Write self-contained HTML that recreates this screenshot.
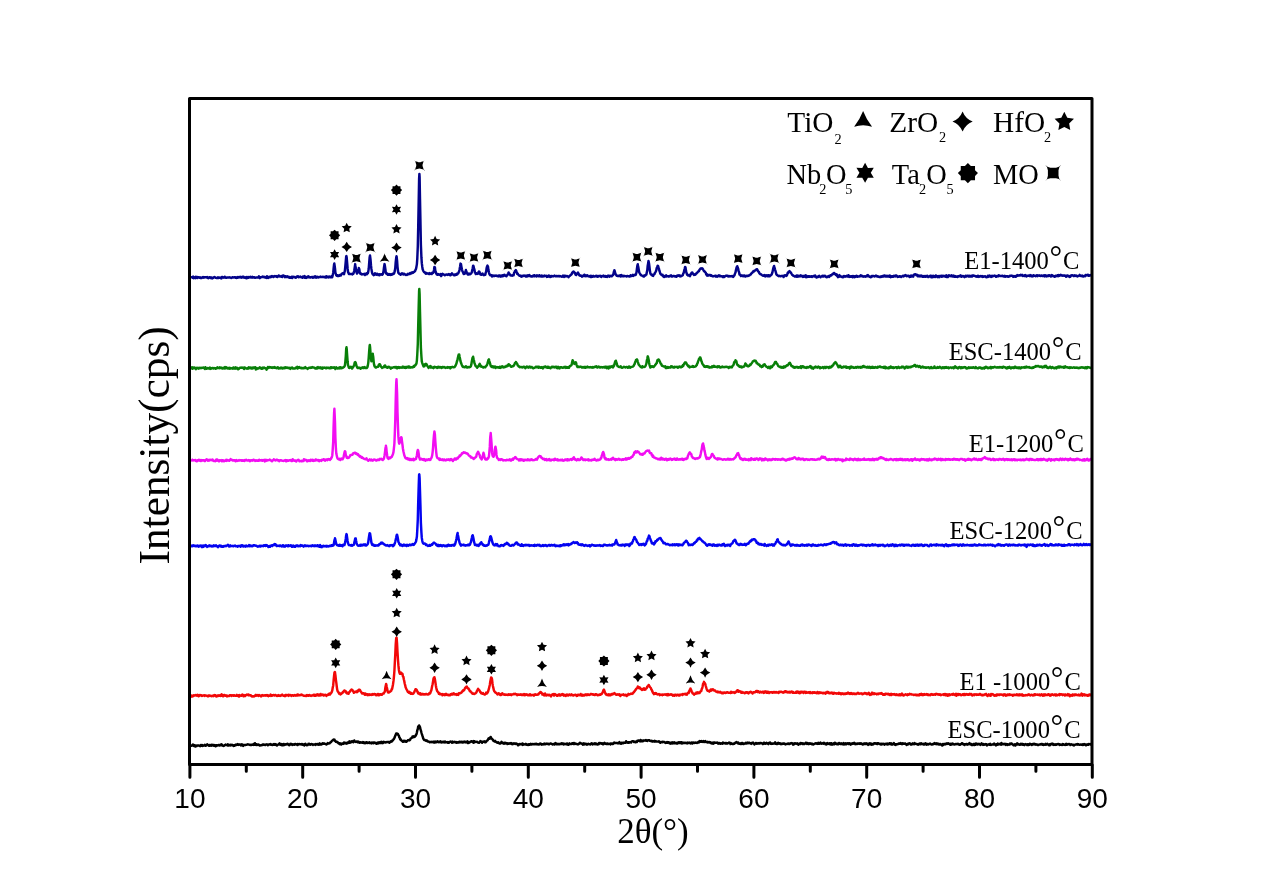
<!DOCTYPE html>
<html><head><meta charset="utf-8"><title>XRD</title>
<style>
html,body{margin:0;padding:0;background:#fff;}
svg{display:block;}
.serif{font-family:"Liberation Serif","Times New Roman",serif;}
.sans{font-family:"Liberation Sans",Arial,sans-serif;}
</style></head><body>
<svg width="1269" height="892" viewBox="0 0 1269 892">
<rect width="1269" height="892" fill="#fff"/>
<path d="M191.0,278.2 L191.4,277.3 L191.9,277.4 L192.3,277.0 L192.8,277.8 L193.2,276.6 L193.7,278.2 L194.1,277.2 L194.6,277.8 L195.0,277.4 L195.5,278.1 L195.9,276.7 L196.4,277.4 L196.8,277.3 L197.3,278.0 L197.7,277.1 L198.2,277.5 L198.6,277.2 L199.1,277.5 L199.5,277.8 L200.0,277.2 L200.4,278.1 L200.9,278.0 L201.3,277.9 L201.8,278.0 L202.2,277.3 L202.7,277.4 L203.1,277.1 L203.6,277.4 L204.0,277.7 L204.5,277.2 L204.9,277.3 L205.4,277.1 L205.8,277.1 L206.3,277.1 L206.7,277.4 L207.2,277.1 L207.6,277.7 L208.1,278.2 L208.5,277.9 L209.0,277.5 L209.4,277.2 L209.9,277.2 L210.3,278.1 L210.8,277.6 L211.2,277.4 L211.7,277.7 L212.1,278.4 L212.6,277.7 L213.0,277.9 L213.5,277.6 L213.9,277.3 L214.4,277.0 L214.8,277.3 L215.3,277.4 L215.7,277.8 L216.2,277.9 L216.6,278.0 L217.1,277.7 L217.5,278.0 L218.0,277.3 L218.4,278.0 L218.9,277.7 L219.3,277.5 L219.8,277.8 L220.2,277.6 L220.7,278.2 L221.1,278.2 L221.6,278.4 L222.0,277.0 L222.5,276.9 L222.9,277.2 L223.4,277.5 L223.8,277.7 L224.3,277.5 L224.7,276.7 L225.2,277.3 L225.6,277.7 L226.1,277.6 L226.5,277.8 L227.0,277.4 L227.4,277.4 L227.9,277.5 L228.3,277.6 L228.8,277.5 L229.2,277.5 L229.7,277.2 L230.1,277.6 L230.6,277.6 L231.0,278.0 L231.5,278.0 L231.9,277.6 L232.4,277.3 L232.8,277.2 L233.3,277.5 L233.7,277.4 L234.2,277.3 L234.6,277.4 L235.1,277.2 L235.5,277.7 L236.0,277.3 L236.4,278.0 L236.9,277.6 L237.3,277.7 L237.8,277.0 L238.2,277.4 L238.7,277.6 L239.1,277.0 L239.6,277.2 L240.0,277.3 L240.5,276.9 L240.9,277.5 L241.4,277.7 L241.8,277.0 L242.3,277.5 L242.7,276.7 L243.2,277.3 L243.6,276.7 L244.1,277.8 L244.5,277.5 L245.0,277.5 L245.4,277.2 L245.9,277.9 L246.3,278.2 L246.8,276.9 L247.2,278.0 L247.7,278.0 L248.1,277.6 L248.6,277.0 L249.0,277.6 L249.5,277.2 L249.9,277.1 L250.4,276.8 L250.8,277.5 L251.3,277.6 L251.7,277.1 L252.2,277.5 L252.6,276.9 L253.1,277.6 L253.5,277.3 L254.0,277.3 L254.4,277.3 L254.9,277.7 L255.3,277.7 L255.8,277.6 L256.2,277.5 L256.7,277.4 L257.1,277.6 L257.6,277.4 L258.0,277.5 L258.5,277.1 L258.9,276.4 L259.4,277.7 L259.8,278.1 L260.3,277.6 L260.7,277.3 L261.2,277.2 L261.6,277.1 L262.1,277.1 L262.5,276.6 L263.0,276.9 L263.4,276.7 L263.9,277.2 L264.3,277.0 L264.8,277.4 L265.2,277.1 L265.7,277.6 L266.1,277.2 L266.6,277.9 L267.0,276.3 L267.5,276.9 L267.9,277.3 L268.4,277.9 L268.8,276.9 L269.3,277.0 L269.7,276.7 L270.2,277.3 L270.6,276.6 L271.1,276.9 L271.5,276.4 L272.0,276.0 L272.4,276.6 L272.9,276.6 L273.3,276.9 L273.8,276.3 L274.2,276.1 L274.7,276.4 L275.1,276.2 L275.6,276.3 L276.0,276.1 L276.5,276.7 L276.9,276.4 L277.4,277.0 L277.8,276.5 L278.3,276.4 L278.7,275.4 L279.2,276.3 L279.6,276.3 L280.1,276.5 L280.5,276.6 L281.0,276.1 L281.4,276.6 L281.9,276.0 L282.3,277.0 L282.8,275.6 L283.2,275.5 L283.7,275.5 L284.1,276.0 L284.6,276.0 L285.0,277.2 L285.5,276.5 L285.9,276.2 L286.4,277.0 L286.8,276.5 L287.3,276.3 L287.7,277.1 L288.2,277.1 L288.6,276.8 L289.1,277.6 L289.5,277.1 L290.0,277.8 L290.4,277.4 L290.9,277.7 L291.3,277.2 L291.8,276.7 L292.2,278.0 L292.7,276.8 L293.1,277.0 L293.6,276.7 L294.0,277.0 L294.5,277.2 L294.9,277.3 L295.4,277.5 L295.8,277.8 L296.3,277.1 L296.7,276.6 L297.2,276.4 L297.6,276.7 L298.1,276.3 L298.5,277.3 L299.0,276.9 L299.4,276.9 L299.9,277.0 L300.3,276.5 L300.8,276.8 L301.2,277.3 L301.7,277.4 L302.1,277.0 L302.6,277.8 L303.0,276.6 L303.5,276.8 L303.9,276.9 L304.4,276.0 L304.8,277.7 L305.3,277.3 L305.7,276.9 L306.2,278.0 L306.6,277.4 L307.1,277.4 L307.5,276.8 L308.0,277.1 L308.4,276.4 L308.9,277.3 L309.3,277.0 L309.8,277.2 L310.2,277.6 L310.7,277.3 L311.1,277.2 L311.6,277.2 L312.0,276.9 L312.5,277.5 L312.9,277.8 L313.4,277.5 L313.8,277.5 L314.3,276.6 L314.7,276.7 L315.2,276.4 L315.6,277.5 L316.1,277.0 L316.5,277.6 L317.0,276.7 L317.4,276.9 L317.9,277.1 L318.3,277.4 L318.8,277.1 L319.2,277.2 L319.7,277.0 L320.1,277.0 L320.6,276.5 L321.0,277.0 L321.5,276.9 L321.9,276.9 L322.4,277.1 L322.8,276.7 L323.3,276.9 L323.7,276.9 L324.2,277.1 L324.6,277.3 L325.1,276.7 L325.5,277.2 L326.0,277.7 L326.4,276.3 L326.9,276.5 L327.3,276.5 L327.8,276.8 L328.2,277.5 L328.7,276.9 L329.1,276.6 L329.6,277.1 L330.0,276.6 L330.5,277.2 L330.9,276.7 L331.4,277.1 L331.8,276.1 L332.3,277.1 L332.7,275.3 L333.2,272.9 L333.6,268.5 L334.1,264.2 L334.3,263.5 L334.5,264.6 L335.0,268.4 L335.4,272.6 L335.9,274.1 L336.3,275.4 L336.8,275.8 L337.2,275.3 L337.7,276.0 L338.1,275.4 L338.6,276.0 L339.0,275.6 L339.5,275.8 L339.9,274.9 L340.4,275.2 L340.8,275.5 L341.3,274.6 L341.7,273.8 L342.2,273.5 L342.6,273.2 L343.1,273.3 L343.5,273.8 L344.0,274.1 L344.4,272.5 L344.9,270.6 L345.3,266.3 L345.8,260.8 L346.2,256.4 L346.4,256.0 L346.7,257.6 L347.1,262.3 L347.6,268.4 L348.0,271.7 L348.5,273.0 L348.9,273.9 L349.4,273.6 L349.8,273.9 L350.3,274.1 L350.7,274.1 L351.2,274.0 L351.6,274.0 L352.1,273.9 L352.5,274.4 L353.0,273.2 L353.4,273.7 L353.9,272.3 L354.3,270.3 L354.8,266.9 L355.2,264.1 L355.2,265.4 L355.7,267.4 L356.1,270.7 L356.6,272.4 L357.0,273.6 L357.5,272.8 L357.9,272.2 L358.4,269.5 L358.8,269.1 L358.8,267.9 L359.3,269.1 L359.7,272.1 L360.2,273.6 L360.6,274.0 L361.1,273.6 L361.5,274.1 L362.0,274.5 L362.4,274.3 L362.9,274.3 L363.3,274.3 L363.8,273.9 L364.2,274.1 L364.7,273.8 L365.1,275.0 L365.6,274.1 L366.0,274.5 L366.5,273.6 L366.9,274.2 L367.4,272.9 L367.8,273.4 L368.3,271.4 L368.7,269.0 L369.2,262.5 L369.6,257.5 L370.0,255.5 L370.1,256.1 L370.5,259.4 L371.0,265.4 L371.4,268.9 L371.9,271.9 L372.3,273.4 L372.8,274.3 L373.2,274.2 L373.7,275.2 L374.1,275.0 L374.6,274.3 L375.0,273.3 L375.5,273.5 L375.9,274.0 L376.4,274.7 L376.8,274.5 L377.3,273.7 L377.7,274.4 L378.2,275.0 L378.6,274.5 L379.1,274.3 L379.5,275.3 L380.0,274.5 L380.4,274.3 L380.9,274.5 L381.3,274.4 L381.8,274.2 L382.2,274.7 L382.7,274.3 L383.1,273.3 L383.6,270.6 L384.0,267.4 L384.5,264.1 L384.6,264.2 L384.9,265.8 L385.4,269.5 L385.8,272.7 L386.3,273.6 L386.7,273.3 L387.2,273.6 L387.6,274.7 L388.1,274.1 L388.5,274.6 L389.0,274.0 L389.4,274.8 L389.9,274.2 L390.3,275.0 L390.8,274.2 L391.2,274.8 L391.7,274.6 L392.1,274.0 L392.6,274.5 L393.0,273.6 L393.5,273.5 L393.9,273.7 L394.4,272.5 L394.8,270.9 L395.3,267.6 L395.7,262.2 L396.2,257.8 L396.5,256.3 L396.6,256.4 L397.1,260.8 L397.5,266.6 L398.0,271.1 L398.4,272.9 L398.9,273.3 L399.3,274.0 L399.8,273.9 L400.2,274.0 L400.7,274.8 L401.1,273.9 L401.6,273.9 L402.0,273.3 L402.5,273.5 L402.9,274.3 L403.4,273.9 L403.8,274.4 L404.3,273.8 L404.7,274.0 L405.2,274.5 L405.6,274.9 L406.1,274.7 L406.5,274.9 L407.0,275.0 L407.4,274.6 L407.9,273.8 L408.3,274.0 L408.8,274.2 L409.2,273.7 L409.7,274.0 L410.1,273.1 L410.6,273.2 L411.0,273.5 L411.5,272.5 L411.9,272.7 L412.4,272.9 L412.8,272.2 L413.3,272.6 L413.7,272.0 L414.2,271.9 L414.6,271.4 L415.1,271.0 L415.5,269.8 L416.0,268.9 L416.4,266.9 L416.9,264.1 L417.3,258.3 L417.8,246.2 L418.2,227.2 L418.7,201.0 L419.1,178.8 L419.4,173.9 L419.6,176.8 L420.0,198.7 L420.5,224.6 L420.9,244.9 L421.4,257.2 L421.8,263.2 L422.3,267.0 L422.7,269.5 L423.2,270.6 L423.6,271.3 L424.1,272.1 L424.5,271.9 L425.0,272.8 L425.4,273.3 L425.9,273.7 L426.3,273.0 L426.8,273.2 L427.2,273.5 L427.7,273.5 L428.1,273.5 L428.6,273.9 L429.0,273.6 L429.5,273.1 L429.9,273.9 L430.4,273.6 L430.8,273.6 L431.3,273.2 L431.7,274.1 L432.2,272.8 L432.6,273.0 L433.1,273.0 L433.5,272.2 L434.0,270.0 L434.4,267.0 L434.6,267.2 L434.9,267.2 L435.3,270.7 L435.8,271.9 L436.2,273.5 L436.7,274.4 L437.1,274.1 L437.6,274.8 L438.0,274.0 L438.5,274.5 L438.9,274.7 L439.4,274.5 L439.8,274.9 L440.3,274.8 L440.7,274.0 L441.2,276.1 L441.6,274.8 L442.1,274.6 L442.5,273.9 L443.0,274.4 L443.4,274.2 L443.9,274.8 L444.3,274.7 L444.8,275.3 L445.2,274.7 L445.7,274.8 L446.1,274.6 L446.6,274.5 L447.0,274.5 L447.5,274.9 L447.9,274.8 L448.4,274.2 L448.8,274.1 L449.3,274.4 L449.7,275.0 L450.2,274.6 L450.6,275.2 L451.1,274.1 L451.5,274.4 L452.0,273.3 L452.4,274.1 L452.9,274.3 L453.3,274.7 L453.8,275.2 L454.2,274.6 L454.7,275.2 L455.1,274.7 L455.6,274.9 L456.0,274.2 L456.5,274.8 L456.9,273.8 L457.4,274.2 L457.8,273.4 L458.3,273.3 L458.7,272.2 L459.2,271.3 L459.6,269.3 L460.1,266.4 L460.5,263.6 L460.8,264.2 L461.0,264.1 L461.4,266.6 L461.9,269.3 L462.3,271.0 L462.8,271.9 L463.2,272.9 L463.7,274.1 L464.1,273.3 L464.6,273.8 L465.0,272.4 L465.5,271.7 L465.9,270.0 L466.0,271.1 L466.4,271.3 L466.8,273.1 L467.3,273.7 L467.7,274.4 L468.2,274.1 L468.6,274.4 L469.1,273.5 L469.5,273.7 L470.0,274.2 L470.4,273.9 L470.9,273.7 L471.3,273.2 L471.8,272.4 L472.2,270.2 L472.7,268.3 L473.1,265.8 L473.4,265.8 L473.6,266.4 L474.0,268.4 L474.5,269.9 L474.9,272.5 L475.4,272.9 L475.8,274.1 L476.3,273.3 L476.7,273.7 L477.2,273.9 L477.6,273.8 L478.1,273.6 L478.5,272.1 L479.0,271.6 L479.0,271.4 L479.4,271.7 L479.9,273.1 L480.3,274.5 L480.8,274.6 L481.2,274.7 L481.7,274.1 L482.1,274.6 L482.6,273.6 L483.0,274.6 L483.5,274.4 L483.9,275.1 L484.4,274.6 L484.8,274.5 L485.3,274.7 L485.7,272.7 L486.2,271.5 L486.6,268.1 L487.1,266.4 L487.5,265.5 L487.5,265.8 L488.0,266.7 L488.4,269.8 L488.9,272.2 L489.3,273.8 L489.8,274.7 L490.2,275.2 L490.7,275.3 L491.1,275.1 L491.6,275.2 L492.0,276.5 L492.5,276.4 L492.9,275.4 L493.4,276.0 L493.8,276.0 L494.3,276.1 L494.7,275.9 L495.2,275.5 L495.6,275.7 L496.1,275.6 L496.5,275.9 L497.0,275.8 L497.4,275.9 L497.9,276.3 L498.3,276.4 L498.8,275.5 L499.2,275.7 L499.7,275.5 L500.1,276.4 L500.6,276.0 L501.0,276.6 L501.5,275.7 L501.9,276.0 L502.4,275.3 L502.8,276.3 L503.3,275.6 L503.7,275.1 L504.2,275.4 L504.6,274.8 L505.1,275.7 L505.5,275.8 L506.0,275.9 L506.4,276.3 L506.9,275.3 L507.3,275.2 L507.8,274.2 L508.2,273.5 L508.6,272.5 L508.7,273.6 L509.1,273.4 L509.6,274.4 L510.0,274.4 L510.5,275.4 L510.9,275.5 L511.4,275.6 L511.8,275.4 L512.3,275.7 L512.7,275.5 L513.2,274.9 L513.6,275.2 L514.1,272.8 L514.5,272.1 L515.0,271.0 L515.4,271.1 L515.5,270.6 L515.9,270.1 L516.3,271.3 L516.8,272.6 L517.2,273.8 L517.7,273.6 L518.1,274.5 L518.6,275.0 L519.0,275.1 L519.5,275.8 L519.9,275.7 L520.4,276.0 L520.8,275.6 L521.3,276.6 L521.7,276.0 L522.2,276.5 L522.6,275.8 L523.1,276.1 L523.5,275.6 L524.0,275.5 L524.4,275.6 L524.9,275.9 L525.3,275.9 L525.8,276.5 L526.2,275.6 L526.7,275.7 L527.1,276.5 L527.6,276.2 L528.0,275.4 L528.5,276.1 L528.9,275.9 L529.4,275.1 L529.8,275.8 L530.3,276.0 L530.7,276.4 L531.2,276.5 L531.6,276.2 L532.1,276.5 L532.5,275.9 L533.0,275.7 L533.4,275.5 L533.9,276.1 L534.3,275.2 L534.8,276.2 L535.2,275.5 L535.7,276.0 L536.1,276.1 L536.6,276.4 L537.0,275.3 L537.5,275.6 L537.9,275.9 L538.4,275.7 L538.8,276.3 L539.3,275.2 L539.7,276.2 L540.2,276.2 L540.6,276.1 L541.1,276.5 L541.5,275.6 L542.0,276.5 L542.4,275.8 L542.9,276.4 L543.3,276.0 L543.8,276.4 L544.2,276.3 L544.7,275.5 L545.1,275.9 L545.6,275.9 L546.0,276.0 L546.5,275.8 L546.9,276.9 L547.4,276.3 L547.8,276.8 L548.3,275.9 L548.7,275.6 L549.2,276.1 L549.6,275.9 L550.1,277.1 L550.5,276.3 L551.0,276.7 L551.4,276.0 L551.9,276.0 L552.3,276.1 L552.8,276.2 L553.2,276.4 L553.7,276.0 L554.1,275.8 L554.6,275.6 L555.0,276.0 L555.5,276.3 L555.9,276.3 L556.4,276.1 L556.8,275.9 L557.3,276.1 L557.7,276.3 L558.2,276.1 L558.6,276.2 L559.1,276.0 L559.5,276.4 L560.0,276.0 L560.4,276.2 L560.9,276.3 L561.3,276.5 L561.8,276.8 L562.2,276.4 L562.7,276.4 L563.1,275.6 L563.6,276.3 L564.0,276.9 L564.5,275.8 L564.9,275.7 L565.4,275.9 L565.8,276.4 L566.3,276.2 L566.7,275.9 L567.2,276.1 L567.6,276.5 L568.1,276.4 L568.5,277.1 L569.0,276.5 L569.4,276.1 L569.9,275.9 L570.3,275.3 L570.8,274.8 L571.2,274.7 L571.7,274.2 L572.1,272.8 L572.6,272.3 L573.0,271.7 L573.5,271.7 L573.6,271.5 L573.9,272.0 L574.4,272.3 L574.8,273.4 L575.3,273.1 L575.7,274.9 L576.2,275.0 L576.6,274.4 L577.1,274.0 L577.5,273.3 L578.0,272.5 L578.0,272.8 L578.4,273.5 L578.9,274.2 L579.3,275.3 L579.8,275.4 L580.2,275.7 L580.7,275.5 L581.1,275.8 L581.6,275.8 L582.0,276.6 L582.5,276.1 L582.9,275.7 L583.4,276.0 L583.8,275.8 L584.3,274.7 L584.7,276.1 L585.2,275.3 L585.6,276.2 L586.1,275.6 L586.5,275.4 L587.0,276.1 L587.4,275.4 L587.9,275.9 L588.3,276.2 L588.8,276.4 L589.2,276.4 L589.7,276.2 L590.1,275.9 L590.6,277.0 L591.0,276.0 L591.5,277.0 L591.9,276.1 L592.4,276.7 L592.8,276.6 L593.3,275.9 L593.7,276.4 L594.2,276.5 L594.6,276.5 L595.1,276.1 L595.5,276.2 L596.0,276.0 L596.4,275.7 L596.9,276.5 L597.3,276.0 L597.8,276.7 L598.2,276.4 L598.7,275.9 L599.1,276.0 L599.6,276.0 L600.0,275.8 L600.5,276.4 L600.9,276.1 L601.4,276.9 L601.8,276.5 L602.3,275.9 L602.7,276.1 L603.2,276.0 L603.6,275.6 L604.1,276.6 L604.5,276.5 L605.0,276.7 L605.4,276.1 L605.9,276.7 L606.3,276.2 L606.8,276.7 L607.2,276.9 L607.7,276.2 L608.1,275.6 L608.6,276.0 L609.0,276.3 L609.5,276.6 L609.9,275.7 L610.4,276.0 L610.8,276.1 L611.3,276.2 L611.7,276.3 L612.2,275.5 L612.6,275.4 L613.1,275.2 L613.5,273.5 L614.0,271.3 L614.4,270.5 L614.4,270.1 L614.9,271.7 L615.3,273.4 L615.8,274.4 L616.2,275.0 L616.7,275.7 L617.1,275.8 L617.6,275.7 L618.0,276.1 L618.5,275.7 L618.9,276.1 L619.4,275.9 L619.8,275.7 L620.3,275.2 L620.7,276.5 L621.2,276.1 L621.6,275.1 L622.1,275.8 L622.5,276.2 L623.0,276.0 L623.4,276.3 L623.9,275.7 L624.3,276.2 L624.8,276.0 L625.2,276.1 L625.7,276.1 L626.1,276.2 L626.6,276.5 L627.0,275.9 L627.5,276.0 L627.9,276.1 L628.4,276.1 L628.8,276.4 L629.3,276.5 L629.7,276.6 L630.2,276.0 L630.6,275.2 L631.1,275.9 L631.5,276.0 L632.0,275.8 L632.4,275.8 L632.9,274.9 L633.3,275.9 L633.8,275.5 L634.2,275.0 L634.7,275.1 L635.1,274.9 L635.6,275.1 L636.0,274.0 L636.5,272.3 L636.9,269.0 L637.4,265.3 L637.8,264.2 L637.8,265.1 L638.3,267.0 L638.7,269.4 L639.2,272.2 L639.6,273.1 L640.1,273.9 L640.5,274.6 L641.0,275.2 L641.4,275.3 L641.9,275.6 L642.3,275.6 L642.8,276.0 L643.2,276.4 L643.7,275.9 L644.1,276.5 L644.6,275.4 L645.0,275.3 L645.5,275.4 L645.9,274.7 L646.4,274.6 L646.8,272.2 L647.3,270.1 L647.7,265.7 L648.2,263.1 L648.5,261.0 L648.6,261.2 L649.1,264.0 L649.5,267.2 L650.0,271.6 L650.4,273.5 L650.9,274.5 L651.3,274.3 L651.8,274.6 L652.2,275.5 L652.7,275.8 L653.1,275.9 L653.6,274.8 L654.0,274.3 L654.5,274.1 L654.9,272.8 L655.4,272.3 L655.8,271.5 L656.3,270.2 L656.7,268.0 L657.2,267.0 L657.6,265.8 L657.7,265.7 L658.1,266.0 L658.5,267.4 L659.0,268.9 L659.4,270.8 L659.9,272.1 L660.3,273.6 L660.8,274.3 L661.2,274.3 L661.7,275.0 L662.1,275.0 L662.6,274.8 L663.0,276.0 L663.5,276.6 L663.9,277.0 L664.4,276.8 L664.8,275.9 L665.3,276.4 L665.7,276.4 L666.2,275.3 L666.6,276.4 L667.1,276.2 L667.5,276.2 L668.0,276.3 L668.4,276.2 L668.9,276.7 L669.3,276.0 L669.8,276.1 L670.2,276.0 L670.7,276.2 L671.1,275.4 L671.6,276.6 L672.0,276.2 L672.5,276.4 L672.9,276.2 L673.4,276.0 L673.8,275.9 L674.3,276.2 L674.7,276.2 L675.2,276.6 L675.6,276.4 L676.1,276.1 L676.5,276.8 L677.0,275.6 L677.4,275.5 L677.9,276.0 L678.3,275.8 L678.8,275.2 L679.2,275.8 L679.7,275.6 L680.1,276.4 L680.6,275.7 L681.0,276.3 L681.5,276.0 L681.9,275.7 L682.4,275.4 L682.8,275.2 L683.3,273.3 L683.7,272.9 L684.2,270.4 L684.6,269.1 L685.1,266.9 L685.1,267.6 L685.5,267.3 L686.0,270.8 L686.4,272.7 L686.9,274.1 L687.3,274.9 L687.8,275.2 L688.2,275.6 L688.7,275.4 L689.1,274.9 L689.6,275.4 L690.0,276.1 L690.5,274.9 L690.9,274.3 L691.4,273.0 L691.8,272.6 L692.0,272.5 L692.3,272.5 L692.7,273.6 L693.2,273.7 L693.6,274.6 L694.1,275.0 L694.5,274.8 L695.0,274.2 L695.4,274.6 L695.9,273.7 L696.3,273.6 L696.8,273.0 L697.2,272.7 L697.7,272.1 L698.1,271.6 L698.6,271.3 L699.0,271.1 L699.5,269.7 L699.9,269.4 L700.4,268.6 L700.8,268.4 L701.3,268.7 L701.7,268.3 L702.2,268.3 L702.6,268.7 L703.1,269.4 L703.5,270.3 L704.0,271.3 L704.4,271.1 L704.9,271.8 L705.3,272.4 L705.8,272.7 L706.2,274.5 L706.7,274.3 L707.1,275.6 L707.6,274.5 L708.0,275.7 L708.5,275.0 L708.9,275.3 L709.4,275.0 L709.8,275.2 L710.3,275.0 L710.7,275.7 L711.2,275.2 L711.6,275.8 L712.1,275.9 L712.5,276.2 L713.0,276.1 L713.4,276.2 L713.9,276.2 L714.3,276.0 L714.8,276.1 L715.2,275.7 L715.7,275.8 L716.1,276.7 L716.6,276.1 L717.0,275.9 L717.5,276.6 L717.9,275.9 L718.4,275.8 L718.8,275.4 L719.3,276.2 L719.7,275.6 L720.2,275.9 L720.6,276.3 L721.1,276.2 L721.5,276.2 L722.0,276.2 L722.4,276.7 L722.9,277.1 L723.3,276.2 L723.8,276.6 L724.2,276.9 L724.7,276.6 L725.1,275.9 L725.6,275.9 L726.0,275.7 L726.5,275.6 L726.9,275.7 L727.4,276.1 L727.8,275.8 L728.3,276.4 L728.7,276.1 L729.2,276.0 L729.6,276.4 L730.1,276.2 L730.5,276.2 L731.0,276.4 L731.4,276.3 L731.9,276.0 L732.3,276.4 L732.8,276.1 L733.2,277.0 L733.7,276.1 L734.1,275.7 L734.6,275.0 L735.0,273.5 L735.5,272.5 L735.9,270.2 L736.4,268.2 L736.8,266.9 L737.2,266.9 L737.3,266.2 L737.7,267.7 L738.2,268.8 L738.6,271.3 L739.1,272.3 L739.5,274.5 L740.0,274.9 L740.4,274.7 L740.9,276.1 L741.3,275.4 L741.8,275.4 L742.2,275.4 L742.7,276.0 L743.1,276.3 L743.6,275.6 L744.0,275.5 L744.5,275.4 L744.9,276.4 L745.4,276.6 L745.8,275.9 L746.3,276.1 L746.7,275.8 L747.2,275.8 L747.6,276.1 L748.1,275.8 L748.5,275.7 L749.0,275.3 L749.4,275.5 L749.9,274.9 L750.3,274.7 L750.8,274.4 L751.2,273.5 L751.7,273.4 L752.1,272.8 L752.6,272.5 L753.0,271.5 L753.5,271.0 L753.9,271.5 L754.4,271.0 L754.8,270.5 L755.3,270.5 L755.7,269.8 L756.2,269.5 L756.6,269.7 L757.1,269.2 L757.5,270.0 L758.0,271.2 L758.4,271.6 L758.9,271.8 L759.3,273.1 L759.8,273.7 L760.2,274.1 L760.7,274.2 L761.1,274.2 L761.6,274.8 L762.0,275.2 L762.5,275.2 L762.9,275.7 L763.4,275.6 L763.8,275.8 L764.3,275.0 L764.7,276.2 L765.2,276.4 L765.6,275.7 L766.1,275.3 L766.5,276.0 L767.0,275.6 L767.4,275.4 L767.9,276.3 L768.3,275.2 L768.8,276.1 L769.2,275.3 L769.7,276.3 L770.1,275.8 L770.6,275.4 L771.0,275.2 L771.5,274.7 L771.9,273.9 L772.4,272.4 L772.8,270.5 L773.3,268.1 L773.7,267.0 L774.1,265.9 L774.2,266.9 L774.6,267.7 L775.1,269.8 L775.5,271.0 L776.0,272.9 L776.4,274.3 L776.9,275.0 L777.3,275.2 L777.8,275.7 L778.2,275.7 L778.7,276.2 L779.1,275.7 L779.6,276.1 L780.0,276.1 L780.5,276.3 L780.9,276.0 L781.4,276.1 L781.8,276.0 L782.3,276.0 L782.7,276.1 L783.2,275.9 L783.6,277.0 L784.1,275.6 L784.5,275.4 L785.0,275.3 L785.4,275.3 L785.9,275.6 L786.3,275.9 L786.8,275.5 L787.2,274.5 L787.7,272.8 L788.1,273.1 L788.6,271.7 L789.0,271.7 L789.5,271.1 L789.7,271.7 L789.9,271.4 L790.4,272.3 L790.8,272.8 L791.3,273.2 L791.7,274.0 L792.2,274.9 L792.6,274.9 L793.1,275.7 L793.5,275.6 L794.0,276.0 L794.4,276.3 L794.9,276.6 L795.3,276.4 L795.8,276.1 L796.2,276.4 L796.7,275.5 L797.1,276.8 L797.6,275.6 L798.0,276.6 L798.5,275.9 L798.9,276.4 L799.4,276.1 L799.8,276.2 L800.3,275.8 L800.7,275.3 L801.2,276.2 L801.6,275.8 L802.1,276.0 L802.5,275.9 L803.0,277.0 L803.4,276.0 L803.9,276.5 L804.3,275.8 L804.8,276.7 L805.2,276.1 L805.7,275.3 L806.1,277.3 L806.6,275.9 L807.0,277.0 L807.5,276.6 L807.9,276.7 L808.4,276.3 L808.8,276.4 L809.3,276.8 L809.7,276.3 L810.2,276.5 L810.6,276.7 L811.1,276.4 L811.5,276.2 L812.0,276.9 L812.4,276.4 L812.9,276.2 L813.3,276.0 L813.8,275.9 L814.2,276.5 L814.7,276.6 L815.1,275.5 L815.6,276.1 L816.0,276.8 L816.5,277.5 L816.9,277.5 L817.4,277.0 L817.8,277.0 L818.3,276.2 L818.7,276.6 L819.2,275.8 L819.6,276.2 L820.1,276.5 L820.5,277.3 L821.0,276.7 L821.4,276.5 L821.9,276.2 L822.3,275.7 L822.8,276.5 L823.2,276.1 L823.7,276.4 L824.1,275.8 L824.6,276.2 L825.0,275.7 L825.5,276.5 L825.9,276.9 L826.4,276.8 L826.8,277.3 L827.3,276.6 L827.7,276.5 L828.2,276.5 L828.6,276.0 L829.1,277.0 L829.5,276.4 L830.0,275.9 L830.4,275.3 L830.9,275.6 L831.3,275.4 L831.8,274.8 L832.2,274.4 L832.7,273.9 L833.1,273.7 L833.6,274.0 L833.6,274.1 L834.0,273.0 L834.5,273.8 L834.9,273.6 L835.4,274.0 L835.8,275.0 L836.3,274.8 L836.7,274.4 L837.2,276.1 L837.6,276.5 L838.1,277.1 L838.5,276.1 L839.0,276.7 L839.4,275.1 L839.9,275.8 L840.3,276.4 L840.8,276.5 L841.2,276.9 L841.7,276.8 L842.1,276.5 L842.6,277.1 L843.0,276.7 L843.5,277.1 L843.9,276.1 L844.4,276.5 L844.8,276.1 L845.3,276.6 L845.7,276.2 L846.2,276.2 L846.6,275.8 L847.1,276.5 L847.5,276.6 L848.0,276.6 L848.4,275.2 L848.9,275.6 L849.3,276.9 L849.8,276.3 L850.2,276.4 L850.7,276.8 L851.1,276.4 L851.6,276.2 L852.0,276.3 L852.5,277.1 L852.9,275.9 L853.4,276.9 L853.8,276.3 L854.3,276.3 L854.7,277.1 L855.2,276.2 L855.6,276.7 L856.1,276.1 L856.5,275.8 L857.0,276.2 L857.4,276.8 L857.9,276.4 L858.3,276.6 L858.8,276.4 L859.2,276.4 L859.7,276.1 L860.1,276.3 L860.6,275.4 L861.0,276.0 L861.5,275.5 L861.9,276.3 L862.4,276.4 L862.8,276.1 L863.3,276.7 L863.7,276.5 L864.2,276.6 L864.6,276.3 L865.1,276.6 L865.5,276.7 L866.0,276.2 L866.4,276.0 L866.9,276.5 L867.3,275.2 L867.8,275.1 L868.2,275.4 L868.7,276.3 L869.1,276.4 L869.6,276.7 L870.0,276.6 L870.5,277.2 L870.9,277.1 L871.4,277.0 L871.8,276.0 L872.3,276.5 L872.7,275.9 L873.2,276.1 L873.6,275.9 L874.1,276.3 L874.5,276.5 L875.0,276.3 L875.4,275.8 L875.9,275.6 L876.3,275.9 L876.8,276.0 L877.2,276.6 L877.7,276.2 L878.1,276.4 L878.6,276.4 L879.0,276.9 L879.5,277.1 L879.9,276.8 L880.4,276.5 L880.8,277.0 L881.3,276.6 L881.7,276.3 L882.2,276.7 L882.6,276.5 L883.1,275.9 L883.5,276.5 L884.0,276.3 L884.4,275.5 L884.9,275.4 L885.3,276.3 L885.8,276.5 L886.2,276.6 L886.7,275.9 L887.1,276.2 L887.6,276.5 L888.0,275.8 L888.5,276.4 L888.9,276.3 L889.4,276.7 L889.8,275.5 L890.3,276.4 L890.7,277.1 L891.2,276.3 L891.6,276.3 L892.1,276.8 L892.5,276.2 L893.0,276.8 L893.4,276.6 L893.9,275.7 L894.3,276.3 L894.8,275.7 L895.2,276.5 L895.7,275.5 L896.1,275.5 L896.6,275.7 L897.0,276.0 L897.5,276.9 L897.9,276.5 L898.4,276.6 L898.8,276.8 L899.3,276.1 L899.7,276.1 L900.2,276.1 L900.6,276.7 L901.1,277.0 L901.5,276.5 L902.0,276.1 L902.4,276.1 L902.9,275.8 L903.3,276.5 L903.8,275.8 L904.2,276.1 L904.7,275.6 L905.1,275.3 L905.6,275.1 L906.0,275.7 L906.5,276.2 L906.9,276.1 L907.4,276.1 L907.8,275.7 L908.3,275.8 L908.7,275.8 L909.2,276.4 L909.6,277.0 L910.1,276.3 L910.5,275.7 L911.0,276.6 L911.4,275.6 L911.9,276.2 L912.3,275.7 L912.8,275.7 L913.2,276.7 L913.7,274.9 L914.1,274.6 L914.6,274.6 L915.0,274.3 L915.2,274.2 L915.5,274.2 L915.9,274.8 L916.4,275.2 L916.8,274.8 L917.3,274.9 L917.7,276.2 L918.2,275.3 L918.6,276.2 L919.1,276.2 L919.5,275.7 L920.0,276.4 L920.4,275.6 L920.9,275.7 L921.3,275.6 L921.8,276.5 L922.2,276.1 L922.7,276.7 L923.1,276.1 L923.6,276.6 L924.0,276.8 L924.5,276.3 L924.9,275.9 L925.4,276.2 L925.8,276.8 L926.3,276.5 L926.7,276.2 L927.2,275.7 L927.6,276.6 L928.1,277.0 L928.5,277.1 L929.0,276.6 L929.4,276.2 L929.9,275.9 L930.3,276.0 L930.8,275.6 L931.2,277.2 L931.7,276.4 L932.1,277.3 L932.6,276.4 L933.0,275.8 L933.5,276.9 L933.9,276.0 L934.4,276.3 L934.8,276.9 L935.3,276.9 L935.7,275.5 L936.2,276.2 L936.6,275.8 L937.1,276.5 L937.5,277.1 L938.0,276.2 L938.4,277.0 L938.9,276.0 L939.3,277.2 L939.8,276.0 L940.2,276.1 L940.7,276.3 L941.1,275.7 L941.6,276.8 L942.0,275.8 L942.5,276.5 L942.9,275.7 L943.4,276.2 L943.8,276.2 L944.3,276.1 L944.7,276.5 L945.2,275.9 L945.6,276.7 L946.1,276.3 L946.5,275.3 L947.0,277.1 L947.4,276.5 L947.9,276.9 L948.3,276.1 L948.8,275.3 L949.2,275.9 L949.7,275.6 L950.1,276.1 L950.6,275.9 L951.0,276.2 L951.5,275.4 L951.9,276.2 L952.4,275.9 L952.8,276.4 L953.3,275.6 L953.7,276.0 L954.2,276.8 L954.6,275.9 L955.1,276.6 L955.5,276.8 L956.0,276.4 L956.4,276.8 L956.9,276.8 L957.3,277.0 L957.8,276.2 L958.2,276.2 L958.7,276.5 L959.1,275.9 L959.6,276.1 L960.0,275.8 L960.5,275.3 L960.9,276.3 L961.4,276.8 L961.8,276.1 L962.3,276.2 L962.7,276.0 L963.2,275.9 L963.6,276.4 L964.1,276.8 L964.5,277.2 L965.0,276.6 L965.4,275.9 L965.9,275.7 L966.3,276.6 L966.8,276.2 L967.2,275.9 L967.7,275.7 L968.1,275.8 L968.6,276.5 L969.0,276.2 L969.5,275.7 L969.9,276.5 L970.4,276.3 L970.8,276.1 L971.3,276.4 L971.7,275.8 L972.2,276.5 L972.6,275.5 L973.1,275.7 L973.5,275.4 L974.0,275.8 L974.4,275.7 L974.9,276.0 L975.3,276.1 L975.8,276.4 L976.2,276.3 L976.7,276.4 L977.1,276.8 L977.6,276.1 L978.0,275.7 L978.5,276.6 L978.9,277.0 L979.4,276.4 L979.8,276.6 L980.3,276.0 L980.7,276.3 L981.2,276.4 L981.6,276.4 L982.1,276.0 L982.5,276.9 L983.0,276.3 L983.4,276.7 L983.9,276.4 L984.3,276.6 L984.8,276.6 L985.2,276.3 L985.7,276.7 L986.1,277.2 L986.6,277.2 L987.0,276.7 L987.5,277.0 L987.9,275.8 L988.4,276.7 L988.8,276.1 L989.3,275.5 L989.7,276.1 L990.2,276.5 L990.6,276.0 L991.1,276.9 L991.5,276.7 L992.0,275.8 L992.4,276.5 L992.9,276.1 L993.3,275.9 L993.8,275.9 L994.2,275.8 L994.7,275.6 L995.1,275.9 L995.6,276.4 L996.0,276.8 L996.5,276.8 L996.9,275.9 L997.4,276.1 L997.8,275.7 L998.3,276.3 L998.7,275.3 L999.2,275.4 L999.6,275.7 L1000.1,276.1 L1000.5,275.9 L1001.0,276.1 L1001.4,276.0 L1001.9,276.1 L1002.3,275.7 L1002.8,275.9 L1003.2,276.3 L1003.7,276.2 L1004.1,276.6 L1004.6,275.9 L1005.0,276.5 L1005.5,276.7 L1005.9,276.1 L1006.4,276.3 L1006.8,276.2 L1007.3,276.4 L1007.7,276.3 L1008.2,276.8 L1008.6,276.4 L1009.1,276.5 L1009.5,276.2 L1010.0,275.7 L1010.4,276.1 L1010.9,275.8 L1011.3,275.7 L1011.8,275.6 L1012.2,276.0 L1012.7,275.9 L1013.1,276.9 L1013.6,276.8 L1014.0,276.1 L1014.5,276.4 L1014.9,276.5 L1015.4,276.1 L1015.8,276.8 L1016.3,276.3 L1016.7,275.8 L1017.2,275.1 L1017.6,275.3 L1018.1,275.7 L1018.5,275.5 L1019.0,275.6 L1019.4,275.3 L1019.9,275.6 L1020.3,275.2 L1020.8,274.8 L1021.2,275.2 L1021.7,275.2 L1022.1,274.9 L1022.6,276.0 L1023.0,275.5 L1023.5,275.5 L1023.9,275.9 L1024.4,275.6 L1024.8,275.9 L1025.3,275.1 L1025.7,275.3 L1026.2,275.9 L1026.6,276.4 L1027.1,275.9 L1027.5,276.0 L1028.0,275.5 L1028.4,275.8 L1028.9,275.6 L1029.3,275.7 L1029.8,276.1 L1030.2,275.1 L1030.7,275.9 L1031.1,275.5 L1031.6,275.7 L1032.0,276.4 L1032.5,276.0 L1032.9,276.3 L1033.4,275.2 L1033.8,275.7 L1034.3,275.6 L1034.7,275.7 L1035.2,276.0 L1035.6,276.2 L1036.1,275.4 L1036.5,275.4 L1037.0,275.2 L1037.4,276.2 L1037.9,275.6 L1038.3,275.7 L1038.8,275.5 L1039.2,275.3 L1039.7,275.8 L1040.1,275.8 L1040.6,276.0 L1041.0,275.5 L1041.5,275.5 L1041.9,275.4 L1042.4,276.1 L1042.8,276.0 L1043.3,275.6 L1043.7,275.9 L1044.2,275.4 L1044.6,276.4 L1045.1,275.4 L1045.5,275.6 L1046.0,275.5 L1046.4,276.4 L1046.9,275.9 L1047.3,276.2 L1047.8,275.7 L1048.2,275.3 L1048.7,276.0 L1049.1,275.4 L1049.6,275.3 L1050.0,275.7 L1050.5,276.1 L1050.9,276.4 L1051.4,275.3 L1051.8,275.0 L1052.3,276.1 L1052.7,275.9 L1053.2,275.8 L1053.6,276.2 L1054.1,276.3 L1054.5,276.8 L1055.0,276.0 L1055.4,276.5 L1055.9,275.8 L1056.3,275.7 L1056.8,275.9 L1057.2,275.4 L1057.7,275.3 L1058.1,276.1 L1058.6,275.0 L1059.0,275.9 L1059.5,275.6 L1059.9,275.5 L1060.4,275.1 L1060.8,274.8 L1061.3,275.4 L1061.7,275.2 L1062.2,275.6 L1062.6,275.7 L1063.1,275.5 L1063.5,275.4 L1064.0,275.8 L1064.4,275.5 L1064.9,275.4 L1065.3,275.8 L1065.8,276.1 L1066.2,276.8 L1066.7,276.5 L1067.1,275.5 L1067.6,275.4 L1068.0,275.8 L1068.5,276.1 L1068.9,276.0 L1069.4,276.9 L1069.8,276.5 L1070.3,276.7 L1070.7,275.7 L1071.2,275.5 L1071.6,275.3 L1072.1,275.6 L1072.5,275.2 L1073.0,275.5 L1073.4,275.6 L1073.9,276.1 L1074.3,275.6 L1074.8,275.3 L1075.2,275.6 L1075.7,275.8 L1076.1,276.1 L1076.6,275.6 L1077.0,276.2 L1077.5,276.5 L1077.9,276.1 L1078.4,276.0 L1078.8,275.6 L1079.3,275.5 L1079.7,274.9 L1080.2,275.9 L1080.6,275.6 L1081.1,275.9 L1081.5,276.0 L1082.0,275.6 L1082.4,276.3 L1082.9,276.0 L1083.3,276.5 L1083.8,276.0 L1084.2,276.1 L1084.7,275.7 L1085.1,276.3 L1085.6,274.9 L1086.0,275.5 L1086.5,275.4 L1086.9,275.0 L1087.4,275.3 L1087.8,274.7 L1088.3,275.7 L1088.7,275.1 L1089.2,275.8 L1089.6,275.5 L1090.1,275.3 L1090.5,275.1 L1091.0,275.4 L1091.4,275.8" fill="none" stroke="#03038a" stroke-width="2.45" stroke-linejoin="round"/>
<path d="M191.0,367.9 L191.4,368.1 L191.9,367.3 L192.3,368.7 L192.8,367.4 L193.2,367.8 L193.7,368.2 L194.1,367.5 L194.6,367.7 L195.0,367.8 L195.5,368.4 L195.9,369.1 L196.4,368.3 L196.8,367.8 L197.3,368.3 L197.7,368.0 L198.2,368.2 L198.6,368.6 L199.1,367.9 L199.5,368.2 L200.0,367.8 L200.4,368.0 L200.9,368.2 L201.3,367.7 L201.8,368.0 L202.2,367.9 L202.7,367.7 L203.1,367.6 L203.6,367.5 L204.0,368.1 L204.5,368.0 L204.9,369.0 L205.4,367.3 L205.8,368.3 L206.3,368.3 L206.7,368.8 L207.2,368.4 L207.6,367.9 L208.1,368.2 L208.5,368.4 L209.0,368.0 L209.4,368.5 L209.9,367.6 L210.3,368.9 L210.8,368.8 L211.2,368.2 L211.7,368.4 L212.1,368.2 L212.6,367.9 L213.0,368.2 L213.5,368.5 L213.9,368.0 L214.4,368.1 L214.8,368.2 L215.3,368.4 L215.7,368.7 L216.2,368.0 L216.6,368.3 L217.1,368.1 L217.5,367.4 L218.0,367.9 L218.4,368.0 L218.9,368.0 L219.3,368.2 L219.8,367.3 L220.2,368.0 L220.7,367.7 L221.1,367.6 L221.6,368.3 L222.0,368.4 L222.5,368.0 L222.9,368.5 L223.4,367.9 L223.8,368.2 L224.3,367.6 L224.7,368.6 L225.2,367.1 L225.6,368.0 L226.1,368.2 L226.5,367.3 L227.0,368.0 L227.4,368.1 L227.9,368.5 L228.3,368.6 L228.8,368.1 L229.2,367.7 L229.7,368.7 L230.1,368.6 L230.6,368.1 L231.0,368.4 L231.5,368.3 L231.9,368.5 L232.4,368.3 L232.8,368.7 L233.3,367.5 L233.7,368.6 L234.2,368.3 L234.6,368.1 L235.1,368.6 L235.5,367.3 L236.0,368.5 L236.4,368.2 L236.9,367.7 L237.3,368.4 L237.8,368.2 L238.2,369.3 L238.7,369.0 L239.1,368.5 L239.6,367.9 L240.0,367.8 L240.5,367.8 L240.9,367.8 L241.4,367.6 L241.8,367.8 L242.3,367.9 L242.7,367.8 L243.2,367.9 L243.6,367.7 L244.1,369.0 L244.5,367.5 L245.0,367.7 L245.4,368.2 L245.9,368.0 L246.3,368.4 L246.8,368.6 L247.2,368.7 L247.7,368.5 L248.1,367.8 L248.6,368.5 L249.0,367.3 L249.5,367.9 L249.9,367.8 L250.4,367.6 L250.8,368.3 L251.3,368.0 L251.7,368.5 L252.2,367.6 L252.6,368.5 L253.1,368.2 L253.5,368.1 L254.0,367.4 L254.4,367.7 L254.9,367.4 L255.3,367.3 L255.8,369.4 L256.2,368.6 L256.7,369.1 L257.1,368.1 L257.6,368.5 L258.0,368.4 L258.5,368.4 L258.9,368.0 L259.4,367.9 L259.8,367.2 L260.3,368.3 L260.7,368.2 L261.2,368.7 L261.6,368.1 L262.1,368.7 L262.5,367.9 L263.0,367.6 L263.4,368.2 L263.9,367.7 L264.3,367.5 L264.8,368.0 L265.2,368.2 L265.7,368.3 L266.1,368.4 L266.6,369.7 L267.0,368.4 L267.5,368.6 L267.9,367.0 L268.4,367.8 L268.8,367.8 L269.3,367.4 L269.7,367.1 L270.2,367.5 L270.6,367.2 L271.1,367.2 L271.5,367.8 L272.0,367.9 L272.4,367.6 L272.9,367.3 L273.3,367.6 L273.8,367.7 L274.2,367.7 L274.7,367.0 L275.1,367.4 L275.6,367.8 L276.0,368.0 L276.5,368.2 L276.9,368.1 L277.4,367.3 L277.8,367.6 L278.3,367.4 L278.7,368.6 L279.2,368.1 L279.6,368.3 L280.1,368.4 L280.5,367.8 L281.0,367.5 L281.4,367.8 L281.9,368.0 L282.3,368.6 L282.8,368.4 L283.2,367.7 L283.7,368.3 L284.1,368.3 L284.6,367.5 L285.0,367.9 L285.5,367.2 L285.9,368.0 L286.4,367.7 L286.8,367.4 L287.3,367.6 L287.7,368.0 L288.2,367.8 L288.6,368.1 L289.1,368.2 L289.5,367.8 L290.0,368.0 L290.4,368.9 L290.9,368.1 L291.3,367.7 L291.8,368.0 L292.2,367.5 L292.7,368.5 L293.1,368.3 L293.6,368.6 L294.0,368.6 L294.5,368.4 L294.9,368.5 L295.4,368.1 L295.8,367.7 L296.3,367.4 L296.7,367.7 L297.2,366.9 L297.6,368.6 L298.1,367.2 L298.5,367.8 L299.0,367.3 L299.4,367.1 L299.9,367.8 L300.3,367.8 L300.8,367.9 L301.2,368.2 L301.7,367.8 L302.1,368.2 L302.6,368.2 L303.0,367.9 L303.5,367.9 L303.9,368.2 L304.4,367.9 L304.8,368.0 L305.3,367.0 L305.7,367.9 L306.2,368.1 L306.6,368.1 L307.1,368.3 L307.5,368.9 L308.0,368.2 L308.4,368.3 L308.9,367.6 L309.3,367.6 L309.8,367.7 L310.2,367.5 L310.7,367.9 L311.1,367.5 L311.6,367.7 L312.0,367.2 L312.5,367.1 L312.9,367.5 L313.4,367.4 L313.8,367.6 L314.3,367.7 L314.7,367.9 L315.2,368.5 L315.6,368.6 L316.1,368.5 L316.5,367.9 L317.0,368.5 L317.4,367.3 L317.9,367.1 L318.3,367.9 L318.8,367.9 L319.2,367.9 L319.7,367.9 L320.1,367.3 L320.6,367.5 L321.0,368.4 L321.5,368.5 L321.9,367.8 L322.4,368.7 L322.8,367.6 L323.3,367.7 L323.7,367.9 L324.2,367.4 L324.6,367.7 L325.1,367.8 L325.5,367.8 L326.0,368.3 L326.4,368.2 L326.9,367.6 L327.3,367.7 L327.8,367.9 L328.2,367.9 L328.7,367.7 L329.1,368.1 L329.6,368.3 L330.0,367.7 L330.5,368.1 L330.9,367.2 L331.4,367.2 L331.8,367.9 L332.3,367.5 L332.7,367.4 L333.2,367.7 L333.6,367.5 L334.1,367.9 L334.5,367.4 L335.0,367.9 L335.4,369.1 L335.9,368.0 L336.3,367.3 L336.8,368.1 L337.2,368.1 L337.7,368.5 L338.1,368.1 L338.6,367.8 L339.0,368.4 L339.5,368.1 L339.9,367.2 L340.4,368.1 L340.8,367.6 L341.3,368.2 L341.7,367.6 L342.2,368.0 L342.6,367.7 L343.1,367.7 L343.5,367.3 L344.0,366.9 L344.4,366.6 L344.9,365.5 L345.3,362.1 L345.8,356.1 L346.2,348.7 L346.5,347.3 L346.7,348.8 L347.1,354.6 L347.6,361.5 L348.0,364.8 L348.5,366.5 L348.9,367.7 L349.4,367.4 L349.8,367.9 L350.3,367.0 L350.7,366.8 L351.2,367.6 L351.6,367.1 L352.1,368.6 L352.5,367.9 L353.0,366.9 L353.4,366.7 L353.9,365.5 L354.3,364.4 L354.8,362.4 L355.2,362.0 L355.2,362.2 L355.7,362.7 L356.1,364.2 L356.6,366.3 L357.0,366.9 L357.5,367.9 L357.9,367.5 L358.4,368.0 L358.8,367.7 L359.3,367.6 L359.7,367.6 L360.2,368.1 L360.6,368.8 L361.1,368.2 L361.5,367.8 L362.0,367.9 L362.4,367.6 L362.9,367.2 L363.3,367.7 L363.8,368.1 L364.2,367.4 L364.7,367.1 L365.1,367.7 L365.6,368.1 L366.0,367.9 L366.5,367.8 L366.9,368.0 L367.4,367.1 L367.8,365.6 L368.3,362.6 L368.7,357.8 L369.2,350.9 L369.6,346.0 L369.8,344.9 L370.1,347.4 L370.5,352.9 L371.0,358.4 L371.4,361.3 L371.9,359.1 L372.3,355.9 L372.8,353.7 L372.8,354.4 L373.2,356.7 L373.7,362.1 L374.1,364.6 L374.6,366.5 L375.0,366.5 L375.5,367.5 L375.9,367.1 L376.4,367.4 L376.8,367.0 L377.3,366.7 L377.7,366.8 L378.2,366.8 L378.6,365.3 L379.1,364.4 L379.5,364.3 L379.6,364.7 L380.0,364.4 L380.4,365.4 L380.9,366.4 L381.3,366.9 L381.8,367.4 L382.2,367.9 L382.7,367.5 L383.1,367.4 L383.6,367.3 L384.0,366.6 L384.5,365.7 L384.9,365.4 L385.1,365.4 L385.4,366.7 L385.8,366.5 L386.3,367.2 L386.7,367.5 L387.2,367.1 L387.6,367.7 L388.1,367.2 L388.5,366.7 L389.0,367.3 L389.4,367.1 L389.9,367.6 L390.3,367.8 L390.8,368.6 L391.2,367.6 L391.7,367.7 L392.1,367.8 L392.6,367.7 L393.0,367.5 L393.5,367.1 L393.9,367.1 L394.4,367.4 L394.8,367.0 L395.3,367.3 L395.7,367.0 L396.2,368.1 L396.6,367.1 L397.1,368.4 L397.5,367.3 L398.0,367.2 L398.4,367.1 L398.9,367.9 L399.3,368.0 L399.8,367.4 L400.2,367.7 L400.7,367.5 L401.1,367.6 L401.6,367.6 L402.0,367.7 L402.5,366.7 L402.9,366.6 L403.4,367.5 L403.8,367.4 L404.3,367.7 L404.7,366.9 L405.2,367.1 L405.6,368.0 L406.1,366.9 L406.5,367.6 L407.0,367.0 L407.4,367.2 L407.9,366.7 L408.3,367.6 L408.8,366.4 L409.2,366.8 L409.7,366.8 L410.1,367.7 L410.6,367.4 L411.0,367.5 L411.5,367.2 L411.9,367.2 L412.4,367.2 L412.8,367.4 L413.3,366.9 L413.7,366.0 L414.2,366.7 L414.6,366.0 L415.1,365.2 L415.5,365.1 L416.0,364.1 L416.4,363.9 L416.9,360.3 L417.3,354.0 L417.8,343.9 L418.2,326.1 L418.7,306.0 L419.1,290.8 L419.3,288.9 L419.6,293.8 L420.0,311.8 L420.5,332.3 L420.9,347.7 L421.4,356.2 L421.8,361.4 L422.3,363.1 L422.7,364.3 L423.2,365.5 L423.6,366.4 L424.1,365.5 L424.5,366.2 L425.0,364.2 L425.4,364.7 L425.9,363.8 L426.0,364.0 L426.3,363.9 L426.8,364.8 L427.2,365.7 L427.7,366.4 L428.1,367.0 L428.6,367.9 L429.0,366.9 L429.5,367.0 L429.9,366.4 L430.4,366.1 L430.8,367.6 L431.3,366.6 L431.7,367.1 L432.2,367.3 L432.6,367.8 L433.1,367.6 L433.5,368.1 L434.0,367.3 L434.4,366.7 L434.9,367.3 L435.3,367.3 L435.8,367.1 L436.2,367.3 L436.7,367.2 L437.1,368.0 L437.6,367.2 L438.0,366.8 L438.5,367.4 L438.9,366.7 L439.4,367.5 L439.8,367.5 L440.3,367.1 L440.7,367.3 L441.2,367.2 L441.6,368.0 L442.1,367.6 L442.5,367.0 L443.0,366.9 L443.4,367.3 L443.9,367.4 L444.3,367.1 L444.8,367.6 L445.2,367.4 L445.7,367.9 L446.1,367.7 L446.6,367.4 L447.0,367.5 L447.5,367.1 L447.9,367.7 L448.4,367.5 L448.8,367.2 L449.3,367.5 L449.7,367.2 L450.2,368.4 L450.6,367.2 L451.1,367.6 L451.5,367.4 L452.0,366.9 L452.4,367.1 L452.9,367.0 L453.3,367.2 L453.8,367.2 L454.2,367.2 L454.7,367.0 L455.1,366.2 L455.6,365.5 L456.0,364.6 L456.5,363.3 L456.9,361.4 L457.4,360.4 L457.8,358.0 L458.3,356.2 L458.7,354.5 L458.9,354.5 L459.2,354.4 L459.6,356.8 L460.1,359.1 L460.5,361.2 L461.0,362.8 L461.4,363.8 L461.9,365.2 L462.3,366.0 L462.8,366.7 L463.2,367.0 L463.7,366.8 L464.1,367.0 L464.6,367.3 L465.0,367.1 L465.5,366.9 L465.9,366.2 L466.4,366.7 L466.8,367.4 L467.3,367.2 L467.7,367.5 L468.2,367.0 L468.6,367.1 L469.1,367.3 L469.5,367.2 L470.0,367.0 L470.4,366.9 L470.9,366.1 L471.3,364.7 L471.8,361.5 L472.2,359.4 L472.7,357.4 L473.0,357.0 L473.1,356.7 L473.6,359.3 L474.0,360.7 L474.5,363.4 L474.9,364.0 L475.4,365.6 L475.8,366.2 L476.3,366.4 L476.7,367.1 L477.2,367.7 L477.6,366.5 L478.1,366.2 L478.5,366.4 L479.0,365.2 L479.4,364.3 L479.7,363.8 L479.9,364.7 L480.3,365.0 L480.8,366.4 L481.2,366.1 L481.7,366.7 L482.1,366.8 L482.6,367.0 L483.0,367.5 L483.5,367.5 L483.9,366.9 L484.4,367.1 L484.8,366.9 L485.3,367.2 L485.7,366.6 L486.2,365.9 L486.6,365.6 L487.1,364.6 L487.5,363.4 L488.0,361.6 L488.4,360.1 L488.7,359.5 L488.9,359.3 L489.3,361.0 L489.8,362.6 L490.2,364.2 L490.7,365.8 L491.1,366.5 L491.6,367.0 L492.0,366.6 L492.5,366.3 L492.9,367.2 L493.4,366.7 L493.8,367.5 L494.3,366.6 L494.7,367.0 L495.2,366.5 L495.6,368.0 L496.1,367.0 L496.5,367.3 L497.0,367.0 L497.4,367.2 L497.9,367.6 L498.3,367.4 L498.8,367.3 L499.2,367.8 L499.7,366.9 L500.1,367.8 L500.6,367.9 L501.0,366.8 L501.5,367.2 L501.9,366.5 L502.4,366.3 L502.8,366.8 L503.3,367.3 L503.7,367.5 L504.2,367.1 L504.6,366.8 L505.1,366.9 L505.5,366.6 L506.0,366.6 L506.4,365.8 L506.9,366.4 L507.3,365.9 L507.8,366.1 L508.2,364.8 L508.6,364.3 L508.7,364.2 L509.1,364.7 L509.6,365.1 L510.0,365.2 L510.5,366.2 L510.9,366.6 L511.4,366.8 L511.8,366.5 L512.3,366.3 L512.7,366.3 L513.2,366.1 L513.6,365.9 L514.1,364.9 L514.5,364.4 L515.0,363.0 L515.4,363.0 L515.9,362.4 L515.9,362.0 L516.3,362.6 L516.8,363.4 L517.2,363.8 L517.7,365.3 L518.1,365.5 L518.6,366.4 L519.0,366.2 L519.5,366.9 L519.9,367.2 L520.4,366.9 L520.8,367.0 L521.3,366.9 L521.7,367.3 L522.2,367.2 L522.6,367.4 L523.1,367.1 L523.5,366.6 L524.0,366.6 L524.4,367.1 L524.9,367.5 L525.3,368.2 L525.8,367.7 L526.2,367.1 L526.7,366.5 L527.1,367.3 L527.6,367.2 L528.0,366.9 L528.5,367.6 L528.9,367.2 L529.4,367.1 L529.8,366.5 L530.3,367.6 L530.7,367.2 L531.2,367.2 L531.6,366.9 L532.1,367.2 L532.5,367.9 L533.0,367.7 L533.4,368.3 L533.9,368.0 L534.3,367.7 L534.8,367.7 L535.2,367.3 L535.7,366.7 L536.1,367.0 L536.6,367.3 L537.0,366.8 L537.5,367.1 L537.9,366.7 L538.4,367.8 L538.8,366.7 L539.3,366.9 L539.7,366.9 L540.2,367.7 L540.6,367.8 L541.1,367.2 L541.5,367.6 L542.0,367.1 L542.4,367.5 L542.9,368.4 L543.3,367.8 L543.8,367.4 L544.2,366.7 L544.7,367.0 L545.1,366.6 L545.6,366.4 L546.0,367.4 L546.5,367.5 L546.9,367.4 L547.4,367.8 L547.8,366.7 L548.3,367.8 L548.7,366.9 L549.2,367.6 L549.6,367.6 L550.1,367.9 L550.5,368.2 L551.0,367.5 L551.4,367.2 L551.9,366.8 L552.3,367.2 L552.8,366.8 L553.2,366.7 L553.7,367.1 L554.1,367.5 L554.6,367.2 L555.0,366.8 L555.5,367.2 L555.9,366.7 L556.4,366.7 L556.8,367.9 L557.3,367.4 L557.7,368.2 L558.2,366.8 L558.6,367.9 L559.1,367.3 L559.5,368.4 L560.0,367.3 L560.4,367.3 L560.9,367.4 L561.3,367.4 L561.8,367.2 L562.2,367.7 L562.7,367.7 L563.1,367.7 L563.6,367.4 L564.0,367.0 L564.5,366.9 L564.9,367.5 L565.4,366.9 L565.8,367.9 L566.3,367.3 L566.7,367.0 L567.2,367.7 L567.6,367.2 L568.1,367.8 L568.5,367.3 L569.0,367.8 L569.4,366.8 L569.9,365.9 L570.3,365.9 L570.8,365.5 L571.2,365.5 L571.7,364.6 L572.1,362.2 L572.6,360.3 L572.8,360.8 L573.0,360.9 L573.5,362.0 L573.9,363.5 L574.4,364.0 L574.8,363.4 L575.3,363.3 L575.7,362.3 L575.8,362.3 L576.2,363.2 L576.6,365.1 L577.1,366.4 L577.5,366.9 L578.0,366.6 L578.4,366.5 L578.9,367.1 L579.3,366.9 L579.8,367.1 L580.2,366.6 L580.7,366.7 L581.1,366.7 L581.6,367.4 L582.0,367.6 L582.5,367.1 L582.9,367.5 L583.4,367.5 L583.8,367.0 L584.3,367.2 L584.7,367.6 L585.2,366.9 L585.6,367.8 L586.1,367.2 L586.5,367.2 L587.0,367.1 L587.4,366.6 L587.9,367.3 L588.3,367.2 L588.8,367.1 L589.2,367.2 L589.7,367.4 L590.1,367.2 L590.6,367.1 L591.0,367.3 L591.5,367.5 L591.9,367.3 L592.4,367.0 L592.8,367.6 L593.3,367.2 L593.7,367.5 L594.2,367.1 L594.6,366.8 L595.1,366.6 L595.5,366.6 L596.0,367.0 L596.4,366.3 L596.9,367.3 L597.3,367.6 L597.8,367.1 L598.2,366.8 L598.7,366.5 L599.1,367.2 L599.6,367.4 L600.0,367.3 L600.5,367.5 L600.9,367.0 L601.4,367.1 L601.8,367.3 L602.3,367.2 L602.7,367.5 L603.2,367.4 L603.6,367.1 L604.1,366.9 L604.5,366.9 L605.0,367.6 L605.4,366.7 L605.9,367.3 L606.3,366.8 L606.8,368.2 L607.2,367.0 L607.7,367.7 L608.1,366.9 L608.6,368.5 L609.0,366.7 L609.5,367.4 L609.9,366.6 L610.4,367.4 L610.8,366.5 L611.3,366.8 L611.7,366.3 L612.2,366.8 L612.6,366.8 L613.1,367.4 L613.5,365.6 L614.0,365.9 L614.4,364.4 L614.9,362.6 L615.3,361.2 L615.7,360.9 L615.8,360.7 L616.2,361.8 L616.7,363.3 L617.1,364.9 L617.6,366.2 L618.0,366.2 L618.5,366.6 L618.9,366.9 L619.4,367.1 L619.8,367.1 L620.3,367.0 L620.7,366.3 L621.2,367.4 L621.6,367.6 L622.1,367.8 L622.5,367.4 L623.0,367.5 L623.4,367.0 L623.9,366.7 L624.3,367.0 L624.8,367.1 L625.2,367.5 L625.7,367.5 L626.1,367.0 L626.6,367.0 L627.0,367.1 L627.5,367.1 L627.9,367.7 L628.4,366.9 L628.8,367.5 L629.3,366.5 L629.7,366.8 L630.2,367.6 L630.6,367.2 L631.1,367.1 L631.5,367.1 L632.0,366.7 L632.4,366.7 L632.9,366.5 L633.3,366.2 L633.8,365.7 L634.2,364.5 L634.7,363.9 L635.1,362.2 L635.6,361.4 L636.0,360.0 L636.5,359.6 L636.6,359.6 L636.9,359.4 L637.4,360.4 L637.8,361.8 L638.3,363.4 L638.7,364.7 L639.2,365.2 L639.6,365.6 L640.1,366.3 L640.5,366.5 L641.0,367.1 L641.4,367.2 L641.9,367.5 L642.3,366.2 L642.8,366.6 L643.2,366.7 L643.7,367.0 L644.1,367.0 L644.6,366.7 L645.0,366.7 L645.5,365.8 L645.9,364.9 L646.4,363.6 L646.8,360.6 L647.3,358.8 L647.7,356.4 L647.8,356.3 L648.2,357.7 L648.6,359.5 L649.1,362.8 L649.5,364.8 L650.0,366.5 L650.4,367.6 L650.9,366.7 L651.3,366.2 L651.8,366.7 L652.2,366.8 L652.7,366.4 L653.1,366.8 L653.6,367.1 L654.0,366.6 L654.5,365.8 L654.9,365.4 L655.4,364.5 L655.8,364.3 L656.3,363.4 L656.7,363.1 L657.2,361.0 L657.6,360.0 L658.1,359.8 L658.5,359.7 L658.6,359.4 L659.0,359.9 L659.4,360.7 L659.9,361.8 L660.3,362.7 L660.8,363.8 L661.2,363.9 L661.7,365.4 L662.1,365.7 L662.6,365.8 L663.0,366.2 L663.5,366.4 L663.9,366.4 L664.4,366.6 L664.8,366.7 L665.3,366.4 L665.7,367.9 L666.2,367.2 L666.6,368.1 L667.1,367.1 L667.5,367.8 L668.0,367.1 L668.4,367.8 L668.9,367.5 L669.3,367.5 L669.8,367.1 L670.2,367.1 L670.7,367.5 L671.1,366.2 L671.6,366.6 L672.0,366.4 L672.5,366.7 L672.9,367.3 L673.4,367.5 L673.8,367.1 L674.3,367.5 L674.7,366.8 L675.2,366.9 L675.6,367.1 L676.1,367.1 L676.5,367.0 L677.0,366.7 L677.4,367.3 L677.9,367.7 L678.3,366.9 L678.8,367.0 L679.2,366.5 L679.7,366.9 L680.1,366.6 L680.6,367.0 L681.0,367.4 L681.5,367.0 L681.9,366.3 L682.4,366.6 L682.8,365.3 L683.3,365.8 L683.7,364.7 L684.2,363.5 L684.6,363.1 L685.1,362.4 L685.4,363.3 L685.5,362.8 L686.0,362.6 L686.4,363.3 L686.9,364.4 L687.3,364.9 L687.8,365.7 L688.2,366.2 L688.7,365.9 L689.1,366.9 L689.6,367.4 L690.0,367.0 L690.5,367.1 L690.9,366.6 L691.4,366.6 L691.8,366.8 L692.3,366.4 L692.7,366.1 L693.2,366.9 L693.6,366.4 L694.1,366.8 L694.5,366.6 L695.0,366.6 L695.4,366.5 L695.9,366.2 L696.3,365.3 L696.8,365.1 L697.2,363.7 L697.7,362.9 L698.1,361.2 L698.6,360.2 L699.0,358.7 L699.5,358.6 L699.9,357.9 L699.9,357.5 L700.4,357.5 L700.8,358.8 L701.3,360.9 L701.7,361.6 L702.2,363.4 L702.6,363.9 L703.1,364.8 L703.5,365.1 L704.0,366.1 L704.4,366.7 L704.9,366.8 L705.3,366.9 L705.8,366.3 L706.2,366.7 L706.7,366.3 L707.1,366.4 L707.6,366.9 L708.0,366.4 L708.5,367.2 L708.9,366.9 L709.4,367.6 L709.8,367.0 L710.3,367.3 L710.7,367.5 L711.2,367.3 L711.6,367.3 L712.1,366.3 L712.5,367.2 L713.0,366.2 L713.4,366.6 L713.9,365.8 L714.3,366.7 L714.8,366.6 L715.2,366.8 L715.7,366.5 L716.1,366.9 L716.6,366.7 L717.0,366.9 L717.5,367.3 L717.9,366.2 L718.4,366.9 L718.8,366.8 L719.3,366.4 L719.7,366.9 L720.2,367.6 L720.6,367.3 L721.1,367.0 L721.5,367.3 L722.0,367.1 L722.4,366.5 L722.9,366.9 L723.3,367.0 L723.8,367.1 L724.2,367.2 L724.7,367.0 L725.1,367.0 L725.6,366.8 L726.0,366.8 L726.5,366.8 L726.9,367.1 L727.4,367.0 L727.8,366.9 L728.3,367.4 L728.7,368.0 L729.2,367.1 L729.6,367.5 L730.1,366.8 L730.5,367.0 L731.0,367.3 L731.4,367.2 L731.9,367.4 L732.3,366.1 L732.8,365.7 L733.2,365.3 L733.7,364.4 L734.1,362.5 L734.6,361.8 L735.0,361.3 L735.4,361.2 L735.5,360.3 L735.9,361.3 L736.4,361.3 L736.8,363.6 L737.3,364.9 L737.7,364.7 L738.2,365.6 L738.6,365.5 L739.1,366.2 L739.5,366.8 L740.0,366.9 L740.4,366.9 L740.9,366.3 L741.3,366.5 L741.8,367.5 L742.2,367.0 L742.7,366.7 L743.1,366.9 L743.6,366.4 L744.0,366.6 L744.5,365.7 L744.9,365.0 L745.4,363.5 L745.8,364.2 L745.8,363.9 L746.3,364.7 L746.7,365.7 L747.2,366.0 L747.6,365.8 L748.1,366.4 L748.5,366.3 L749.0,366.0 L749.4,365.4 L749.9,364.6 L750.3,365.1 L750.8,364.5 L751.2,363.9 L751.7,363.2 L752.1,362.6 L752.6,361.9 L753.0,361.1 L753.5,361.1 L753.9,360.7 L754.4,360.9 L754.8,360.6 L755.3,361.0 L755.7,360.8 L756.2,361.8 L756.6,363.0 L757.1,362.8 L757.5,363.6 L758.0,364.2 L758.4,364.4 L758.9,364.8 L759.3,364.5 L759.8,365.2 L760.2,366.3 L760.7,366.2 L761.1,366.4 L761.6,367.1 L762.0,365.9 L762.5,366.7 L762.9,366.2 L763.4,364.9 L763.8,364.7 L764.3,364.6 L764.5,364.3 L764.7,364.4 L765.2,365.4 L765.6,365.8 L766.1,366.5 L766.5,366.6 L767.0,367.0 L767.4,367.2 L767.9,367.9 L768.3,367.2 L768.8,366.8 L769.2,367.3 L769.7,367.1 L770.1,368.3 L770.6,366.5 L771.0,367.3 L771.5,366.8 L771.9,367.2 L772.4,365.9 L772.8,365.4 L773.3,365.4 L773.7,364.8 L774.2,363.9 L774.6,363.1 L775.1,362.1 L775.5,362.2 L775.5,361.9 L776.0,362.0 L776.4,363.4 L776.9,363.4 L777.3,364.0 L777.8,365.1 L778.2,365.8 L778.7,366.3 L779.1,366.5 L779.6,366.9 L780.0,366.8 L780.5,366.7 L780.9,367.6 L781.4,367.0 L781.8,367.6 L782.3,367.3 L782.7,367.3 L783.2,367.7 L783.6,366.4 L784.1,367.5 L784.5,366.9 L785.0,367.2 L785.4,366.5 L785.9,366.3 L786.3,365.9 L786.8,365.2 L787.2,365.2 L787.7,365.4 L788.1,364.7 L788.6,364.3 L789.0,363.3 L789.2,363.2 L789.5,363.1 L789.9,362.8 L790.4,364.0 L790.8,364.4 L791.3,365.7 L791.7,366.2 L792.2,366.4 L792.6,366.3 L793.1,366.6 L793.5,367.5 L794.0,367.2 L794.4,367.6 L794.9,367.0 L795.3,367.6 L795.8,367.1 L796.2,367.0 L796.7,367.2 L797.1,366.9 L797.6,366.9 L798.0,367.8 L798.5,367.6 L798.9,367.2 L799.4,367.3 L799.8,367.6 L800.3,367.1 L800.7,366.4 L801.2,368.0 L801.6,366.6 L802.1,367.0 L802.5,366.2 L803.0,366.2 L803.4,367.2 L803.9,366.7 L804.3,367.5 L804.8,367.3 L805.2,367.4 L805.7,367.7 L806.1,367.7 L806.6,367.9 L807.0,366.9 L807.5,367.1 L807.9,367.6 L808.4,367.6 L808.8,367.1 L809.3,366.7 L809.7,367.0 L810.2,366.0 L810.6,366.5 L811.1,367.7 L811.5,366.9 L812.0,368.3 L812.4,367.6 L812.9,367.8 L813.3,368.6 L813.8,367.9 L814.2,367.4 L814.7,367.0 L815.1,367.0 L815.6,366.5 L816.0,367.4 L816.5,367.3 L816.9,367.1 L817.4,367.6 L817.8,367.0 L818.3,366.6 L818.7,366.8 L819.2,367.3 L819.6,367.5 L820.1,368.2 L820.5,367.4 L821.0,367.7 L821.4,367.8 L821.9,367.6 L822.3,367.5 L822.8,367.0 L823.2,367.3 L823.7,368.2 L824.1,367.4 L824.6,367.4 L825.0,366.9 L825.5,367.4 L825.9,367.9 L826.4,367.1 L826.8,366.9 L827.3,367.1 L827.7,367.1 L828.2,367.1 L828.6,368.1 L829.1,367.5 L829.5,366.8 L830.0,367.1 L830.4,367.4 L830.9,366.8 L831.3,367.1 L831.8,366.0 L832.2,366.4 L832.7,365.6 L833.1,365.3 L833.6,364.4 L834.0,363.5 L834.5,363.3 L834.9,362.9 L835.3,362.9 L835.4,362.1 L835.8,362.6 L836.3,363.2 L836.7,363.9 L837.2,364.6 L837.6,365.5 L838.1,366.6 L838.5,367.2 L839.0,367.1 L839.4,367.0 L839.9,365.7 L840.3,366.7 L840.8,367.2 L841.2,366.8 L841.7,367.7 L842.1,367.0 L842.6,367.4 L843.0,367.0 L843.5,367.3 L843.9,366.6 L844.4,367.0 L844.8,366.8 L845.3,366.8 L845.7,366.6 L846.2,367.6 L846.6,366.9 L847.1,367.7 L847.5,367.3 L848.0,367.6 L848.4,367.3 L848.9,367.5 L849.3,367.0 L849.8,368.5 L850.2,367.8 L850.7,367.8 L851.1,366.5 L851.6,367.0 L852.0,366.9 L852.5,367.4 L852.9,367.1 L853.4,367.7 L853.8,367.5 L854.3,367.8 L854.7,367.8 L855.2,367.1 L855.6,367.1 L856.1,367.0 L856.5,367.6 L857.0,367.3 L857.4,367.2 L857.9,366.8 L858.3,367.5 L858.8,367.3 L859.2,367.4 L859.7,367.2 L860.1,366.8 L860.6,367.8 L861.0,367.3 L861.5,367.4 L861.9,366.8 L862.4,367.3 L862.8,366.2 L863.3,366.1 L863.4,365.9 L863.7,366.0 L864.2,366.9 L864.6,366.7 L865.1,366.7 L865.5,367.1 L866.0,367.1 L866.4,367.4 L866.9,367.1 L867.3,367.4 L867.8,366.7 L868.2,367.0 L868.7,367.6 L869.1,367.7 L869.6,366.8 L870.0,367.6 L870.5,367.4 L870.9,367.9 L871.4,367.1 L871.8,367.6 L872.3,367.7 L872.7,366.9 L873.2,367.2 L873.6,367.8 L874.1,367.4 L874.5,367.8 L875.0,367.5 L875.4,367.0 L875.9,367.4 L876.3,367.6 L876.8,367.2 L877.2,367.8 L877.7,366.9 L878.1,367.4 L878.6,367.2 L879.0,366.9 L879.5,366.6 L879.9,366.4 L880.4,366.7 L880.8,367.2 L881.3,367.1 L881.7,367.3 L882.2,367.3 L882.6,367.3 L883.1,367.5 L883.5,367.8 L884.0,366.8 L884.4,367.6 L884.9,366.8 L885.3,368.3 L885.8,367.1 L886.2,367.4 L886.7,367.9 L887.1,367.8 L887.6,368.0 L888.0,368.2 L888.5,367.5 L888.9,368.3 L889.4,367.3 L889.8,367.4 L890.3,367.7 L890.7,366.5 L891.2,367.2 L891.6,367.3 L892.1,367.8 L892.5,367.2 L893.0,367.9 L893.4,367.2 L893.9,367.9 L894.3,367.8 L894.8,367.4 L895.2,367.4 L895.7,367.3 L896.1,367.4 L896.6,367.3 L897.0,368.1 L897.5,367.7 L897.9,367.7 L898.4,366.9 L898.8,367.5 L899.3,367.9 L899.7,367.6 L900.2,367.4 L900.6,367.5 L901.1,367.7 L901.5,367.3 L902.0,366.6 L902.4,367.0 L902.9,367.3 L903.3,366.8 L903.8,367.5 L904.2,367.7 L904.7,368.5 L905.1,368.1 L905.6,367.7 L906.0,366.7 L906.5,367.3 L906.9,366.6 L907.4,366.8 L907.8,367.6 L908.3,366.9 L908.7,367.4 L909.2,367.1 L909.6,367.3 L910.1,366.8 L910.5,366.8 L911.0,367.2 L911.4,366.8 L911.9,366.6 L912.3,366.2 L912.8,366.3 L913.2,365.9 L913.7,366.0 L914.1,365.5 L914.6,364.9 L915.0,365.0 L915.5,365.4 L915.9,366.6 L916.4,366.5 L916.8,366.0 L917.3,365.8 L917.7,366.1 L918.2,366.3 L918.6,367.0 L919.1,366.4 L919.5,366.1 L920.0,366.6 L920.4,366.5 L920.9,367.7 L921.3,367.1 L921.8,367.2 L922.2,367.2 L922.7,366.5 L923.1,367.4 L923.6,367.5 L924.0,367.3 L924.5,367.6 L924.9,367.3 L925.4,367.4 L925.8,367.8 L926.3,367.4 L926.7,367.7 L927.2,367.5 L927.6,367.5 L928.1,367.2 L928.5,367.2 L929.0,367.5 L929.4,368.1 L929.9,367.8 L930.3,368.0 L930.8,367.6 L931.2,367.0 L931.7,368.0 L932.1,367.6 L932.6,368.1 L933.0,368.0 L933.5,367.9 L933.9,367.7 L934.4,366.4 L934.8,367.8 L935.3,367.6 L935.7,368.0 L936.2,368.0 L936.6,367.7 L937.1,367.8 L937.5,367.0 L938.0,367.6 L938.4,367.8 L938.9,367.7 L939.3,367.1 L939.8,366.7 L940.2,367.2 L940.7,367.5 L941.1,367.8 L941.6,368.3 L942.0,368.2 L942.5,367.4 L942.9,367.8 L943.4,367.4 L943.8,367.9 L944.3,367.3 L944.7,368.0 L945.2,367.3 L945.6,367.4 L946.1,367.1 L946.5,367.8 L947.0,367.6 L947.4,367.8 L947.9,367.9 L948.3,367.4 L948.8,368.3 L949.2,367.9 L949.7,367.7 L950.1,367.5 L950.6,367.5 L951.0,367.4 L951.5,367.9 L951.9,367.6 L952.4,367.6 L952.8,367.4 L953.3,367.7 L953.7,368.3 L954.2,367.6 L954.6,366.7 L955.1,366.4 L955.5,367.6 L956.0,366.9 L956.4,367.7 L956.9,367.9 L957.3,368.0 L957.8,368.4 L958.2,367.5 L958.7,367.6 L959.1,367.2 L959.6,367.0 L960.0,367.3 L960.5,368.1 L960.9,368.2 L961.4,367.4 L961.8,367.9 L962.3,367.5 L962.7,367.9 L963.2,367.2 L963.6,367.6 L964.1,367.5 L964.5,367.1 L965.0,367.2 L965.4,367.3 L965.9,367.6 L966.3,368.4 L966.8,368.4 L967.2,368.5 L967.7,368.0 L968.1,368.0 L968.6,367.3 L969.0,367.6 L969.5,367.9 L969.9,367.7 L970.4,367.4 L970.8,367.7 L971.3,367.6 L971.7,367.7 L972.2,367.4 L972.6,367.8 L973.1,367.4 L973.5,367.3 L974.0,367.6 L974.4,367.9 L974.9,368.1 L975.3,368.1 L975.8,367.0 L976.2,368.0 L976.7,367.8 L977.1,368.0 L977.6,368.3 L978.0,368.4 L978.5,367.9 L978.9,367.6 L979.4,367.4 L979.8,367.6 L980.3,367.8 L980.7,367.5 L981.2,368.4 L981.6,368.4 L982.1,368.2 L982.5,368.5 L983.0,368.1 L983.4,367.7 L983.9,368.1 L984.3,368.4 L984.8,367.6 L985.2,367.1 L985.7,367.8 L986.1,366.8 L986.6,367.1 L987.0,367.6 L987.5,367.4 L987.9,368.3 L988.4,367.7 L988.8,368.0 L989.3,368.1 L989.7,367.6 L990.2,367.8 L990.6,366.9 L991.1,368.3 L991.5,367.6 L992.0,367.5 L992.4,367.2 L992.9,367.6 L993.3,367.2 L993.8,367.5 L994.2,367.1 L994.7,366.8 L995.1,367.1 L995.6,367.1 L996.0,367.6 L996.5,367.5 L996.9,367.3 L997.4,367.6 L997.8,367.2 L998.3,367.5 L998.7,367.3 L999.2,367.6 L999.6,367.1 L1000.1,367.3 L1000.5,367.4 L1001.0,367.0 L1001.4,367.5 L1001.9,367.4 L1002.3,367.7 L1002.8,366.9 L1003.2,366.8 L1003.7,366.7 L1004.1,367.3 L1004.6,367.1 L1005.0,367.1 L1005.5,367.6 L1005.9,368.0 L1006.4,368.4 L1006.8,368.2 L1007.3,367.4 L1007.7,368.1 L1008.2,367.3 L1008.6,367.7 L1009.1,367.7 L1009.5,366.9 L1010.0,367.6 L1010.4,367.5 L1010.9,368.4 L1011.3,367.4 L1011.8,367.9 L1012.2,367.4 L1012.7,367.5 L1013.1,367.2 L1013.6,368.0 L1014.0,368.0 L1014.5,367.9 L1014.9,366.8 L1015.4,366.7 L1015.8,367.4 L1016.3,367.9 L1016.7,367.8 L1017.2,367.5 L1017.6,367.4 L1018.1,368.2 L1018.5,368.1 L1019.0,367.3 L1019.4,367.6 L1019.9,367.5 L1020.3,368.4 L1020.8,367.9 L1021.2,368.0 L1021.7,367.2 L1022.1,367.6 L1022.6,367.4 L1023.0,367.5 L1023.5,367.6 L1023.9,367.4 L1024.4,367.0 L1024.8,367.8 L1025.3,366.9 L1025.7,367.0 L1026.2,366.6 L1026.6,367.4 L1027.1,367.3 L1027.5,367.1 L1028.0,367.0 L1028.4,367.4 L1028.9,367.2 L1029.3,367.0 L1029.8,367.6 L1030.2,367.8 L1030.7,367.7 L1031.1,367.9 L1031.6,367.7 L1032.0,368.1 L1032.5,367.8 L1032.9,367.4 L1033.4,367.8 L1033.8,367.4 L1034.3,367.0 L1034.7,366.7 L1035.2,366.8 L1035.6,366.1 L1036.1,366.4 L1036.5,366.4 L1037.0,366.0 L1037.4,366.2 L1037.9,366.1 L1038.3,365.9 L1038.8,366.4 L1039.2,366.6 L1039.7,366.7 L1040.1,367.0 L1040.6,366.5 L1041.0,366.5 L1041.5,366.7 L1041.9,367.2 L1042.4,367.5 L1042.8,366.7 L1043.3,367.1 L1043.7,366.8 L1044.2,367.1 L1044.6,365.9 L1045.1,366.6 L1045.5,366.1 L1046.0,365.7 L1046.4,367.2 L1046.9,366.9 L1047.3,367.9 L1047.8,367.8 L1048.2,368.0 L1048.7,367.8 L1049.1,367.2 L1049.6,367.4 L1050.0,366.7 L1050.5,366.9 L1050.9,367.6 L1051.4,368.1 L1051.8,367.5 L1052.3,367.1 L1052.7,367.4 L1053.2,367.7 L1053.6,368.0 L1054.1,367.7 L1054.5,368.3 L1055.0,368.0 L1055.4,367.8 L1055.9,367.4 L1056.3,368.4 L1056.8,367.3 L1057.2,367.4 L1057.7,366.9 L1058.1,367.4 L1058.6,366.6 L1059.0,367.5 L1059.5,366.6 L1059.9,367.5 L1060.4,366.6 L1060.8,366.8 L1061.3,366.9 L1061.7,367.3 L1062.2,367.2 L1062.6,367.0 L1063.1,367.2 L1063.5,367.6 L1064.0,366.7 L1064.4,367.7 L1064.9,367.2 L1065.3,366.3 L1065.8,367.3 L1066.2,367.1 L1066.7,367.2 L1067.1,367.2 L1067.6,367.2 L1068.0,367.7 L1068.5,367.5 L1068.9,367.8 L1069.4,367.4 L1069.8,368.0 L1070.3,367.4 L1070.7,367.7 L1071.2,367.4 L1071.6,367.5 L1072.1,367.8 L1072.5,367.8 L1073.0,367.5 L1073.4,367.5 L1073.9,367.3 L1074.3,367.7 L1074.8,367.6 L1075.2,367.8 L1075.7,367.6 L1076.1,367.5 L1076.6,367.8 L1077.0,367.5 L1077.5,367.9 L1077.9,368.0 L1078.4,368.2 L1078.8,367.7 L1079.3,367.7 L1079.7,367.9 L1080.2,367.6 L1080.6,367.7 L1081.1,367.5 L1081.5,367.4 L1082.0,367.2 L1082.4,367.5 L1082.9,367.7 L1083.3,367.6 L1083.8,367.5 L1084.2,367.6 L1084.7,368.1 L1085.1,367.6 L1085.6,367.3 L1086.0,368.2 L1086.5,367.4 L1086.9,368.1 L1087.4,367.7 L1087.8,367.0 L1088.3,367.4 L1088.7,367.3 L1089.2,367.4 L1089.6,367.4 L1090.1,367.8 L1090.5,367.7 L1091.0,368.1 L1091.4,367.5" fill="none" stroke="#087f08" stroke-width="2.45" stroke-linejoin="round"/>
<path d="M191.0,461.3 L191.4,460.7 L191.9,460.5 L192.3,459.7 L192.8,460.3 L193.2,460.2 L193.7,460.4 L194.1,460.2 L194.6,460.3 L195.0,460.2 L195.5,460.0 L195.9,460.9 L196.4,460.9 L196.8,461.3 L197.3,460.6 L197.7,460.3 L198.2,460.2 L198.6,459.8 L199.1,460.7 L199.5,459.9 L200.0,460.0 L200.4,460.4 L200.9,461.0 L201.3,460.6 L201.8,460.1 L202.2,460.2 L202.7,460.6 L203.1,460.3 L203.6,460.2 L204.0,460.5 L204.5,460.8 L204.9,461.2 L205.4,460.0 L205.8,460.1 L206.3,459.9 L206.7,459.3 L207.2,459.9 L207.6,459.9 L208.1,460.8 L208.5,460.4 L209.0,459.8 L209.4,460.5 L209.9,460.1 L210.3,459.7 L210.8,460.0 L211.2,460.1 L211.7,459.9 L212.1,460.3 L212.6,459.5 L213.0,460.3 L213.5,460.9 L213.9,461.0 L214.4,461.1 L214.8,461.0 L215.3,461.2 L215.7,460.1 L216.2,460.7 L216.6,459.5 L217.1,460.1 L217.5,459.6 L218.0,460.8 L218.4,461.1 L218.9,460.5 L219.3,461.2 L219.8,460.3 L220.2,460.5 L220.7,460.5 L221.1,460.1 L221.6,460.6 L222.0,461.2 L222.5,460.2 L222.9,460.9 L223.4,460.5 L223.8,461.3 L224.3,460.8 L224.7,460.9 L225.2,460.7 L225.6,460.6 L226.1,459.9 L226.5,460.9 L227.0,459.9 L227.4,460.5 L227.9,460.6 L228.3,460.2 L228.8,460.5 L229.2,460.8 L229.7,460.3 L230.1,459.9 L230.6,459.1 L231.0,459.8 L231.5,459.9 L231.9,460.1 L232.4,460.0 L232.8,460.5 L233.3,460.2 L233.7,460.4 L234.2,460.6 L234.6,460.2 L235.1,460.4 L235.5,461.3 L236.0,460.8 L236.4,460.0 L236.9,460.5 L237.3,460.7 L237.8,460.9 L238.2,460.5 L238.7,460.3 L239.1,460.1 L239.6,460.6 L240.0,460.5 L240.5,460.2 L240.9,460.3 L241.4,460.2 L241.8,460.7 L242.3,460.2 L242.7,460.7 L243.2,460.7 L243.6,460.7 L244.1,460.2 L244.5,460.9 L245.0,460.1 L245.4,460.5 L245.9,460.0 L246.3,459.7 L246.8,460.4 L247.2,460.5 L247.7,460.4 L248.1,460.5 L248.6,460.1 L249.0,460.2 L249.5,460.4 L249.9,461.2 L250.4,460.8 L250.8,460.3 L251.3,460.6 L251.7,460.2 L252.2,460.2 L252.6,460.6 L253.1,460.1 L253.5,459.7 L254.0,459.9 L254.4,460.4 L254.9,460.4 L255.3,460.9 L255.8,460.2 L256.2,460.7 L256.7,460.6 L257.1,460.4 L257.6,460.7 L258.0,460.6 L258.5,460.1 L258.9,460.8 L259.4,459.9 L259.8,460.4 L260.3,460.3 L260.7,460.5 L261.2,460.1 L261.6,460.4 L262.1,460.3 L262.5,460.8 L263.0,460.1 L263.4,460.3 L263.9,460.3 L264.3,459.9 L264.8,461.4 L265.2,460.4 L265.7,459.9 L266.1,460.9 L266.6,460.0 L267.0,460.6 L267.5,460.6 L267.9,460.1 L268.4,460.2 L268.8,460.0 L269.3,460.1 L269.7,459.6 L270.2,459.8 L270.6,460.2 L271.1,460.8 L271.5,460.8 L272.0,461.2 L272.4,460.7 L272.9,460.2 L273.3,460.2 L273.8,459.4 L274.2,459.8 L274.7,459.8 L275.1,460.4 L275.6,460.5 L276.0,460.0 L276.5,460.0 L276.9,459.6 L277.4,460.2 L277.8,460.3 L278.3,460.6 L278.7,460.2 L279.2,461.2 L279.6,460.9 L280.1,460.4 L280.5,460.2 L281.0,460.2 L281.4,460.4 L281.9,460.4 L282.3,460.7 L282.8,460.8 L283.2,461.0 L283.7,460.9 L284.1,460.4 L284.6,460.5 L285.0,460.2 L285.5,460.1 L285.9,461.2 L286.4,460.3 L286.8,461.2 L287.3,460.3 L287.7,460.6 L288.2,460.8 L288.6,460.4 L289.1,460.5 L289.5,460.2 L290.0,460.1 L290.4,460.3 L290.9,460.1 L291.3,461.0 L291.8,460.2 L292.2,461.0 L292.7,459.3 L293.1,460.3 L293.6,460.5 L294.0,460.3 L294.5,460.8 L294.9,460.6 L295.4,460.4 L295.8,460.7 L296.3,461.5 L296.7,460.6 L297.2,460.6 L297.6,460.1 L298.1,460.3 L298.5,459.8 L299.0,460.3 L299.4,461.3 L299.9,460.9 L300.3,460.9 L300.8,461.0 L301.2,461.3 L301.7,460.8 L302.1,461.3 L302.6,461.0 L303.0,460.5 L303.5,460.9 L303.9,459.3 L304.4,460.0 L304.8,460.2 L305.3,459.8 L305.7,460.1 L306.2,460.0 L306.6,460.1 L307.1,461.4 L307.5,460.7 L308.0,460.4 L308.4,460.9 L308.9,460.3 L309.3,460.8 L309.8,460.4 L310.2,461.0 L310.7,459.8 L311.1,460.5 L311.6,460.2 L312.0,459.8 L312.5,460.7 L312.9,459.9 L313.4,461.0 L313.8,460.5 L314.3,460.7 L314.7,460.2 L315.2,460.5 L315.6,459.4 L316.1,460.2 L316.5,459.8 L317.0,460.3 L317.4,460.1 L317.9,460.5 L318.3,460.0 L318.8,461.0 L319.2,461.2 L319.7,460.3 L320.1,460.3 L320.6,460.4 L321.0,460.7 L321.5,460.9 L321.9,459.7 L322.4,459.7 L322.8,459.4 L323.3,459.4 L323.7,459.2 L324.2,460.1 L324.6,459.6 L325.1,460.6 L325.5,460.2 L326.0,459.5 L326.4,459.5 L326.9,459.5 L327.3,460.2 L327.8,459.3 L328.2,459.1 L328.7,459.4 L329.1,459.6 L329.6,459.2 L330.0,459.9 L330.5,459.1 L330.9,458.9 L331.4,457.8 L331.8,457.2 L332.3,455.2 L332.7,449.9 L333.2,441.6 L333.6,426.5 L334.1,413.1 L334.4,408.8 L334.5,411.2 L335.0,422.4 L335.4,437.8 L335.9,448.7 L336.3,453.6 L336.8,455.8 L337.2,457.6 L337.7,458.7 L338.1,458.9 L338.6,459.3 L339.0,459.5 L339.5,458.8 L339.9,459.4 L340.4,460.0 L340.8,459.1 L341.3,458.5 L341.7,459.1 L342.2,458.9 L342.6,459.2 L343.1,458.2 L343.5,457.6 L344.0,454.7 L344.4,452.9 L344.9,451.2 L344.9,451.3 L345.3,451.7 L345.8,455.2 L346.2,455.8 L346.7,457.8 L347.1,457.9 L347.6,457.6 L348.0,457.9 L348.5,457.6 L348.9,457.7 L349.4,456.9 L349.8,456.5 L350.3,455.3 L350.7,455.2 L351.2,455.0 L351.6,455.0 L352.1,454.5 L352.5,454.7 L353.0,453.4 L353.4,453.3 L353.9,453.2 L354.3,452.8 L354.8,453.1 L355.2,452.7 L355.7,453.6 L356.1,453.1 L356.6,454.0 L357.0,453.8 L357.5,454.8 L357.9,454.0 L358.4,455.2 L358.8,455.3 L359.3,456.0 L359.7,456.6 L360.2,456.1 L360.6,456.5 L361.1,456.8 L361.5,457.6 L362.0,457.1 L362.4,458.1 L362.9,457.8 L363.3,458.2 L363.8,458.6 L364.2,459.1 L364.7,458.9 L365.1,459.1 L365.6,459.2 L366.0,459.2 L366.5,458.4 L366.9,459.3 L367.4,459.7 L367.8,460.3 L368.3,460.7 L368.7,460.1 L369.2,459.9 L369.6,459.4 L370.1,459.9 L370.5,460.1 L371.0,460.4 L371.4,459.6 L371.9,460.1 L372.3,460.2 L372.8,460.7 L373.2,460.0 L373.7,459.6 L374.1,459.5 L374.6,459.6 L375.0,459.6 L375.5,460.2 L375.9,460.4 L376.4,460.2 L376.8,460.4 L377.3,459.7 L377.7,459.9 L378.2,459.6 L378.6,459.8 L379.1,460.1 L379.5,459.6 L380.0,458.9 L380.4,459.3 L380.9,459.0 L381.3,458.8 L381.8,459.1 L382.2,459.7 L382.7,460.0 L383.1,459.1 L383.6,459.1 L384.0,458.3 L384.5,455.7 L384.9,452.9 L385.4,448.8 L385.8,446.5 L385.9,445.8 L386.3,447.9 L386.7,452.3 L387.2,455.7 L387.6,458.0 L388.1,458.0 L388.5,458.9 L389.0,458.5 L389.4,457.6 L389.9,458.2 L390.3,457.5 L390.8,457.7 L391.2,457.0 L391.7,457.0 L392.1,456.0 L392.6,454.9 L393.0,454.0 L393.5,451.9 L393.9,448.4 L394.4,443.5 L394.8,433.6 L395.3,419.3 L395.7,400.7 L396.2,383.3 L396.5,379.3 L396.6,381.2 L397.1,393.7 L397.5,412.6 L398.0,427.2 L398.4,436.9 L398.9,442.5 L399.3,443.7 L399.8,442.3 L400.2,440.5 L400.7,438.1 L401.1,437.1 L401.3,437.1 L401.6,438.0 L402.0,441.3 L402.5,445.0 L402.9,448.5 L403.4,451.3 L403.8,453.1 L404.3,455.3 L404.7,456.2 L405.2,457.7 L405.6,458.1 L406.1,458.4 L406.5,458.3 L407.0,458.0 L407.4,459.1 L407.9,459.3 L408.3,458.6 L408.8,459.2 L409.2,459.7 L409.7,458.9 L410.1,460.0 L410.6,459.3 L411.0,459.1 L411.5,459.9 L411.9,459.6 L412.4,459.2 L412.8,459.9 L413.3,458.7 L413.7,460.2 L414.2,459.1 L414.6,459.6 L415.1,459.2 L415.5,459.3 L416.0,459.0 L416.4,457.2 L416.9,455.5 L417.3,452.1 L417.8,449.9 L417.9,450.0 L418.2,450.7 L418.7,453.6 L419.1,457.0 L419.6,458.3 L420.0,459.5 L420.5,459.5 L420.9,459.0 L421.4,458.7 L421.8,459.2 L422.3,459.6 L422.7,459.7 L423.2,459.4 L423.6,460.0 L424.1,459.0 L424.5,459.3 L425.0,459.8 L425.4,460.6 L425.9,460.0 L426.3,459.5 L426.8,460.0 L427.2,460.0 L427.7,460.0 L428.1,459.4 L428.6,459.2 L429.0,459.5 L429.5,459.7 L429.9,460.0 L430.4,459.9 L430.8,458.6 L431.3,458.1 L431.7,457.2 L432.2,455.3 L432.6,452.3 L433.1,447.1 L433.5,440.5 L434.0,434.8 L434.4,431.9 L434.4,431.5 L434.9,434.5 L435.3,441.0 L435.8,447.5 L436.2,452.1 L436.7,456.1 L437.1,457.5 L437.6,458.1 L438.0,458.3 L438.5,458.4 L438.9,458.7 L439.4,459.9 L439.8,458.6 L440.3,459.6 L440.7,459.8 L441.2,459.8 L441.6,459.6 L442.1,460.0 L442.5,459.4 L443.0,460.0 L443.4,460.3 L443.9,459.4 L444.3,459.5 L444.8,459.9 L445.2,460.3 L445.7,460.4 L446.1,460.1 L446.6,459.6 L447.0,459.4 L447.5,459.8 L447.9,459.9 L448.4,459.4 L448.8,459.8 L449.3,459.9 L449.7,460.2 L450.2,459.3 L450.6,459.9 L451.1,459.1 L451.5,459.5 L452.0,459.7 L452.4,460.4 L452.9,461.0 L453.3,459.9 L453.8,459.7 L454.2,459.7 L454.7,458.6 L455.1,459.4 L455.6,458.5 L456.0,459.5 L456.5,459.1 L456.9,458.7 L457.4,457.8 L457.8,458.4 L458.3,457.5 L458.7,457.1 L459.2,456.8 L459.6,455.5 L460.1,455.9 L460.5,455.6 L461.0,454.9 L461.4,454.4 L461.9,453.4 L462.3,453.6 L462.8,453.0 L463.2,452.7 L463.7,452.2 L464.1,452.6 L464.6,452.7 L465.0,452.5 L465.5,452.8 L465.9,453.2 L466.4,453.5 L466.8,453.3 L467.3,453.5 L467.7,453.8 L468.2,454.5 L468.6,455.2 L469.1,455.8 L469.5,455.7 L470.0,456.4 L470.4,456.3 L470.9,457.5 L471.3,457.2 L471.8,457.8 L472.2,457.6 L472.7,458.0 L473.1,458.0 L473.6,459.1 L474.0,458.6 L474.5,458.3 L474.9,457.7 L475.4,457.4 L475.8,457.1 L476.3,456.6 L476.7,454.3 L477.2,453.3 L477.6,452.4 L478.1,452.0 L478.1,451.7 L478.5,452.6 L479.0,453.9 L479.4,454.4 L479.9,456.3 L480.3,457.5 L480.8,458.4 L481.2,458.4 L481.7,459.4 L482.1,458.3 L482.6,456.4 L483.0,454.9 L483.5,452.8 L483.5,453.6 L483.9,454.0 L484.4,457.1 L484.8,458.0 L485.3,459.4 L485.7,459.5 L486.2,459.5 L486.6,459.1 L487.1,459.4 L487.5,458.2 L488.0,458.7 L488.4,457.9 L488.9,456.5 L489.3,452.6 L489.8,446.9 L490.2,437.5 L490.7,433.6 L490.7,433.0 L491.1,437.8 L491.6,444.4 L492.0,452.4 L492.5,455.2 L492.9,456.2 L493.4,456.8 L493.8,456.1 L494.3,454.0 L494.7,450.3 L495.2,447.5 L495.4,446.7 L495.6,447.4 L496.1,450.2 L496.5,454.9 L497.0,457.5 L497.4,458.3 L497.9,458.4 L498.3,458.8 L498.8,460.0 L499.2,459.3 L499.7,459.5 L500.1,459.3 L500.6,459.9 L501.0,459.5 L501.5,459.4 L501.9,459.2 L502.4,459.8 L502.8,460.3 L503.3,460.0 L503.7,460.4 L504.2,460.1 L504.6,460.1 L505.1,460.1 L505.5,460.1 L506.0,460.4 L506.4,460.2 L506.9,459.8 L507.3,460.0 L507.8,460.0 L508.2,460.2 L508.7,460.0 L509.1,460.1 L509.6,459.4 L510.0,460.1 L510.5,460.4 L510.9,459.5 L511.4,460.5 L511.8,459.8 L512.3,459.7 L512.7,458.8 L513.2,459.6 L513.6,458.5 L514.1,458.3 L514.5,458.2 L515.0,457.3 L515.4,457.2 L515.5,457.1 L515.9,457.7 L516.3,458.3 L516.8,458.7 L517.2,459.1 L517.7,459.1 L518.1,459.6 L518.6,459.5 L519.0,460.5 L519.5,459.8 L519.9,459.2 L520.4,459.4 L520.8,460.4 L521.3,459.4 L521.7,459.8 L522.2,460.0 L522.6,459.6 L523.1,460.4 L523.5,460.7 L524.0,459.8 L524.4,460.4 L524.9,459.6 L525.3,459.6 L525.8,460.0 L526.2,460.1 L526.7,459.7 L527.1,460.2 L527.6,459.3 L528.0,459.6 L528.5,459.5 L528.9,460.3 L529.4,460.3 L529.8,460.3 L530.3,459.5 L530.7,459.9 L531.2,459.9 L531.6,459.3 L532.1,459.6 L532.5,460.1 L533.0,460.2 L533.4,460.1 L533.9,460.1 L534.3,460.0 L534.8,459.8 L535.2,459.6 L535.7,459.1 L536.1,459.3 L536.6,458.9 L537.0,459.6 L537.5,458.4 L537.9,457.8 L538.4,457.0 L538.8,456.5 L539.3,456.0 L539.7,456.2 L539.8,456.0 L540.2,456.4 L540.6,456.2 L541.1,457.1 L541.5,457.8 L542.0,457.7 L542.4,458.6 L542.9,459.0 L543.3,459.0 L543.8,459.2 L544.2,458.8 L544.7,459.9 L545.1,459.3 L545.6,459.2 L546.0,459.9 L546.5,459.1 L546.9,460.3 L547.4,460.0 L547.8,460.1 L548.3,459.7 L548.7,459.4 L549.2,459.1 L549.6,460.3 L550.1,459.7 L550.5,459.8 L551.0,460.5 L551.4,459.7 L551.9,459.9 L552.3,459.7 L552.8,459.8 L553.2,459.5 L553.7,459.7 L554.1,460.3 L554.6,460.0 L555.0,458.7 L555.5,459.0 L555.9,459.8 L556.4,459.8 L556.8,459.7 L557.3,460.3 L557.7,459.3 L558.2,460.4 L558.6,460.0 L559.1,460.3 L559.5,460.1 L560.0,460.3 L560.4,459.9 L560.9,459.8 L561.3,460.2 L561.8,460.0 L562.2,459.6 L562.7,460.6 L563.1,460.5 L563.6,460.7 L564.0,460.1 L564.5,460.1 L564.9,459.7 L565.4,459.5 L565.8,459.8 L566.3,460.0 L566.7,459.6 L567.2,460.5 L567.6,459.2 L568.1,459.6 L568.5,459.5 L569.0,460.3 L569.4,459.7 L569.9,459.7 L570.3,459.3 L570.8,459.4 L571.2,459.1 L571.7,460.0 L572.1,459.5 L572.6,459.4 L573.0,458.2 L573.5,458.9 L573.6,457.5 L573.9,457.3 L574.4,458.3 L574.8,459.0 L575.3,459.7 L575.7,459.3 L576.2,460.0 L576.6,460.4 L577.1,459.4 L577.5,459.4 L578.0,459.0 L578.4,459.8 L578.9,460.0 L579.3,460.1 L579.8,459.8 L580.2,459.7 L580.7,458.6 L581.1,458.4 L581.4,457.5 L581.6,457.6 L582.0,458.4 L582.5,458.6 L582.9,459.6 L583.4,460.1 L583.8,459.9 L584.3,459.5 L584.7,459.4 L585.2,460.2 L585.6,459.5 L586.1,459.8 L586.5,459.7 L587.0,459.8 L587.4,460.1 L587.9,459.6 L588.3,459.3 L588.8,460.4 L589.2,459.9 L589.7,460.2 L590.1,459.9 L590.6,460.3 L591.0,460.4 L591.5,460.4 L591.9,459.8 L592.4,459.7 L592.8,459.9 L593.3,459.8 L593.7,459.9 L594.2,459.4 L594.6,458.8 L595.1,459.8 L595.5,460.1 L596.0,460.2 L596.4,460.5 L596.9,460.2 L597.3,459.7 L597.8,460.1 L598.2,459.7 L598.7,460.2 L599.1,459.7 L599.6,459.8 L600.0,459.4 L600.5,459.2 L600.9,458.0 L601.4,457.8 L601.8,455.5 L602.3,454.6 L602.7,452.9 L603.1,452.7 L603.2,452.0 L603.6,453.0 L604.1,454.6 L604.5,457.8 L605.0,457.7 L605.4,459.2 L605.9,458.3 L606.3,459.3 L606.8,459.6 L607.2,459.6 L607.7,459.5 L608.1,459.2 L608.6,459.2 L609.0,459.9 L609.5,459.7 L609.9,459.5 L610.4,459.6 L610.8,459.1 L611.3,459.7 L611.7,459.5 L612.2,458.3 L612.6,458.1 L613.1,458.3 L613.1,457.8 L613.5,459.0 L614.0,459.2 L614.4,459.1 L614.9,459.7 L615.3,460.1 L615.8,459.1 L616.2,459.8 L616.7,459.4 L617.1,459.5 L617.6,459.7 L618.0,459.2 L618.5,458.9 L618.9,458.8 L619.4,459.4 L619.8,459.7 L620.3,459.5 L620.7,459.5 L621.2,459.5 L621.6,460.0 L622.1,459.7 L622.5,459.2 L623.0,459.3 L623.4,459.8 L623.9,459.1 L624.3,459.1 L624.8,459.2 L625.2,458.7 L625.7,459.5 L626.1,458.3 L626.6,459.6 L627.0,458.8 L627.5,458.5 L627.9,458.9 L628.4,458.1 L628.8,458.8 L629.3,458.7 L629.7,458.1 L630.2,457.9 L630.6,458.1 L631.1,457.2 L631.5,457.1 L632.0,456.8 L632.4,456.7 L632.9,455.5 L633.3,455.0 L633.8,454.7 L634.2,452.6 L634.7,452.8 L635.1,451.7 L635.6,451.4 L636.0,452.5 L636.5,451.7 L636.9,452.2 L637.4,451.4 L637.8,451.9 L638.3,451.7 L638.7,452.1 L639.2,452.7 L639.6,453.2 L640.1,454.2 L640.5,453.9 L641.0,454.4 L641.4,454.2 L641.9,454.6 L642.3,453.9 L642.8,454.7 L643.2,453.9 L643.7,453.9 L644.1,453.3 L644.6,453.3 L645.0,452.6 L645.5,451.9 L645.9,451.4 L646.4,451.0 L646.8,450.8 L647.3,450.6 L647.7,450.8 L648.2,450.9 L648.6,450.9 L649.1,450.6 L649.5,452.3 L650.0,453.0 L650.4,452.7 L650.9,453.3 L651.3,453.2 L651.8,455.1 L652.2,454.9 L652.7,456.7 L653.1,455.6 L653.6,457.0 L654.0,457.5 L654.5,457.6 L654.9,457.7 L655.4,458.2 L655.8,458.2 L656.3,458.4 L656.7,458.6 L657.2,458.6 L657.6,458.8 L658.1,459.3 L658.5,458.9 L659.0,459.2 L659.4,458.8 L659.9,459.5 L660.3,458.5 L660.8,459.4 L661.2,457.8 L661.7,458.7 L662.1,458.4 L662.6,459.5 L663.0,459.3 L663.5,458.8 L663.9,459.1 L664.4,459.8 L664.8,459.3 L665.3,459.5 L665.7,458.7 L666.2,458.8 L666.6,459.5 L667.1,460.3 L667.5,459.3 L668.0,459.7 L668.4,459.0 L668.9,459.8 L669.3,459.1 L669.8,459.1 L670.2,458.5 L670.7,459.2 L671.1,459.4 L671.6,459.9 L672.0,459.0 L672.5,459.8 L672.9,459.2 L673.4,459.2 L673.8,458.8 L674.3,458.6 L674.7,458.8 L675.2,459.8 L675.6,458.9 L676.1,459.2 L676.5,459.7 L677.0,458.5 L677.4,459.5 L677.9,459.1 L678.3,459.5 L678.8,459.7 L679.2,459.3 L679.7,459.3 L680.1,459.6 L680.6,459.6 L681.0,459.0 L681.5,459.2 L681.9,458.7 L682.4,459.7 L682.8,458.8 L683.3,459.4 L683.7,459.9 L684.2,459.5 L684.6,459.0 L685.1,458.7 L685.5,458.7 L686.0,459.1 L686.4,458.7 L686.9,458.2 L687.3,458.4 L687.8,456.2 L688.2,455.3 L688.7,454.0 L689.1,453.2 L689.6,452.6 L689.8,452.4 L690.0,452.8 L690.5,453.3 L690.9,454.1 L691.4,454.4 L691.8,456.6 L692.3,456.8 L692.7,457.6 L693.2,458.1 L693.6,458.0 L694.1,458.3 L694.5,458.7 L695.0,458.6 L695.4,458.9 L695.9,458.4 L696.3,458.6 L696.8,458.3 L697.2,458.5 L697.7,458.6 L698.1,458.3 L698.6,457.7 L699.0,457.9 L699.5,457.5 L699.9,457.1 L700.4,455.4 L700.8,453.6 L701.3,451.0 L701.7,449.6 L702.2,446.0 L702.6,444.1 L703.0,444.0 L703.1,443.5 L703.5,445.7 L704.0,447.5 L704.4,450.3 L704.9,452.1 L705.3,454.4 L705.8,456.5 L706.2,457.7 L706.7,459.0 L707.1,458.7 L707.6,457.7 L708.0,458.5 L708.5,458.3 L708.9,458.9 L709.4,458.2 L709.8,458.2 L710.3,457.4 L710.7,457.1 L711.2,456.5 L711.6,454.9 L712.1,453.9 L712.5,454.0 L712.5,455.0 L713.0,454.9 L713.4,455.5 L713.9,456.0 L714.3,457.5 L714.8,457.8 L715.2,458.2 L715.7,458.4 L716.1,458.7 L716.6,458.9 L717.0,459.2 L717.5,459.5 L717.9,458.3 L718.4,458.5 L718.8,458.9 L719.3,459.1 L719.7,458.5 L720.2,458.9 L720.6,459.0 L721.1,459.0 L721.5,459.1 L722.0,459.3 L722.4,459.7 L722.9,459.7 L723.3,459.6 L723.8,459.4 L724.2,459.1 L724.7,459.1 L725.1,459.6 L725.6,459.4 L726.0,459.7 L726.5,459.5 L726.9,459.4 L727.4,459.4 L727.8,458.7 L728.3,459.2 L728.7,459.0 L729.2,459.6 L729.6,459.0 L730.1,459.4 L730.5,459.1 L731.0,459.5 L731.4,459.5 L731.9,459.2 L732.3,459.3 L732.8,459.2 L733.2,459.4 L733.7,458.8 L734.1,458.7 L734.6,458.2 L735.0,457.6 L735.5,457.3 L735.9,456.6 L736.4,455.2 L736.8,455.1 L737.3,453.5 L737.7,453.8 L737.7,453.6 L738.2,453.1 L738.6,454.5 L739.1,455.0 L739.5,456.7 L740.0,457.8 L740.4,458.9 L740.9,458.9 L741.3,458.4 L741.8,458.9 L742.2,459.7 L742.7,459.4 L743.1,460.0 L743.6,458.9 L744.0,459.0 L744.5,458.7 L744.9,459.1 L745.4,459.8 L745.8,459.0 L746.3,459.8 L746.7,459.6 L747.2,459.8 L747.6,459.4 L748.1,459.5 L748.5,460.3 L749.0,459.1 L749.4,459.9 L749.9,460.1 L750.3,459.6 L750.8,460.0 L751.2,458.2 L751.7,459.1 L752.1,458.7 L752.6,459.2 L753.0,459.3 L753.5,459.6 L753.9,459.0 L754.4,459.7 L754.8,458.8 L755.3,459.7 L755.7,459.1 L756.2,458.5 L756.6,458.4 L757.1,458.4 L757.5,458.9 L758.0,459.4 L758.4,459.9 L758.9,459.6 L759.3,458.8 L759.8,458.3 L760.2,459.0 L760.7,458.6 L761.1,459.3 L761.6,459.1 L762.0,460.4 L762.5,458.9 L762.9,459.7 L763.4,460.1 L763.8,459.4 L764.3,459.1 L764.7,459.9 L765.2,458.4 L765.6,458.6 L766.1,458.8 L766.5,459.5 L767.0,459.8 L767.4,459.5 L767.9,460.4 L768.3,459.4 L768.8,459.6 L769.2,459.3 L769.7,459.9 L770.1,459.5 L770.6,459.5 L771.0,460.2 L771.5,460.0 L771.9,459.9 L772.4,458.9 L772.8,458.9 L773.3,459.2 L773.7,459.2 L774.2,459.3 L774.6,459.3 L775.1,459.7 L775.5,459.0 L776.0,459.5 L776.4,459.2 L776.9,459.3 L777.3,459.3 L777.8,459.7 L778.2,459.6 L778.7,459.2 L779.1,459.6 L779.6,459.5 L780.0,459.7 L780.5,459.5 L780.9,459.9 L781.4,459.5 L781.8,458.9 L782.3,458.8 L782.7,458.7 L783.2,459.5 L783.6,459.1 L784.1,459.4 L784.5,459.6 L785.0,460.1 L785.4,460.5 L785.9,459.7 L786.3,460.5 L786.8,459.8 L787.2,460.0 L787.7,459.4 L788.1,459.0 L788.6,459.5 L789.0,459.8 L789.5,458.7 L789.9,459.2 L790.4,459.1 L790.8,459.2 L791.3,458.4 L791.7,458.4 L792.2,458.7 L792.6,458.8 L793.1,457.9 L793.5,458.0 L794.0,457.5 L794.0,457.6 L794.4,457.3 L794.9,457.5 L795.3,457.7 L795.8,458.3 L796.2,459.0 L796.7,458.9 L797.1,459.3 L797.6,458.8 L798.0,459.3 L798.5,457.9 L798.9,458.5 L799.4,459.0 L799.8,458.6 L800.3,459.5 L800.7,459.4 L801.2,459.0 L801.6,459.3 L802.1,458.7 L802.5,458.9 L803.0,459.2 L803.4,458.8 L803.9,459.9 L804.3,459.2 L804.8,460.0 L805.2,459.4 L805.7,459.6 L806.1,459.1 L806.6,459.3 L807.0,459.3 L807.5,459.6 L807.9,460.0 L808.4,459.4 L808.8,459.5 L809.3,459.7 L809.7,459.9 L810.2,459.5 L810.6,459.3 L811.1,459.2 L811.5,459.4 L812.0,459.5 L812.4,459.2 L812.9,459.4 L813.3,459.7 L813.8,459.5 L814.2,459.3 L814.7,459.8 L815.1,459.9 L815.6,459.8 L816.0,459.8 L816.5,459.4 L816.9,459.6 L817.4,459.5 L817.8,459.4 L818.3,458.7 L818.7,459.3 L819.2,459.3 L819.6,459.4 L820.1,458.8 L820.5,458.7 L821.0,457.5 L821.4,457.3 L821.9,456.5 L822.3,457.4 L822.8,457.8 L823.2,457.8 L823.5,456.8 L823.7,457.4 L824.1,457.6 L824.6,457.4 L825.0,457.1 L825.5,458.6 L825.9,458.4 L826.4,458.8 L826.8,459.8 L827.3,459.5 L827.7,459.8 L828.2,460.0 L828.6,459.4 L829.1,459.1 L829.5,459.8 L830.0,459.5 L830.4,459.8 L830.9,459.7 L831.3,459.2 L831.8,459.5 L832.2,459.3 L832.7,459.4 L833.1,459.5 L833.6,459.6 L834.0,459.6 L834.5,459.0 L834.9,459.8 L835.4,459.0 L835.8,460.4 L836.3,459.3 L836.7,459.7 L837.2,460.0 L837.6,459.4 L838.1,459.0 L838.5,458.9 L839.0,459.6 L839.4,459.7 L839.9,459.9 L840.3,459.7 L840.8,459.5 L841.2,459.8 L841.7,460.3 L842.1,459.5 L842.6,461.2 L843.0,459.7 L843.5,460.4 L843.9,460.5 L844.4,460.2 L844.8,460.0 L845.3,459.9 L845.7,460.1 L846.2,458.6 L846.6,459.7 L847.1,459.3 L847.5,459.3 L848.0,459.6 L848.4,459.6 L848.9,459.8 L849.3,459.3 L849.8,459.9 L850.2,458.6 L850.7,459.1 L851.1,458.9 L851.6,459.5 L852.0,459.3 L852.5,459.8 L852.9,459.3 L853.4,460.1 L853.8,459.8 L854.3,459.3 L854.7,458.7 L855.2,458.9 L855.6,458.9 L856.1,459.9 L856.5,459.9 L857.0,459.2 L857.4,460.2 L857.9,459.4 L858.3,458.8 L858.8,460.0 L859.2,460.0 L859.7,459.7 L860.1,459.3 L860.6,460.0 L861.0,459.4 L861.5,459.6 L861.9,459.7 L862.4,459.6 L862.8,459.4 L863.3,459.0 L863.7,459.7 L864.2,458.6 L864.6,459.7 L865.1,459.6 L865.5,459.8 L866.0,459.5 L866.4,459.6 L866.9,459.8 L867.3,459.2 L867.8,459.5 L868.2,459.6 L868.7,459.1 L869.1,459.2 L869.6,460.1 L870.0,460.0 L870.5,459.4 L870.9,460.0 L871.4,459.8 L871.8,460.1 L872.3,460.0 L872.7,458.7 L873.2,459.5 L873.6,460.0 L874.1,460.2 L874.5,459.3 L875.0,459.0 L875.4,459.5 L875.9,459.1 L876.3,459.4 L876.8,458.9 L877.2,459.7 L877.7,459.5 L878.1,459.3 L878.6,458.4 L879.0,458.0 L879.5,457.7 L879.9,458.2 L880.4,457.2 L880.8,457.9 L881.3,458.1 L881.6,457.3 L881.7,457.5 L882.2,457.9 L882.6,458.2 L883.1,457.9 L883.5,458.3 L884.0,458.7 L884.4,458.8 L884.9,459.4 L885.3,459.4 L885.8,459.9 L886.2,458.9 L886.7,460.0 L887.1,459.8 L887.6,459.6 L888.0,459.8 L888.5,460.0 L888.9,459.7 L889.4,459.5 L889.8,459.6 L890.3,459.1 L890.7,458.9 L891.2,459.1 L891.6,459.2 L892.1,459.6 L892.5,460.0 L893.0,459.8 L893.4,460.2 L893.9,459.6 L894.3,459.3 L894.8,459.2 L895.2,459.2 L895.7,459.4 L896.1,460.1 L896.6,459.0 L897.0,459.9 L897.5,459.6 L897.9,460.0 L898.4,459.4 L898.8,459.9 L899.3,459.3 L899.7,459.8 L900.2,458.8 L900.6,459.7 L901.1,459.8 L901.5,459.0 L902.0,459.9 L902.4,459.1 L902.9,460.1 L903.3,459.7 L903.8,459.9 L904.2,459.8 L904.7,459.3 L905.1,460.2 L905.6,460.1 L906.0,459.4 L906.5,459.9 L906.9,459.7 L907.4,459.4 L907.8,459.2 L908.3,460.1 L908.7,459.6 L909.2,460.2 L909.6,460.4 L910.1,460.0 L910.5,459.4 L911.0,459.9 L911.4,459.2 L911.9,459.3 L912.3,460.7 L912.8,459.4 L913.2,459.8 L913.7,459.2 L914.1,459.4 L914.6,459.5 L915.0,458.5 L915.5,459.3 L915.9,459.8 L916.4,460.0 L916.8,459.8 L917.3,459.3 L917.7,459.7 L918.2,459.4 L918.6,459.4 L919.1,459.6 L919.5,460.6 L920.0,459.4 L920.4,460.1 L920.9,459.6 L921.3,459.0 L921.8,459.2 L922.2,459.4 L922.7,459.3 L923.1,459.6 L923.6,459.2 L924.0,459.2 L924.5,459.9 L924.9,459.6 L925.4,459.4 L925.8,459.7 L926.3,460.3 L926.7,459.4 L927.2,459.2 L927.6,460.1 L928.1,460.4 L928.5,460.1 L929.0,459.2 L929.4,458.8 L929.9,460.0 L930.3,459.5 L930.8,460.0 L931.2,459.6 L931.7,460.3 L932.1,459.7 L932.6,459.5 L933.0,459.6 L933.5,459.1 L933.9,459.5 L934.4,459.4 L934.8,458.6 L935.3,458.9 L935.7,458.9 L936.2,458.9 L936.6,459.7 L937.1,460.0 L937.5,459.7 L938.0,459.0 L938.4,458.8 L938.9,459.7 L939.3,459.3 L939.8,459.4 L940.2,459.0 L940.7,458.7 L941.1,460.3 L941.6,459.3 L942.0,459.6 L942.5,459.1 L942.9,460.1 L943.4,459.4 L943.8,459.6 L944.3,459.6 L944.7,459.6 L945.2,460.1 L945.6,458.9 L946.1,459.8 L946.5,459.2 L947.0,459.4 L947.4,459.2 L947.9,459.6 L948.3,459.0 L948.8,459.3 L949.2,459.7 L949.7,459.3 L950.1,459.4 L950.6,459.7 L951.0,459.6 L951.5,459.4 L951.9,459.6 L952.4,459.2 L952.8,459.8 L953.3,459.0 L953.7,458.8 L954.2,459.5 L954.6,458.9 L955.1,459.1 L955.5,459.4 L956.0,459.8 L956.4,459.3 L956.9,459.4 L957.3,459.3 L957.8,459.7 L958.2,459.4 L958.7,459.7 L959.1,460.1 L959.6,459.5 L960.0,459.4 L960.5,459.0 L960.9,459.0 L961.4,458.9 L961.8,459.0 L962.3,459.2 L962.7,459.6 L963.2,459.7 L963.6,459.4 L964.1,459.7 L964.5,459.2 L965.0,460.5 L965.4,460.7 L965.9,459.8 L966.3,459.9 L966.8,459.6 L967.2,459.8 L967.7,459.3 L968.1,458.9 L968.6,459.7 L969.0,459.0 L969.5,459.6 L969.9,459.1 L970.4,459.3 L970.8,459.9 L971.3,460.2 L971.7,459.6 L972.2,459.4 L972.6,459.5 L973.1,459.2 L973.5,458.7 L974.0,459.3 L974.4,458.5 L974.9,459.6 L975.3,459.2 L975.8,459.5 L976.2,458.9 L976.7,459.2 L977.1,459.7 L977.6,460.1 L978.0,459.9 L978.5,459.7 L978.9,459.1 L979.4,459.7 L979.8,459.5 L980.3,459.3 L980.7,460.0 L981.2,459.1 L981.6,459.9 L982.1,458.8 L982.5,458.6 L983.0,458.5 L983.4,457.9 L983.9,457.9 L984.3,457.9 L984.8,457.1 L985.0,457.4 L985.2,457.3 L985.7,457.8 L986.1,458.6 L986.6,458.4 L987.0,458.6 L987.5,458.9 L987.9,458.6 L988.4,459.2 L988.8,458.9 L989.3,459.0 L989.7,458.7 L990.2,459.2 L990.6,459.8 L991.1,460.0 L991.5,459.5 L992.0,459.5 L992.4,459.2 L992.9,459.0 L993.3,458.7 L993.8,460.1 L994.2,459.2 L994.7,459.7 L995.1,460.1 L995.6,459.5 L996.0,459.5 L996.5,459.6 L996.9,459.4 L997.4,459.7 L997.8,459.5 L998.3,460.0 L998.7,459.7 L999.2,459.0 L999.6,458.9 L1000.1,459.1 L1000.5,459.2 L1001.0,459.2 L1001.4,459.8 L1001.9,459.3 L1002.3,459.3 L1002.8,459.5 L1003.2,458.8 L1003.7,459.8 L1004.1,459.8 L1004.6,460.2 L1005.0,459.2 L1005.5,459.4 L1005.9,459.5 L1006.4,459.4 L1006.8,459.0 L1007.3,459.9 L1007.7,459.4 L1008.2,459.8 L1008.6,459.2 L1009.1,459.9 L1009.5,459.4 L1010.0,459.4 L1010.4,459.9 L1010.9,460.1 L1011.3,459.4 L1011.8,460.1 L1012.2,460.2 L1012.7,459.8 L1013.1,459.2 L1013.6,459.8 L1014.0,460.0 L1014.5,459.3 L1014.9,460.3 L1015.4,459.6 L1015.8,459.7 L1016.3,460.1 L1016.7,459.8 L1017.2,460.2 L1017.6,459.7 L1018.1,459.8 L1018.5,459.7 L1019.0,459.8 L1019.4,459.9 L1019.9,459.9 L1020.3,459.6 L1020.8,460.1 L1021.2,459.7 L1021.7,460.2 L1022.1,459.9 L1022.6,459.6 L1023.0,459.4 L1023.5,459.7 L1023.9,460.2 L1024.4,459.8 L1024.8,460.1 L1025.3,459.6 L1025.7,459.4 L1026.2,459.2 L1026.6,458.7 L1027.1,459.6 L1027.5,459.6 L1028.0,459.6 L1028.4,460.0 L1028.9,459.2 L1029.3,460.2 L1029.8,459.0 L1030.2,459.6 L1030.7,459.1 L1031.1,459.4 L1031.6,459.9 L1032.0,459.0 L1032.5,459.7 L1032.9,459.6 L1033.4,459.7 L1033.8,459.8 L1034.3,460.0 L1034.7,459.9 L1035.2,459.9 L1035.6,460.0 L1036.1,459.9 L1036.5,459.6 L1037.0,459.1 L1037.4,459.9 L1037.9,459.5 L1038.3,460.2 L1038.8,459.4 L1039.2,459.2 L1039.7,459.9 L1040.1,459.3 L1040.6,459.0 L1041.0,460.0 L1041.5,459.0 L1041.9,460.1 L1042.4,459.2 L1042.8,459.7 L1043.3,459.6 L1043.7,458.8 L1044.2,459.5 L1044.6,459.4 L1045.1,459.7 L1045.5,459.9 L1046.0,460.3 L1046.4,459.7 L1046.9,459.8 L1047.3,460.6 L1047.8,460.0 L1048.2,459.9 L1048.7,458.9 L1049.1,458.9 L1049.6,459.2 L1050.0,459.6 L1050.5,459.8 L1050.9,460.7 L1051.4,459.2 L1051.8,459.5 L1052.3,459.8 L1052.7,459.8 L1053.2,460.1 L1053.6,459.6 L1054.1,459.4 L1054.5,460.4 L1055.0,459.8 L1055.4,459.2 L1055.9,459.3 L1056.3,459.4 L1056.8,459.0 L1057.2,459.8 L1057.7,459.6 L1058.1,459.5 L1058.6,459.4 L1059.0,460.2 L1059.5,459.5 L1059.9,459.2 L1060.4,458.6 L1060.8,459.1 L1061.3,459.7 L1061.7,460.0 L1062.2,459.1 L1062.6,458.7 L1063.1,459.5 L1063.5,459.5 L1064.0,459.9 L1064.4,459.2 L1064.9,459.5 L1065.3,458.7 L1065.8,458.9 L1066.2,459.2 L1066.7,459.4 L1067.1,459.7 L1067.6,460.1 L1068.0,459.1 L1068.5,460.2 L1068.9,459.3 L1069.4,459.4 L1069.8,459.8 L1070.3,458.5 L1070.7,458.9 L1071.2,459.1 L1071.6,459.6 L1072.1,460.0 L1072.5,460.1 L1073.0,459.3 L1073.4,460.0 L1073.9,459.4 L1074.3,460.3 L1074.8,459.5 L1075.2,460.1 L1075.7,459.2 L1076.1,459.8 L1076.6,458.9 L1077.0,459.5 L1077.5,458.8 L1077.9,459.4 L1078.4,459.1 L1078.8,459.2 L1079.3,459.6 L1079.7,459.9 L1080.2,459.7 L1080.6,459.9 L1081.1,460.0 L1081.5,460.2 L1082.0,460.2 L1082.4,459.9 L1082.9,460.5 L1083.3,459.5 L1083.8,460.1 L1084.2,459.2 L1084.7,460.6 L1085.1,459.6 L1085.6,459.8 L1086.0,460.1 L1086.5,459.4 L1086.9,459.2 L1087.4,458.8 L1087.8,459.4 L1088.3,460.4 L1088.7,459.9 L1089.2,460.4 L1089.6,459.9 L1090.1,459.4 L1090.5,459.0 L1091.0,459.4 L1091.4,459.8" fill="none" stroke="#f20ef2" stroke-width="2.45" stroke-linejoin="round"/>
<path d="M191.0,546.0 L191.4,546.2 L191.9,545.6 L192.3,546.2 L192.8,545.7 L193.2,545.3 L193.7,545.7 L194.1,546.1 L194.6,546.1 L195.0,545.6 L195.5,546.2 L195.9,546.0 L196.4,546.2 L196.8,546.1 L197.3,545.5 L197.7,546.1 L198.2,545.8 L198.6,546.7 L199.1,546.3 L199.5,546.1 L200.0,545.6 L200.4,545.9 L200.9,546.1 L201.3,545.6 L201.8,547.0 L202.2,546.2 L202.7,546.9 L203.1,545.6 L203.6,546.6 L204.0,545.4 L204.5,545.7 L204.9,546.0 L205.4,545.8 L205.8,545.0 L206.3,545.5 L206.7,546.3 L207.2,546.9 L207.6,546.5 L208.1,546.0 L208.5,546.3 L209.0,545.5 L209.4,546.1 L209.9,545.4 L210.3,546.0 L210.8,545.9 L211.2,546.3 L211.7,545.9 L212.1,546.5 L212.6,546.0 L213.0,546.3 L213.5,546.2 L213.9,545.3 L214.4,545.9 L214.8,545.9 L215.3,545.6 L215.7,546.0 L216.2,545.4 L216.6,546.2 L217.1,546.3 L217.5,546.3 L218.0,547.1 L218.4,546.2 L218.9,546.1 L219.3,545.6 L219.8,546.1 L220.2,545.6 L220.7,546.4 L221.1,545.8 L221.6,546.2 L222.0,546.8 L222.5,546.6 L222.9,546.3 L223.4,546.6 L223.8,546.0 L224.3,546.3 L224.7,546.0 L225.2,545.7 L225.6,546.1 L226.1,546.2 L226.5,545.8 L227.0,545.4 L227.4,545.5 L227.9,544.8 L228.3,545.6 L228.8,545.4 L229.2,546.6 L229.7,545.7 L230.1,545.4 L230.6,546.2 L231.0,545.8 L231.5,546.0 L231.9,546.0 L232.4,546.1 L232.8,545.9 L233.3,546.3 L233.7,546.2 L234.2,545.7 L234.6,545.8 L235.1,545.5 L235.5,546.1 L236.0,546.3 L236.4,546.3 L236.9,546.3 L237.3,546.0 L237.8,546.6 L238.2,545.9 L238.7,546.0 L239.1,545.8 L239.6,546.0 L240.0,545.9 L240.5,546.7 L240.9,546.1 L241.4,545.2 L241.8,545.6 L242.3,545.3 L242.7,546.2 L243.2,546.5 L243.6,545.9 L244.1,546.2 L244.5,545.9 L245.0,546.2 L245.4,546.6 L245.9,545.8 L246.3,545.5 L246.8,546.2 L247.2,546.2 L247.7,546.3 L248.1,546.3 L248.6,545.7 L249.0,545.1 L249.5,546.1 L249.9,545.6 L250.4,545.4 L250.8,545.4 L251.3,546.3 L251.7,546.0 L252.2,546.1 L252.6,546.2 L253.1,545.6 L253.5,545.3 L254.0,545.4 L254.4,545.3 L254.9,545.6 L255.3,545.4 L255.8,545.8 L256.2,545.7 L256.7,545.9 L257.1,546.3 L257.6,546.6 L258.0,546.7 L258.5,546.1 L258.9,546.1 L259.4,545.8 L259.8,546.4 L260.3,546.6 L260.7,545.8 L261.2,546.2 L261.6,545.8 L262.1,545.8 L262.5,546.0 L263.0,545.7 L263.4,546.1 L263.9,545.2 L264.3,545.5 L264.8,545.7 L265.2,545.3 L265.7,545.9 L266.1,545.1 L266.6,545.8 L267.0,545.2 L267.5,545.9 L267.9,546.2 L268.4,547.0 L268.8,546.5 L269.3,546.8 L269.7,546.1 L270.2,546.8 L270.6,545.8 L271.1,545.7 L271.5,545.3 L272.0,545.8 L272.4,546.0 L272.9,545.2 L273.3,545.0 L273.8,544.6 L274.2,544.4 L274.5,544.3 L274.7,544.0 L275.1,545.2 L275.6,544.3 L276.0,545.0 L276.5,545.6 L276.9,546.1 L277.4,545.7 L277.8,545.7 L278.3,545.8 L278.7,545.7 L279.2,546.1 L279.6,545.6 L280.1,545.4 L280.5,545.6 L281.0,546.0 L281.4,546.4 L281.9,546.5 L282.3,545.7 L282.8,545.3 L283.2,545.3 L283.7,546.6 L284.1,545.8 L284.6,546.2 L285.0,546.6 L285.5,545.6 L285.9,545.7 L286.4,545.5 L286.8,545.4 L287.3,546.1 L287.7,546.2 L288.2,545.2 L288.6,546.2 L289.1,545.7 L289.5,545.9 L290.0,545.8 L290.4,545.2 L290.9,545.7 L291.3,545.5 L291.8,546.7 L292.2,546.8 L292.7,546.1 L293.1,545.5 L293.6,546.4 L294.0,545.9 L294.5,546.8 L294.9,546.8 L295.4,546.7 L295.8,545.8 L296.3,545.4 L296.7,545.4 L297.2,545.7 L297.6,545.5 L298.1,546.3 L298.5,546.1 L299.0,545.9 L299.4,545.8 L299.9,546.1 L300.3,546.3 L300.8,545.1 L301.2,545.8 L301.7,545.6 L302.1,545.5 L302.6,545.7 L303.0,545.9 L303.5,546.6 L303.9,545.9 L304.4,545.7 L304.8,545.3 L305.3,546.0 L305.7,545.5 L306.2,545.8 L306.6,546.1 L307.1,545.8 L307.5,545.7 L308.0,545.8 L308.4,546.2 L308.9,545.9 L309.3,546.0 L309.8,546.0 L310.2,545.7 L310.7,546.0 L311.1,545.8 L311.6,546.2 L312.0,546.0 L312.5,545.2 L312.9,545.7 L313.4,546.1 L313.8,545.8 L314.3,545.7 L314.7,546.1 L315.2,545.4 L315.6,545.9 L316.1,546.0 L316.5,546.1 L317.0,545.4 L317.4,545.3 L317.9,546.3 L318.3,545.6 L318.8,545.9 L319.2,546.6 L319.7,545.7 L320.1,545.1 L320.6,546.9 L321.0,546.4 L321.5,546.3 L321.9,547.1 L322.4,546.0 L322.8,546.5 L323.3,545.9 L323.7,545.8 L324.2,546.1 L324.6,546.3 L325.1,546.4 L325.5,546.3 L326.0,545.8 L326.4,545.9 L326.9,546.6 L327.3,546.2 L327.8,546.0 L328.2,546.5 L328.7,546.4 L329.1,546.3 L329.6,545.6 L330.0,545.6 L330.5,545.9 L330.9,546.1 L331.4,545.2 L331.8,545.4 L332.3,545.3 L332.7,545.8 L333.2,544.7 L333.6,545.3 L334.1,542.5 L334.5,540.0 L335.0,538.9 L335.0,538.3 L335.4,539.9 L335.9,542.2 L336.3,544.3 L336.8,544.6 L337.2,545.2 L337.7,545.4 L338.1,545.2 L338.6,545.8 L339.0,545.7 L339.5,544.8 L339.9,545.8 L340.4,545.1 L340.8,545.7 L341.3,545.2 L341.7,545.5 L342.2,545.6 L342.6,546.2 L343.1,544.8 L343.5,545.2 L344.0,544.9 L344.4,545.0 L344.9,543.5 L345.3,541.6 L345.8,538.5 L346.2,535.2 L346.5,534.1 L346.7,534.4 L347.1,537.3 L347.6,540.9 L348.0,542.9 L348.5,544.4 L348.9,545.1 L349.4,545.0 L349.8,545.2 L350.3,545.4 L350.7,545.6 L351.2,544.9 L351.6,545.0 L352.1,545.8 L352.5,545.3 L353.0,544.9 L353.4,545.0 L353.9,544.8 L354.3,542.6 L354.8,540.4 L355.2,538.6 L355.5,539.0 L355.7,538.5 L356.1,540.8 L356.6,543.1 L357.0,544.5 L357.5,544.9 L357.9,545.6 L358.4,545.5 L358.8,545.8 L359.3,545.6 L359.7,545.6 L360.2,544.8 L360.6,545.6 L361.1,545.3 L361.5,544.7 L362.0,545.4 L362.4,545.4 L362.9,545.3 L363.3,544.4 L363.8,545.0 L364.2,544.8 L364.7,545.1 L365.1,544.4 L365.6,545.4 L366.0,545.4 L366.5,545.4 L366.9,545.0 L367.4,544.5 L367.8,543.9 L368.3,541.9 L368.7,538.7 L369.2,535.5 L369.6,533.2 L369.8,533.2 L370.1,533.6 L370.5,536.2 L371.0,539.6 L371.4,542.5 L371.9,544.0 L372.3,545.0 L372.8,544.2 L373.2,544.8 L373.7,544.7 L374.1,545.7 L374.6,545.7 L375.0,545.6 L375.5,545.8 L375.9,545.3 L376.4,545.6 L376.8,545.4 L377.3,545.5 L377.7,545.3 L378.2,545.6 L378.6,545.4 L379.1,544.3 L379.5,544.3 L380.0,544.1 L380.4,543.9 L380.9,542.7 L381.3,542.7 L381.8,542.7 L382.0,543.5 L382.2,542.6 L382.7,543.0 L383.1,543.4 L383.6,543.8 L384.0,544.3 L384.5,544.5 L384.9,544.8 L385.4,545.2 L385.8,545.4 L386.3,545.4 L386.7,545.5 L387.2,545.0 L387.6,545.5 L388.1,545.5 L388.5,545.9 L389.0,545.8 L389.4,546.1 L389.9,545.2 L390.3,545.4 L390.8,545.4 L391.2,545.1 L391.7,545.2 L392.1,545.2 L392.6,545.1 L393.0,546.2 L393.5,545.1 L393.9,545.5 L394.4,544.0 L394.8,543.5 L395.3,541.5 L395.7,539.7 L396.2,537.5 L396.6,535.5 L396.9,534.7 L397.1,534.8 L397.5,536.5 L398.0,539.2 L398.4,542.0 L398.9,542.5 L399.3,544.1 L399.8,544.2 L400.2,545.3 L400.7,544.6 L401.1,545.4 L401.6,544.8 L402.0,545.0 L402.5,545.9 L402.9,545.7 L403.4,545.0 L403.8,544.6 L404.3,544.9 L404.7,545.5 L405.2,545.3 L405.6,545.1 L406.1,545.6 L406.5,545.9 L407.0,544.9 L407.4,545.3 L407.9,545.0 L408.3,545.7 L408.8,545.2 L409.2,545.0 L409.7,544.5 L410.1,545.3 L410.6,544.9 L411.0,545.1 L411.5,544.8 L411.9,544.9 L412.4,544.0 L412.8,544.3 L413.3,544.6 L413.7,545.0 L414.2,544.3 L414.6,543.8 L415.1,543.0 L415.5,542.4 L416.0,541.6 L416.4,539.6 L416.9,536.5 L417.3,529.7 L417.8,519.3 L418.2,502.8 L418.7,486.4 L419.1,474.8 L419.3,474.4 L419.6,478.1 L420.0,491.1 L420.5,508.0 L420.9,523.0 L421.4,532.4 L421.8,537.9 L422.3,541.0 L422.7,542.4 L423.2,543.5 L423.6,543.7 L424.1,543.6 L424.5,543.5 L425.0,543.5 L425.4,543.9 L425.9,544.9 L426.3,544.2 L426.8,545.0 L427.2,545.5 L427.7,545.4 L428.1,545.9 L428.6,545.5 L429.0,545.8 L429.5,545.0 L429.9,544.9 L430.4,545.8 L430.8,545.1 L431.3,544.9 L431.7,544.4 L432.2,544.8 L432.6,543.9 L433.1,543.5 L433.5,542.7 L434.0,542.8 L434.0,542.6 L434.4,542.9 L434.9,543.3 L435.3,543.6 L435.8,543.8 L436.2,544.9 L436.7,544.6 L437.1,545.7 L437.6,545.9 L438.0,544.9 L438.5,546.1 L438.9,545.1 L439.4,546.0 L439.8,545.2 L440.3,545.8 L440.7,545.1 L441.2,545.8 L441.6,545.6 L442.1,546.2 L442.5,545.9 L443.0,545.2 L443.4,545.6 L443.9,545.3 L444.3,545.7 L444.8,546.2 L445.2,546.2 L445.7,545.7 L446.1,545.4 L446.6,545.6 L447.0,546.3 L447.5,545.4 L447.9,544.9 L448.4,544.8 L448.8,544.9 L449.3,545.8 L449.7,545.3 L450.2,545.3 L450.6,545.6 L451.1,545.8 L451.5,545.4 L452.0,545.1 L452.4,545.3 L452.9,545.4 L453.3,544.6 L453.8,544.6 L454.2,545.7 L454.7,544.8 L455.1,544.3 L455.6,542.4 L456.0,540.8 L456.5,538.5 L456.9,536.1 L457.4,533.8 L457.6,533.0 L457.8,534.5 L458.3,536.7 L458.7,539.4 L459.2,541.1 L459.6,542.9 L460.1,544.1 L460.5,544.7 L461.0,545.6 L461.4,544.6 L461.9,544.9 L462.3,545.1 L462.8,544.9 L463.2,545.0 L463.7,544.6 L464.1,545.3 L464.6,545.2 L465.0,545.5 L465.5,545.7 L465.9,545.3 L466.4,545.3 L466.8,545.4 L467.3,545.0 L467.7,545.2 L468.2,544.5 L468.6,544.8 L469.1,545.2 L469.5,544.9 L470.0,544.8 L470.4,543.2 L470.9,542.2 L471.3,540.3 L471.8,538.0 L472.2,535.9 L472.6,535.8 L472.7,535.2 L473.1,536.7 L473.6,539.3 L474.0,541.7 L474.5,543.3 L474.9,544.9 L475.4,544.9 L475.8,545.0 L476.3,544.7 L476.7,545.6 L477.2,544.9 L477.6,545.5 L478.1,545.1 L478.5,546.0 L479.0,545.4 L479.4,544.3 L479.9,544.5 L480.3,543.2 L480.8,542.9 L481.2,543.0 L481.3,542.3 L481.7,543.2 L482.1,543.6 L482.6,544.7 L483.0,544.5 L483.5,545.4 L483.9,545.1 L484.4,545.7 L484.8,545.4 L485.3,545.7 L485.7,545.9 L486.2,545.8 L486.6,545.3 L487.1,545.4 L487.5,545.1 L488.0,544.9 L488.4,544.6 L488.9,542.6 L489.3,540.8 L489.8,539.1 L490.2,536.7 L490.7,536.5 L490.7,536.3 L491.1,537.2 L491.6,539.0 L492.0,541.0 L492.5,542.5 L492.9,543.7 L493.4,544.6 L493.8,544.6 L494.3,545.4 L494.7,545.3 L495.2,544.7 L495.6,544.1 L496.1,545.4 L496.5,544.5 L497.0,544.1 L497.4,544.6 L497.9,545.4 L498.3,546.0 L498.8,546.0 L499.2,546.3 L499.7,546.3 L500.1,546.3 L500.6,545.2 L501.0,545.4 L501.5,545.1 L501.9,545.4 L502.4,545.3 L502.8,545.5 L503.3,546.0 L503.7,544.9 L504.2,545.2 L504.6,544.3 L505.1,543.9 L505.5,544.3 L506.0,543.6 L506.4,543.4 L506.9,543.8 L506.9,542.8 L507.3,543.4 L507.8,544.1 L508.2,543.7 L508.7,544.6 L509.1,545.1 L509.6,545.5 L510.0,545.5 L510.5,545.8 L510.9,545.6 L511.4,545.7 L511.8,545.5 L512.3,544.9 L512.7,545.2 L513.2,545.1 L513.6,545.4 L514.1,544.9 L514.5,544.5 L515.0,543.9 L515.4,543.6 L515.9,542.7 L516.3,542.8 L516.4,542.4 L516.8,542.7 L517.2,542.8 L517.7,544.5 L518.1,544.4 L518.6,544.3 L519.0,544.7 L519.5,545.2 L519.9,545.1 L520.4,545.7 L520.8,545.5 L521.3,545.8 L521.7,544.3 L522.2,545.7 L522.6,545.5 L523.1,545.9 L523.5,545.2 L524.0,545.1 L524.4,545.0 L524.9,545.5 L525.3,545.4 L525.8,544.8 L526.2,545.1 L526.7,545.3 L527.1,544.9 L527.6,545.2 L528.0,545.3 L528.5,545.2 L528.9,544.8 L529.4,545.9 L529.8,545.6 L530.3,545.7 L530.7,545.3 L531.2,545.5 L531.6,545.2 L532.1,545.5 L532.5,545.5 L533.0,545.7 L533.4,545.3 L533.9,545.2 L534.3,545.9 L534.8,544.9 L535.2,545.6 L535.7,545.4 L536.1,545.7 L536.6,545.3 L537.0,545.0 L537.5,545.3 L537.9,544.8 L538.4,545.0 L538.8,545.3 L539.3,545.5 L539.7,544.9 L540.2,546.0 L540.6,545.6 L541.1,546.1 L541.5,546.0 L542.0,545.5 L542.4,545.3 L542.9,545.0 L543.3,545.9 L543.8,546.1 L544.2,545.6 L544.7,545.5 L545.1,545.0 L545.6,545.1 L546.0,545.4 L546.5,546.0 L546.9,545.5 L547.4,545.9 L547.8,545.6 L548.3,545.4 L548.7,545.0 L549.2,545.2 L549.6,545.0 L550.1,545.7 L550.5,545.6 L551.0,545.0 L551.4,545.1 L551.9,544.9 L552.3,545.4 L552.8,545.6 L553.2,545.1 L553.7,545.2 L554.1,545.5 L554.6,544.8 L555.0,545.6 L555.5,546.1 L555.9,546.2 L556.4,545.6 L556.8,545.5 L557.3,545.8 L557.7,545.8 L558.2,546.1 L558.6,545.7 L559.1,545.7 L559.5,545.6 L560.0,546.2 L560.4,545.2 L560.9,546.0 L561.3,545.5 L561.8,545.6 L562.2,545.0 L562.7,545.2 L563.1,544.9 L563.6,544.2 L564.0,545.2 L564.5,544.6 L564.9,545.2 L565.4,544.6 L565.8,544.9 L566.3,544.9 L566.7,544.3 L567.2,544.8 L567.6,544.6 L568.1,544.0 L568.5,545.4 L569.0,544.8 L569.4,544.7 L569.9,544.3 L570.3,544.4 L570.8,543.8 L571.2,544.0 L571.7,543.8 L572.1,543.0 L572.6,542.9 L573.0,542.7 L573.5,542.0 L573.9,542.6 L574.4,542.4 L574.8,543.0 L575.3,542.6 L575.7,542.4 L576.2,542.7 L576.6,542.7 L577.1,542.2 L577.5,543.3 L578.0,543.1 L578.4,544.4 L578.9,544.3 L579.3,544.8 L579.8,544.7 L580.2,544.6 L580.7,545.0 L581.1,544.3 L581.6,545.1 L582.0,544.8 L582.5,544.3 L582.9,545.0 L583.4,545.4 L583.8,545.2 L584.3,545.9 L584.7,545.8 L585.2,545.1 L585.6,545.0 L586.1,545.2 L586.5,545.2 L587.0,545.7 L587.4,545.9 L587.9,545.7 L588.3,545.7 L588.8,545.4 L589.2,545.4 L589.7,545.2 L590.1,546.4 L590.6,545.8 L591.0,545.7 L591.5,545.1 L591.9,544.7 L592.4,544.9 L592.8,545.1 L593.3,545.2 L593.7,545.6 L594.2,545.3 L594.6,545.7 L595.1,545.6 L595.5,545.7 L596.0,545.4 L596.4,545.7 L596.9,545.5 L597.3,545.5 L597.8,545.3 L598.2,545.4 L598.7,545.5 L599.1,545.6 L599.6,545.1 L600.0,545.3 L600.5,545.4 L600.9,545.9 L601.4,545.5 L601.8,545.7 L602.3,545.9 L602.7,545.5 L603.2,546.0 L603.6,544.9 L604.1,544.7 L604.5,544.7 L605.0,544.8 L605.4,545.0 L605.9,545.2 L606.3,545.4 L606.8,545.1 L607.2,545.1 L607.7,545.5 L608.1,545.2 L608.6,545.3 L609.0,545.1 L609.5,544.7 L609.9,545.2 L610.4,545.2 L610.8,545.4 L611.3,545.3 L611.7,544.9 L612.2,545.6 L612.6,544.6 L613.1,544.3 L613.5,544.6 L614.0,544.5 L614.4,544.6 L614.9,543.4 L615.3,542.3 L615.8,541.0 L616.1,540.8 L616.2,540.0 L616.7,541.8 L617.1,542.6 L617.6,544.5 L618.0,544.4 L618.5,544.7 L618.9,545.2 L619.4,545.1 L619.8,545.1 L620.3,545.4 L620.7,545.0 L621.2,544.9 L621.6,545.5 L622.1,544.9 L622.5,545.2 L623.0,544.6 L623.4,545.1 L623.9,545.1 L624.3,545.3 L624.8,545.9 L625.2,544.4 L625.7,544.7 L626.1,544.8 L626.6,545.0 L627.0,544.4 L627.5,544.9 L627.9,544.5 L628.4,545.0 L628.8,544.6 L629.3,546.0 L629.7,544.8 L630.2,544.9 L630.6,543.4 L631.1,543.7 L631.5,543.4 L632.0,543.6 L632.4,541.8 L632.9,541.3 L633.3,539.6 L633.8,538.9 L634.2,537.4 L634.7,537.1 L634.8,537.5 L635.1,538.4 L635.6,539.0 L636.0,539.6 L636.5,540.2 L636.9,542.0 L637.4,542.3 L637.8,542.8 L638.3,543.6 L638.7,544.0 L639.2,545.0 L639.6,544.5 L640.1,544.4 L640.5,544.5 L641.0,544.0 L641.4,545.1 L641.9,544.3 L642.3,544.7 L642.8,544.1 L643.2,544.2 L643.7,543.7 L644.1,544.7 L644.6,545.4 L645.0,545.2 L645.5,544.4 L645.9,544.1 L646.4,542.5 L646.8,541.2 L647.3,540.8 L647.7,538.7 L648.2,538.3 L648.6,536.8 L649.0,535.6 L649.1,535.8 L649.5,536.4 L650.0,538.1 L650.4,539.1 L650.9,540.7 L651.3,541.3 L651.8,543.3 L652.2,543.5 L652.7,543.5 L653.1,543.0 L653.6,543.6 L654.0,544.5 L654.5,543.2 L654.9,543.2 L655.4,541.3 L655.8,541.6 L656.3,541.0 L656.7,541.1 L657.2,539.8 L657.6,540.0 L658.1,539.6 L658.5,538.9 L659.0,538.5 L659.4,538.5 L659.9,538.0 L660.3,538.0 L660.8,538.4 L661.2,539.6 L661.7,540.1 L662.1,540.8 L662.6,541.3 L663.0,542.0 L663.5,543.2 L663.9,542.7 L664.4,542.9 L664.8,543.0 L665.3,543.4 L665.7,544.2 L666.2,544.1 L666.6,544.2 L667.1,544.3 L667.5,543.9 L668.0,544.2 L668.4,544.4 L668.9,544.6 L669.3,544.9 L669.8,545.2 L670.2,544.7 L670.7,545.0 L671.1,545.0 L671.6,544.7 L672.0,545.1 L672.5,545.3 L672.9,544.3 L673.4,545.1 L673.8,545.0 L674.3,545.1 L674.7,544.4 L675.2,545.3 L675.6,544.7 L676.1,544.6 L676.5,544.2 L677.0,544.9 L677.4,544.8 L677.9,544.4 L678.3,545.5 L678.8,544.4 L679.2,545.1 L679.7,544.5 L680.1,544.8 L680.6,545.1 L681.0,544.7 L681.5,545.1 L681.9,544.8 L682.4,545.3 L682.8,544.7 L683.3,544.2 L683.7,543.2 L684.2,542.7 L684.6,542.3 L685.1,542.1 L685.5,541.5 L686.0,540.8 L686.0,541.1 L686.4,540.8 L686.9,541.4 L687.3,542.1 L687.8,542.8 L688.2,543.7 L688.7,545.2 L689.1,544.4 L689.6,545.1 L690.0,545.0 L690.5,544.7 L690.9,544.9 L691.4,544.4 L691.8,544.7 L692.3,545.0 L692.7,545.0 L693.2,544.1 L693.6,543.8 L694.1,543.0 L694.5,543.4 L695.0,542.6 L695.4,542.1 L695.9,541.9 L696.3,541.4 L696.8,540.2 L697.2,540.6 L697.7,539.0 L698.1,538.6 L698.6,539.0 L699.0,538.4 L699.5,537.9 L699.9,539.0 L700.4,539.2 L700.8,539.3 L701.3,539.8 L701.7,540.4 L702.2,541.1 L702.6,541.3 L703.1,541.5 L703.5,542.2 L704.0,542.5 L704.4,542.4 L704.9,543.2 L705.3,543.4 L705.8,544.1 L706.2,544.9 L706.7,544.8 L707.1,545.8 L707.6,544.9 L708.0,544.9 L708.5,544.4 L708.9,545.0 L709.4,544.8 L709.8,544.2 L710.3,544.5 L710.7,545.0 L711.2,544.7 L711.6,545.2 L712.1,545.1 L712.5,545.8 L713.0,544.4 L713.4,544.8 L713.9,544.4 L714.3,544.7 L714.8,545.8 L715.2,545.5 L715.7,545.4 L716.1,545.2 L716.6,545.1 L717.0,545.9 L717.5,544.8 L717.9,545.6 L718.4,545.5 L718.8,544.7 L719.3,545.1 L719.7,544.8 L720.2,545.1 L720.6,545.5 L721.1,545.3 L721.5,545.6 L722.0,545.4 L722.4,544.2 L722.9,545.1 L723.3,544.3 L723.8,543.7 L724.2,544.8 L724.7,544.8 L725.1,546.0 L725.6,545.6 L726.0,545.6 L726.5,545.1 L726.9,545.5 L727.4,544.8 L727.8,545.4 L728.3,544.8 L728.7,544.9 L729.2,545.1 L729.6,544.7 L730.1,546.0 L730.5,544.8 L731.0,544.5 L731.4,543.9 L731.9,543.6 L732.3,543.2 L732.8,542.8 L733.2,541.3 L733.7,540.7 L734.1,540.8 L734.6,539.9 L734.7,539.8 L735.0,539.7 L735.5,540.4 L735.9,541.5 L736.4,542.9 L736.8,543.6 L737.3,543.6 L737.7,543.8 L738.2,544.6 L738.6,544.4 L739.1,545.1 L739.5,545.1 L740.0,544.4 L740.4,543.8 L740.9,544.0 L741.3,544.5 L741.8,544.2 L742.2,544.9 L742.7,544.8 L743.1,544.7 L743.6,544.7 L744.0,544.3 L744.5,544.7 L744.9,543.9 L745.4,544.7 L745.8,545.3 L746.3,544.9 L746.7,544.2 L747.2,543.8 L747.6,543.8 L748.1,543.3 L748.5,543.7 L749.0,542.4 L749.4,542.3 L749.9,541.3 L750.3,541.7 L750.8,540.5 L751.2,541.0 L751.7,540.5 L752.1,539.6 L752.6,540.0 L753.0,539.5 L753.5,539.4 L753.9,539.1 L754.4,539.1 L754.8,539.5 L755.3,539.8 L755.7,541.0 L756.2,541.1 L756.6,542.8 L757.1,542.5 L757.5,543.3 L758.0,542.8 L758.4,544.0 L758.9,543.5 L759.3,544.4 L759.8,544.2 L760.2,544.5 L760.7,543.9 L761.1,544.1 L761.6,544.9 L762.0,544.8 L762.5,544.6 L762.9,545.0 L763.4,544.9 L763.8,544.6 L764.3,545.6 L764.7,544.0 L765.2,544.8 L765.6,545.3 L766.1,545.3 L766.5,545.9 L767.0,545.3 L767.4,545.3 L767.9,544.8 L768.3,545.6 L768.8,544.7 L769.2,544.9 L769.7,544.8 L770.1,545.2 L770.6,544.7 L771.0,544.8 L771.5,544.5 L771.9,544.2 L772.4,544.5 L772.8,545.6 L773.3,544.8 L773.7,544.9 L774.2,545.5 L774.6,544.0 L775.1,544.0 L775.5,543.5 L776.0,541.9 L776.4,541.9 L776.9,540.7 L777.3,539.4 L777.6,539.8 L777.8,539.4 L778.2,541.5 L778.7,542.1 L779.1,542.3 L779.6,542.7 L780.0,543.6 L780.5,543.5 L780.9,544.2 L781.4,544.1 L781.8,544.6 L782.3,545.0 L782.7,545.0 L783.2,545.3 L783.6,544.8 L784.1,545.3 L784.5,545.1 L785.0,545.2 L785.4,545.5 L785.9,545.0 L786.3,544.4 L786.8,544.6 L787.2,543.5 L787.7,543.2 L788.1,542.4 L788.5,541.4 L788.6,541.7 L789.0,542.4 L789.5,543.7 L789.9,544.7 L790.4,544.9 L790.8,545.9 L791.3,545.4 L791.7,544.5 L792.2,545.2 L792.6,544.5 L793.1,544.7 L793.5,544.9 L794.0,545.0 L794.4,545.3 L794.9,545.5 L795.3,545.6 L795.8,545.0 L796.2,545.2 L796.7,545.6 L797.1,544.8 L797.6,545.6 L798.0,545.5 L798.5,545.2 L798.9,545.7 L799.4,545.5 L799.8,545.6 L800.3,545.8 L800.7,545.1 L801.2,544.7 L801.6,544.9 L802.1,544.6 L802.5,545.5 L803.0,544.9 L803.4,545.0 L803.9,544.9 L804.3,545.6 L804.8,545.3 L805.2,545.5 L805.7,545.2 L806.1,544.9 L806.6,544.8 L807.0,545.6 L807.5,545.0 L807.9,545.4 L808.4,544.6 L808.8,544.9 L809.3,544.8 L809.7,544.8 L810.2,545.3 L810.6,545.6 L811.1,545.2 L811.5,546.0 L812.0,545.2 L812.4,544.5 L812.9,545.2 L813.3,544.5 L813.8,545.0 L814.2,545.2 L814.7,545.6 L815.1,545.5 L815.6,545.0 L816.0,545.7 L816.5,545.4 L816.9,545.8 L817.4,545.7 L817.8,545.3 L818.3,544.9 L818.7,545.4 L819.2,545.1 L819.6,545.1 L820.1,545.1 L820.5,544.7 L821.0,544.6 L821.4,544.8 L821.9,545.1 L822.3,545.0 L822.8,545.4 L823.2,545.4 L823.7,545.2 L824.1,544.5 L824.6,544.3 L825.0,544.4 L825.5,544.4 L825.9,545.1 L826.4,545.1 L826.8,544.2 L827.3,544.5 L827.7,544.4 L828.2,544.1 L828.6,544.1 L829.1,543.8 L829.5,543.8 L830.0,543.7 L830.4,543.7 L830.9,543.0 L831.3,543.3 L831.8,542.5 L832.2,542.5 L832.7,542.3 L833.1,542.0 L833.6,542.4 L834.0,542.1 L834.5,542.2 L834.9,543.3 L835.4,542.7 L835.8,542.9 L836.3,542.4 L836.7,543.4 L837.2,544.3 L837.6,544.0 L838.1,544.2 L838.5,544.8 L839.0,545.0 L839.4,545.2 L839.9,545.1 L840.3,544.8 L840.8,544.6 L841.2,545.2 L841.7,545.2 L842.1,545.2 L842.6,544.8 L843.0,544.9 L843.5,545.7 L843.9,545.0 L844.4,545.3 L844.8,545.0 L845.3,544.4 L845.7,545.3 L846.2,544.7 L846.6,545.7 L847.1,544.9 L847.5,544.9 L848.0,545.0 L848.4,545.0 L848.9,545.0 L849.3,545.0 L849.8,545.6 L850.2,545.3 L850.7,545.5 L851.1,545.2 L851.6,545.5 L852.0,544.9 L852.5,545.7 L852.9,544.6 L853.4,544.3 L853.8,544.4 L854.3,544.6 L854.7,544.9 L855.2,545.8 L855.6,544.7 L856.1,545.5 L856.5,544.8 L857.0,545.8 L857.4,545.5 L857.9,546.0 L858.3,545.2 L858.8,545.6 L859.2,545.5 L859.7,545.0 L860.1,545.1 L860.6,544.8 L861.0,544.7 L861.5,544.8 L861.9,544.6 L862.4,545.4 L862.8,545.0 L863.3,544.8 L863.7,545.1 L864.2,545.3 L864.6,545.1 L865.1,545.6 L865.5,545.2 L866.0,545.3 L866.4,546.0 L866.9,545.0 L867.3,545.2 L867.8,545.2 L868.2,544.7 L868.7,545.0 L869.1,545.4 L869.6,545.8 L870.0,545.0 L870.5,545.4 L870.9,544.9 L871.4,544.9 L871.8,544.5 L872.3,545.2 L872.7,544.3 L873.2,545.4 L873.6,545.2 L874.1,545.3 L874.5,545.0 L875.0,544.5 L875.4,544.5 L875.9,545.1 L876.3,545.3 L876.8,545.3 L877.2,545.0 L877.7,545.6 L878.1,546.1 L878.6,545.1 L879.0,544.9 L879.5,545.0 L879.9,545.8 L880.4,544.9 L880.8,545.0 L881.3,545.1 L881.7,545.0 L882.2,545.4 L882.6,544.9 L883.1,544.7 L883.5,545.3 L884.0,545.3 L884.4,546.2 L884.9,545.9 L885.3,546.1 L885.8,545.4 L886.2,545.5 L886.7,545.3 L887.1,545.2 L887.6,544.6 L888.0,545.4 L888.5,545.4 L888.9,546.0 L889.4,545.7 L889.8,545.1 L890.3,545.4 L890.7,544.8 L891.2,545.6 L891.6,544.9 L892.1,544.6 L892.5,544.3 L893.0,545.3 L893.4,545.4 L893.9,544.9 L894.3,546.2 L894.8,545.1 L895.2,545.9 L895.7,544.9 L896.1,545.4 L896.6,545.1 L897.0,546.1 L897.5,545.7 L897.9,545.5 L898.4,545.4 L898.8,545.2 L899.3,545.3 L899.7,544.7 L900.2,545.4 L900.6,545.6 L901.1,544.8 L901.5,544.6 L902.0,544.5 L902.4,544.7 L902.9,545.4 L903.3,545.4 L903.8,544.7 L904.2,545.8 L904.7,545.0 L905.1,545.4 L905.6,545.0 L906.0,544.7 L906.5,545.2 L906.9,545.0 L907.4,545.2 L907.8,545.2 L908.3,544.7 L908.7,545.3 L909.2,545.0 L909.6,545.5 L910.1,545.6 L910.5,545.6 L911.0,545.7 L911.4,545.9 L911.9,545.1 L912.3,545.0 L912.8,544.7 L913.2,545.5 L913.7,544.9 L914.1,545.5 L914.6,545.8 L915.0,544.9 L915.5,545.8 L915.9,544.8 L916.4,545.4 L916.8,545.1 L917.3,544.6 L917.7,545.1 L918.2,545.7 L918.6,545.1 L919.1,544.8 L919.5,545.5 L920.0,545.5 L920.4,544.7 L920.9,545.1 L921.3,544.5 L921.8,544.6 L922.2,545.4 L922.7,545.6 L923.1,545.9 L923.6,545.6 L924.0,545.2 L924.5,545.6 L924.9,544.8 L925.4,545.0 L925.8,545.1 L926.3,544.9 L926.7,545.1 L927.2,544.9 L927.6,545.6 L928.1,545.9 L928.5,545.9 L929.0,546.2 L929.4,545.7 L929.9,545.6 L930.3,544.6 L930.8,545.2 L931.2,544.6 L931.7,545.6 L932.1,545.2 L932.6,545.1 L933.0,545.0 L933.5,544.8 L933.9,545.1 L934.4,544.9 L934.8,545.2 L935.3,544.7 L935.7,544.9 L936.2,545.6 L936.6,544.3 L937.1,544.9 L937.5,544.5 L938.0,545.2 L938.4,545.4 L938.9,545.0 L939.3,544.9 L939.8,545.0 L940.2,545.4 L940.7,544.9 L941.1,545.0 L941.6,545.4 L942.0,544.7 L942.5,544.7 L942.9,545.4 L943.4,545.8 L943.8,545.6 L944.3,546.2 L944.7,544.9 L945.2,544.9 L945.6,545.1 L946.1,544.2 L946.5,545.0 L947.0,545.9 L947.4,545.8 L947.9,545.0 L948.3,546.2 L948.8,545.8 L949.2,545.5 L949.7,545.1 L950.1,545.5 L950.6,545.7 L951.0,545.3 L951.5,544.9 L951.9,545.3 L952.4,545.2 L952.8,544.4 L953.3,544.5 L953.7,544.5 L954.2,545.3 L954.6,544.6 L955.1,545.0 L955.5,545.1 L956.0,544.6 L956.4,544.6 L956.9,544.6 L957.3,544.9 L957.8,544.8 L958.2,545.9 L958.7,545.4 L959.1,545.6 L959.6,544.6 L960.0,544.6 L960.5,544.5 L960.9,544.7 L961.4,545.4 L961.8,545.7 L962.3,545.6 L962.7,545.5 L963.2,544.3 L963.6,544.9 L964.1,545.2 L964.5,545.4 L965.0,545.1 L965.4,545.3 L965.9,545.1 L966.3,545.0 L966.8,545.2 L967.2,544.8 L967.7,544.9 L968.1,545.2 L968.6,545.3 L969.0,545.2 L969.5,545.5 L969.9,545.0 L970.4,545.2 L970.8,545.5 L971.3,544.9 L971.7,545.0 L972.2,545.6 L972.6,545.0 L973.1,545.4 L973.5,544.7 L974.0,544.7 L974.4,544.5 L974.9,544.5 L975.3,545.4 L975.8,545.1 L976.2,544.9 L976.7,545.5 L977.1,545.2 L977.6,545.4 L978.0,545.2 L978.5,545.3 L978.9,544.5 L979.4,544.4 L979.8,544.8 L980.3,545.0 L980.7,545.1 L981.2,544.9 L981.6,545.3 L982.1,545.2 L982.5,545.2 L983.0,545.1 L983.4,545.5 L983.9,544.9 L984.3,544.6 L984.8,544.6 L985.2,545.4 L985.7,545.0 L986.1,545.3 L986.6,545.2 L987.0,545.1 L987.5,544.8 L987.9,545.0 L988.4,545.3 L988.8,544.7 L989.3,545.0 L989.7,545.0 L990.2,544.6 L990.6,544.9 L991.1,545.1 L991.5,545.1 L992.0,544.8 L992.4,545.6 L992.9,544.9 L993.3,545.5 L993.8,545.4 L994.2,545.4 L994.7,545.9 L995.1,546.3 L995.6,545.7 L996.0,545.5 L996.5,545.2 L996.9,545.2 L997.4,544.5 L997.8,545.2 L998.3,544.6 L998.7,544.1 L999.2,544.9 L999.6,544.8 L1000.1,544.5 L1000.5,545.4 L1001.0,545.2 L1001.4,545.6 L1001.9,545.0 L1002.3,545.1 L1002.8,545.2 L1003.2,545.6 L1003.7,545.3 L1004.1,545.8 L1004.6,545.0 L1005.0,545.0 L1005.5,544.7 L1005.9,544.6 L1006.4,544.4 L1006.8,544.4 L1007.3,544.9 L1007.7,545.3 L1008.2,545.7 L1008.6,545.1 L1009.1,544.5 L1009.5,545.3 L1010.0,544.7 L1010.4,545.4 L1010.9,545.1 L1011.3,544.9 L1011.8,544.9 L1012.2,544.8 L1012.7,545.3 L1013.1,544.7 L1013.6,544.9 L1014.0,544.8 L1014.5,544.9 L1014.9,545.4 L1015.4,545.6 L1015.8,545.1 L1016.3,545.3 L1016.7,545.5 L1017.2,545.5 L1017.6,545.0 L1018.1,545.4 L1018.5,545.1 L1019.0,544.5 L1019.4,544.8 L1019.9,544.7 L1020.3,545.3 L1020.8,545.4 L1021.2,545.5 L1021.7,545.0 L1022.1,544.9 L1022.6,544.9 L1023.0,545.0 L1023.5,544.8 L1023.9,545.1 L1024.4,545.4 L1024.8,544.5 L1025.3,545.4 L1025.7,545.5 L1026.2,544.9 L1026.6,546.9 L1027.1,545.5 L1027.5,545.4 L1028.0,544.5 L1028.4,545.1 L1028.9,545.0 L1029.3,545.2 L1029.8,544.8 L1030.2,544.6 L1030.7,544.5 L1031.1,545.0 L1031.6,544.8 L1032.0,545.1 L1032.5,545.6 L1032.9,544.5 L1033.4,545.1 L1033.8,546.0 L1034.3,545.4 L1034.7,546.0 L1035.2,545.4 L1035.6,545.9 L1036.1,545.6 L1036.5,545.7 L1037.0,544.7 L1037.4,545.6 L1037.9,545.1 L1038.3,544.9 L1038.8,545.3 L1039.2,544.8 L1039.7,544.6 L1040.1,545.0 L1040.6,545.5 L1041.0,545.1 L1041.5,545.4 L1041.9,545.7 L1042.4,545.1 L1042.8,545.0 L1043.3,544.7 L1043.7,544.6 L1044.2,544.8 L1044.6,544.1 L1045.1,545.1 L1045.5,545.7 L1046.0,545.2 L1046.4,545.2 L1046.9,544.8 L1047.3,545.4 L1047.8,545.0 L1048.2,545.9 L1048.7,545.4 L1049.1,545.4 L1049.6,545.1 L1050.0,544.8 L1050.5,544.0 L1050.9,544.6 L1051.4,545.1 L1051.8,544.3 L1052.3,545.2 L1052.7,545.2 L1053.2,545.4 L1053.6,545.2 L1054.1,545.2 L1054.5,544.9 L1055.0,545.4 L1055.4,544.4 L1055.9,544.4 L1056.3,544.5 L1056.8,544.6 L1057.2,545.3 L1057.7,544.9 L1058.1,545.3 L1058.6,544.4 L1059.0,544.8 L1059.5,544.6 L1059.9,545.0 L1060.4,545.0 L1060.8,545.2 L1061.3,544.8 L1061.7,545.6 L1062.2,545.0 L1062.6,545.6 L1063.1,545.8 L1063.5,545.7 L1064.0,544.7 L1064.4,545.8 L1064.9,545.0 L1065.3,545.4 L1065.8,545.1 L1066.2,545.1 L1066.7,545.1 L1067.1,545.2 L1067.6,545.3 L1068.0,544.6 L1068.5,544.2 L1068.9,544.6 L1069.4,544.3 L1069.8,544.6 L1070.3,545.4 L1070.7,545.2 L1071.2,544.7 L1071.6,544.7 L1072.1,544.7 L1072.5,544.7 L1073.0,544.9 L1073.4,545.0 L1073.9,545.3 L1074.3,544.9 L1074.8,544.2 L1075.2,544.9 L1075.7,544.8 L1076.1,544.7 L1076.6,545.1 L1077.0,544.1 L1077.5,544.5 L1077.9,544.5 L1078.4,545.5 L1078.8,544.6 L1079.3,544.9 L1079.7,545.0 L1080.2,544.9 L1080.6,544.0 L1081.1,544.9 L1081.5,544.7 L1082.0,545.2 L1082.4,545.3 L1082.9,545.0 L1083.3,544.6 L1083.8,543.9 L1084.2,544.9 L1084.7,545.0 L1085.1,545.0 L1085.6,544.2 L1086.0,544.5 L1086.5,544.1 L1086.9,544.9 L1087.4,544.5 L1087.8,544.9 L1088.3,544.5 L1088.7,544.3 L1089.2,544.3 L1089.6,545.1 L1090.1,545.1 L1090.5,544.7 L1091.0,544.3 L1091.4,544.5" fill="none" stroke="#0404f0" stroke-width="2.45" stroke-linejoin="round"/>
<path d="M191.0,695.9 L191.4,695.6 L191.9,696.6 L192.3,695.7 L192.8,695.8 L193.2,696.2 L193.7,695.3 L194.1,695.4 L194.6,695.5 L195.0,695.4 L195.5,695.0 L195.9,695.4 L196.4,695.3 L196.8,695.7 L197.3,694.9 L197.7,695.4 L198.2,696.0 L198.6,696.3 L199.1,695.1 L199.5,695.8 L200.0,695.0 L200.4,695.1 L200.9,695.1 L201.3,695.4 L201.8,696.0 L202.2,695.9 L202.7,695.7 L203.1,695.4 L203.6,695.6 L204.0,695.5 L204.5,695.9 L204.9,695.3 L205.4,695.6 L205.8,695.5 L206.3,695.6 L206.7,695.7 L207.2,695.7 L207.6,696.2 L208.1,695.7 L208.5,696.2 L209.0,695.5 L209.4,695.4 L209.9,695.6 L210.3,695.8 L210.8,695.8 L211.2,696.2 L211.7,696.1 L212.1,695.9 L212.6,695.6 L213.0,695.6 L213.5,696.1 L213.9,695.6 L214.4,695.0 L214.8,695.2 L215.3,695.3 L215.7,696.1 L216.2,695.7 L216.6,696.6 L217.1,695.9 L217.5,695.8 L218.0,695.4 L218.4,695.9 L218.9,695.5 L219.3,695.3 L219.8,695.8 L220.2,695.6 L220.7,695.9 L221.1,695.5 L221.6,694.3 L222.0,695.7 L222.5,694.8 L222.9,696.2 L223.4,696.2 L223.8,695.4 L224.3,695.1 L224.7,694.9 L225.2,695.7 L225.6,695.4 L226.1,695.4 L226.5,695.5 L227.0,696.4 L227.4,695.8 L227.9,696.1 L228.3,696.0 L228.8,696.1 L229.2,696.0 L229.7,695.3 L230.1,695.4 L230.6,695.2 L231.0,695.2 L231.5,695.9 L231.9,695.3 L232.4,695.5 L232.8,695.2 L233.3,695.2 L233.7,695.7 L234.2,695.3 L234.6,695.4 L235.1,695.7 L235.5,695.8 L236.0,695.8 L236.4,695.6 L236.9,694.9 L237.3,695.8 L237.8,695.7 L238.2,696.1 L238.7,695.3 L239.1,696.6 L239.6,695.1 L240.0,695.9 L240.5,695.5 L240.9,695.4 L241.4,695.7 L241.8,695.2 L242.3,694.5 L242.7,695.0 L243.2,695.6 L243.6,696.3 L244.1,695.1 L244.5,695.6 L245.0,696.1 L245.4,695.7 L245.9,695.3 L246.3,694.8 L246.8,694.6 L247.2,694.9 L247.7,695.0 L248.1,694.4 L248.6,694.6 L249.0,695.4 L249.5,695.2 L249.9,695.1 L250.4,695.3 L250.8,695.2 L251.3,696.0 L251.7,696.3 L252.2,696.6 L252.6,696.1 L253.1,696.1 L253.5,696.3 L254.0,696.5 L254.4,696.3 L254.9,696.0 L255.3,695.3 L255.8,694.9 L256.2,695.7 L256.7,695.4 L257.1,695.4 L257.6,695.1 L258.0,695.0 L258.5,695.9 L258.9,695.6 L259.4,695.1 L259.8,695.6 L260.3,695.7 L260.7,695.8 L261.2,696.4 L261.6,695.5 L262.1,695.0 L262.5,695.4 L263.0,695.2 L263.4,695.7 L263.9,695.5 L264.3,695.6 L264.8,695.2 L265.2,695.6 L265.7,695.2 L266.1,695.6 L266.6,695.3 L267.0,695.0 L267.5,695.6 L267.9,695.2 L268.4,696.1 L268.8,695.7 L269.3,695.7 L269.7,695.4 L270.2,695.4 L270.6,694.5 L271.1,695.9 L271.5,695.1 L272.0,695.8 L272.4,695.2 L272.9,695.3 L273.3,695.2 L273.8,695.0 L274.2,695.3 L274.7,695.5 L275.1,695.2 L275.6,694.9 L276.0,695.2 L276.5,695.5 L276.9,696.0 L277.4,695.8 L277.8,695.6 L278.3,695.1 L278.7,695.8 L279.2,695.5 L279.6,695.4 L280.1,695.9 L280.5,695.7 L281.0,695.6 L281.4,694.9 L281.9,695.1 L282.3,694.6 L282.8,695.4 L283.2,695.4 L283.7,695.8 L284.1,695.6 L284.6,695.4 L285.0,696.2 L285.5,695.0 L285.9,694.9 L286.4,695.0 L286.8,695.5 L287.3,695.2 L287.7,695.2 L288.2,694.9 L288.6,695.9 L289.1,695.1 L289.5,694.9 L290.0,695.2 L290.4,695.1 L290.9,695.3 L291.3,695.9 L291.8,695.2 L292.2,695.4 L292.7,695.2 L293.1,695.4 L293.6,695.7 L294.0,695.6 L294.5,695.3 L294.9,695.0 L295.4,695.3 L295.8,695.7 L296.3,695.3 L296.7,695.3 L297.2,694.6 L297.6,695.6 L298.1,694.6 L298.5,694.8 L299.0,695.1 L299.4,695.3 L299.9,695.3 L300.3,695.0 L300.8,695.1 L301.2,694.9 L301.7,694.5 L302.1,695.1 L302.6,695.0 L303.0,695.5 L303.5,695.4 L303.9,695.8 L304.4,695.8 L304.8,695.9 L305.3,696.0 L305.7,695.8 L306.2,695.4 L306.6,695.9 L307.1,695.0 L307.5,695.4 L308.0,695.7 L308.4,695.2 L308.9,695.6 L309.3,695.0 L309.8,695.1 L310.2,695.6 L310.7,695.7 L311.1,695.9 L311.6,695.4 L312.0,695.5 L312.5,695.5 L312.9,695.4 L313.4,694.8 L313.8,695.0 L314.3,695.7 L314.7,694.8 L315.2,695.6 L315.6,695.0 L316.1,695.6 L316.5,694.8 L317.0,695.1 L317.4,694.4 L317.9,695.1 L318.3,695.5 L318.8,694.6 L319.2,695.6 L319.7,694.7 L320.1,695.1 L320.6,693.9 L321.0,695.4 L321.5,694.6 L321.9,694.8 L322.4,694.5 L322.8,694.6 L323.3,695.4 L323.7,694.8 L324.2,695.4 L324.6,694.9 L325.1,695.1 L325.5,694.8 L326.0,695.2 L326.4,695.9 L326.9,695.1 L327.3,695.0 L327.8,694.5 L328.2,694.9 L328.7,694.8 L329.1,693.6 L329.6,693.5 L330.0,694.5 L330.5,693.7 L330.9,693.3 L331.4,692.7 L331.8,691.9 L332.3,690.4 L332.7,687.8 L333.2,685.4 L333.6,680.5 L334.1,675.7 L334.5,672.4 L334.8,672.0 L335.0,672.3 L335.4,675.2 L335.9,679.8 L336.3,682.6 L336.8,686.8 L337.2,689.7 L337.7,691.3 L338.1,691.9 L338.6,692.4 L339.0,693.5 L339.5,693.3 L339.9,693.4 L340.4,694.4 L340.8,693.6 L341.3,693.9 L341.7,693.3 L342.2,693.1 L342.6,692.3 L343.1,691.8 L343.5,692.1 L344.0,690.7 L344.4,691.0 L344.5,690.4 L344.9,690.8 L345.3,691.3 L345.8,691.2 L346.2,692.7 L346.7,692.5 L347.1,693.4 L347.6,692.8 L348.0,693.5 L348.5,693.8 L348.9,692.7 L349.4,692.0 L349.8,691.7 L350.3,691.0 L350.7,690.3 L351.2,690.0 L351.5,689.6 L351.6,690.0 L352.1,689.9 L352.5,690.1 L353.0,691.3 L353.4,691.4 L353.9,692.8 L354.3,691.9 L354.8,691.9 L355.2,691.8 L355.7,692.1 L356.1,691.7 L356.6,691.3 L357.0,692.1 L357.5,690.8 L357.9,691.4 L358.4,690.5 L358.8,689.7 L359.3,690.5 L359.5,689.8 L359.7,689.7 L360.2,690.4 L360.6,691.4 L361.1,691.9 L361.5,692.5 L362.0,693.4 L362.4,693.2 L362.9,693.4 L363.3,693.4 L363.8,693.2 L364.2,693.7 L364.7,694.6 L365.1,693.5 L365.6,694.7 L366.0,694.3 L366.5,694.1 L366.9,694.4 L367.4,695.1 L367.8,694.4 L368.3,694.9 L368.7,695.0 L369.2,694.3 L369.6,694.9 L370.1,694.8 L370.5,694.5 L371.0,694.9 L371.4,694.4 L371.9,694.4 L372.3,694.1 L372.8,694.7 L373.2,694.4 L373.7,694.3 L374.1,694.0 L374.6,694.0 L375.0,694.2 L375.5,694.9 L375.9,694.4 L376.4,695.3 L376.8,694.8 L377.3,694.8 L377.7,694.1 L378.2,695.3 L378.6,694.1 L379.1,694.8 L379.5,695.1 L380.0,694.4 L380.4,694.2 L380.9,694.4 L381.3,694.7 L381.8,694.8 L382.2,694.4 L382.7,693.6 L383.1,693.5 L383.6,693.6 L384.0,692.8 L384.5,692.2 L384.9,691.3 L385.4,687.3 L385.8,685.5 L386.1,684.0 L386.3,684.5 L386.7,686.8 L387.2,689.0 L387.6,691.3 L388.1,692.6 L388.5,692.6 L389.0,692.6 L389.4,691.7 L389.9,691.7 L390.3,691.4 L390.8,691.1 L391.2,690.8 L391.7,689.1 L392.1,688.9 L392.6,686.5 L393.0,684.4 L393.5,680.9 L393.9,677.0 L394.4,671.0 L394.8,663.0 L395.3,654.0 L395.7,644.7 L396.2,638.1 L396.4,637.7 L396.6,637.7 L397.1,644.2 L397.5,652.0 L398.0,660.0 L398.4,665.2 L398.9,670.0 L399.3,672.1 L399.8,673.7 L400.2,673.1 L400.7,673.8 L401.1,672.6 L401.6,673.4 L402.0,673.5 L402.5,673.9 L402.9,676.3 L403.4,676.8 L403.8,679.2 L404.3,681.3 L404.7,683.5 L405.2,685.3 L405.6,687.2 L406.1,688.4 L406.5,689.4 L407.0,690.1 L407.4,691.0 L407.9,692.1 L408.3,691.7 L408.8,692.6 L409.2,691.9 L409.7,692.8 L410.1,692.5 L410.6,693.8 L411.0,692.8 L411.5,693.5 L411.9,693.8 L412.4,693.9 L412.8,693.8 L413.3,693.6 L413.7,692.9 L414.2,692.4 L414.6,691.2 L415.1,690.4 L415.5,689.2 L416.0,689.7 L416.0,690.0 L416.4,689.6 L416.9,690.2 L417.3,691.5 L417.8,692.6 L418.2,693.4 L418.7,692.9 L419.1,693.9 L419.6,693.6 L420.0,694.2 L420.5,693.3 L420.9,694.6 L421.4,694.1 L421.8,694.4 L422.3,694.2 L422.7,693.9 L423.2,694.5 L423.6,694.1 L424.1,694.1 L424.5,694.5 L425.0,694.3 L425.4,694.0 L425.9,694.5 L426.3,694.0 L426.8,694.2 L427.2,694.4 L427.7,694.5 L428.1,694.5 L428.6,694.4 L429.0,693.6 L429.5,693.0 L429.9,693.5 L430.4,692.8 L430.8,691.4 L431.3,690.4 L431.7,688.4 L432.2,685.8 L432.6,684.2 L433.1,681.1 L433.5,678.6 L434.0,677.7 L434.1,677.5 L434.4,677.2 L434.9,679.1 L435.3,681.6 L435.8,685.2 L436.2,687.5 L436.7,689.7 L437.1,690.9 L437.6,691.5 L438.0,692.3 L438.5,692.4 L438.9,693.8 L439.4,693.4 L439.8,694.1 L440.3,693.7 L440.7,694.1 L441.2,694.3 L441.6,694.2 L442.1,694.1 L442.5,695.3 L443.0,694.4 L443.4,694.8 L443.9,694.5 L444.3,694.3 L444.8,695.1 L445.2,694.7 L445.7,694.7 L446.1,693.8 L446.6,694.7 L447.0,694.9 L447.5,694.9 L447.9,694.7 L448.4,695.2 L448.8,694.9 L449.3,695.1 L449.7,695.2 L450.2,695.2 L450.6,694.2 L451.1,694.7 L451.5,694.2 L452.0,693.7 L452.4,694.6 L452.9,693.7 L453.3,694.2 L453.8,693.4 L454.2,694.0 L454.7,694.2 L455.1,694.5 L455.6,694.3 L456.0,694.2 L456.5,694.1 L456.9,695.0 L457.4,694.4 L457.8,694.4 L458.3,694.9 L458.7,693.4 L459.2,693.1 L459.6,693.2 L460.1,693.3 L460.5,692.9 L461.0,693.0 L461.4,692.6 L461.9,691.6 L462.3,691.8 L462.8,690.6 L463.2,691.0 L463.7,690.1 L464.1,690.3 L464.6,689.1 L465.0,688.1 L465.5,687.6 L465.9,687.1 L466.4,686.7 L466.8,686.5 L467.3,687.7 L467.7,688.3 L468.2,688.2 L468.6,688.9 L469.1,689.4 L469.5,690.6 L470.0,691.3 L470.4,691.1 L470.9,691.8 L471.3,692.2 L471.8,693.0 L472.2,693.5 L472.7,693.8 L473.1,693.5 L473.6,693.4 L474.0,693.9 L474.5,693.9 L474.9,693.5 L475.4,693.5 L475.8,693.0 L476.3,692.6 L476.7,691.5 L477.2,690.7 L477.6,689.8 L478.1,688.9 L478.3,689.5 L478.5,689.3 L479.0,690.2 L479.4,690.2 L479.9,691.2 L480.3,692.3 L480.8,692.2 L481.2,693.3 L481.7,693.4 L482.1,693.6 L482.6,693.7 L483.0,693.1 L483.5,694.0 L483.9,694.0 L484.4,694.5 L484.8,694.6 L485.3,694.0 L485.7,694.0 L486.2,692.6 L486.6,693.5 L487.1,693.3 L487.5,692.8 L488.0,691.8 L488.4,690.4 L488.9,688.9 L489.3,687.1 L489.8,684.9 L490.2,682.1 L490.7,679.5 L491.1,677.5 L491.3,678.4 L491.6,677.9 L492.0,679.2 L492.5,683.4 L492.9,686.0 L493.4,688.1 L493.8,690.1 L494.3,691.2 L494.7,691.6 L495.2,692.5 L495.6,692.4 L496.1,693.0 L496.5,693.2 L497.0,693.8 L497.4,694.4 L497.9,693.8 L498.3,694.2 L498.8,693.3 L499.2,693.9 L499.7,694.5 L500.1,694.9 L500.6,694.9 L501.0,695.0 L501.5,693.8 L501.9,694.2 L502.4,693.4 L502.8,694.4 L503.3,694.5 L503.7,694.5 L504.2,694.3 L504.6,694.8 L505.1,694.9 L505.5,694.8 L506.0,694.5 L506.4,694.7 L506.9,694.8 L507.3,694.9 L507.8,695.0 L508.2,694.7 L508.7,694.2 L509.1,694.6 L509.6,694.8 L510.0,694.5 L510.5,694.8 L510.9,694.4 L511.4,695.1 L511.8,694.6 L512.3,694.4 L512.7,694.4 L513.2,694.3 L513.6,693.9 L514.0,694.2 L514.1,694.0 L514.5,693.9 L515.0,693.9 L515.4,693.7 L515.9,694.3 L516.3,694.5 L516.8,694.3 L517.2,695.2 L517.7,694.7 L518.1,694.4 L518.6,694.6 L519.0,694.7 L519.5,694.8 L519.9,694.4 L520.4,694.7 L520.8,694.2 L521.3,694.6 L521.7,694.9 L522.2,694.6 L522.6,695.1 L523.1,695.1 L523.5,694.6 L524.0,694.0 L524.4,695.1 L524.9,695.3 L525.3,694.3 L525.8,694.9 L526.2,694.8 L526.7,694.2 L527.1,694.7 L527.6,695.3 L528.0,695.1 L528.5,695.0 L528.9,695.3 L529.4,694.7 L529.8,694.2 L530.3,695.3 L530.7,694.6 L531.2,695.0 L531.6,695.3 L532.1,695.0 L532.5,695.0 L533.0,694.8 L533.4,695.2 L533.9,695.7 L534.3,694.7 L534.8,694.4 L535.2,694.8 L535.7,694.4 L536.1,694.8 L536.6,694.7 L537.0,694.8 L537.5,694.6 L537.9,694.4 L538.4,694.5 L538.8,693.4 L539.3,693.3 L539.7,693.0 L540.2,692.1 L540.6,692.0 L540.9,692.3 L541.1,692.3 L541.5,693.2 L542.0,693.2 L542.4,694.6 L542.9,693.7 L543.3,694.0 L543.8,695.2 L544.2,694.2 L544.7,695.4 L545.1,693.5 L545.6,694.5 L546.0,695.3 L546.5,695.5 L546.9,695.1 L547.4,694.7 L547.8,694.8 L548.3,695.2 L548.7,695.1 L549.2,695.3 L549.6,694.7 L550.1,695.5 L550.5,695.6 L551.0,696.4 L551.4,695.4 L551.9,695.3 L552.3,694.4 L552.8,694.2 L553.2,694.0 L553.7,695.0 L554.1,695.6 L554.6,694.9 L555.0,694.0 L555.5,694.8 L555.9,694.8 L556.4,694.9 L556.8,695.8 L557.3,695.6 L557.7,695.7 L558.2,694.7 L558.6,695.1 L559.1,694.4 L559.5,695.4 L560.0,694.5 L560.4,695.5 L560.9,695.0 L561.3,695.1 L561.8,694.3 L562.2,695.0 L562.7,694.0 L563.1,694.4 L563.6,694.5 L564.0,695.7 L564.5,695.0 L564.9,694.9 L565.4,695.2 L565.8,695.9 L566.3,694.9 L566.7,694.5 L567.2,694.5 L567.6,694.9 L568.1,695.6 L568.5,694.9 L569.0,694.8 L569.4,694.5 L569.9,694.4 L570.3,695.3 L570.8,695.0 L571.2,695.1 L571.7,694.4 L572.1,695.2 L572.6,695.1 L573.0,695.6 L573.5,695.5 L573.9,695.0 L574.4,695.1 L574.8,695.0 L575.3,694.9 L575.7,694.7 L576.2,695.3 L576.6,695.9 L577.1,695.1 L577.5,695.7 L578.0,694.8 L578.4,694.8 L578.9,694.9 L579.3,694.9 L579.8,695.2 L580.2,695.3 L580.7,694.0 L581.1,695.3 L581.6,695.0 L582.0,695.7 L582.5,694.7 L582.9,695.1 L583.4,695.5 L583.8,695.4 L584.3,695.6 L584.7,694.7 L585.2,694.6 L585.6,695.0 L586.1,694.4 L586.5,695.1 L587.0,695.2 L587.4,695.0 L587.9,694.3 L588.3,694.6 L588.8,694.7 L589.2,695.0 L589.7,694.9 L590.1,694.5 L590.6,694.0 L591.0,693.9 L591.5,694.2 L591.9,694.2 L592.4,694.4 L592.8,694.3 L593.3,694.7 L593.7,694.5 L594.2,694.9 L594.6,694.8 L595.1,695.0 L595.5,694.3 L596.0,694.4 L596.4,694.3 L596.9,694.8 L597.3,695.1 L597.8,695.3 L598.2,695.0 L598.7,694.8 L599.1,695.0 L599.6,694.7 L600.0,694.3 L600.5,694.8 L600.9,694.3 L601.4,693.8 L601.8,693.9 L602.3,693.0 L602.7,692.4 L603.2,690.8 L603.6,689.9 L603.9,689.6 L604.1,690.0 L604.5,691.3 L605.0,692.5 L605.4,693.4 L605.9,694.4 L606.3,693.9 L606.8,694.7 L607.2,695.1 L607.7,695.0 L608.1,695.2 L608.6,694.4 L609.0,695.2 L609.5,694.5 L609.9,695.2 L610.4,694.8 L610.8,695.1 L611.3,694.3 L611.7,694.4 L612.2,693.7 L612.6,694.4 L613.1,694.2 L613.5,693.7 L614.0,693.6 L614.3,693.3 L614.4,693.1 L614.9,693.6 L615.3,693.6 L615.8,694.6 L616.2,694.6 L616.7,694.8 L617.1,694.6 L617.6,694.4 L618.0,694.3 L618.5,694.5 L618.9,694.9 L619.4,694.2 L619.8,694.9 L620.3,696.1 L620.7,695.0 L621.2,694.9 L621.6,694.9 L622.1,694.7 L622.5,694.7 L623.0,694.8 L623.4,694.4 L623.9,695.2 L624.3,694.9 L624.8,695.3 L625.2,694.9 L625.7,695.3 L626.1,694.9 L626.6,696.1 L627.0,695.3 L627.5,695.3 L627.9,694.6 L628.4,693.9 L628.8,694.3 L629.3,694.5 L629.7,694.4 L630.2,694.0 L630.6,693.8 L631.1,693.5 L631.5,693.7 L632.0,693.9 L632.4,693.7 L632.9,693.4 L633.3,692.6 L633.8,692.3 L634.2,691.7 L634.7,691.2 L635.1,690.5 L635.6,689.9 L636.0,689.0 L636.5,688.5 L636.9,688.4 L637.4,688.0 L637.8,686.5 L638.3,687.5 L638.7,687.5 L639.2,688.1 L639.6,687.4 L640.1,688.0 L640.5,688.7 L641.0,689.3 L641.4,689.1 L641.9,690.0 L642.3,689.9 L642.8,689.6 L643.2,689.4 L643.5,688.5 L643.7,688.9 L644.1,688.2 L644.6,689.7 L645.0,689.7 L645.5,689.5 L645.9,688.6 L646.4,688.4 L646.8,688.0 L647.3,686.5 L647.7,686.3 L648.2,685.8 L648.6,685.0 L648.9,685.1 L649.1,685.9 L649.5,686.2 L650.0,687.1 L650.4,687.5 L650.9,688.0 L651.3,689.3 L651.8,690.0 L652.2,691.1 L652.7,692.1 L653.1,693.2 L653.6,693.2 L654.0,694.2 L654.5,693.2 L654.9,693.7 L655.4,693.8 L655.8,693.1 L656.3,693.4 L656.7,694.0 L657.2,694.3 L657.6,694.5 L658.1,694.4 L658.5,694.3 L659.0,694.0 L659.4,694.5 L659.9,695.1 L660.3,694.8 L660.8,694.4 L661.2,694.7 L661.7,694.8 L662.1,695.1 L662.6,694.5 L663.0,694.9 L663.5,694.8 L663.9,694.5 L664.4,694.6 L664.8,694.5 L665.3,694.6 L665.7,694.7 L666.2,694.2 L666.6,694.6 L667.1,695.2 L667.5,694.7 L668.0,694.0 L668.4,695.2 L668.9,694.6 L669.3,694.8 L669.8,694.9 L670.2,694.5 L670.7,694.3 L671.1,694.3 L671.6,694.7 L672.0,694.8 L672.5,694.7 L672.9,695.7 L673.4,695.1 L673.8,695.3 L674.3,695.7 L674.7,694.9 L675.2,694.7 L675.6,694.7 L676.1,694.9 L676.5,695.5 L677.0,695.2 L677.4,694.8 L677.9,694.7 L678.3,695.1 L678.8,695.5 L679.2,694.7 L679.7,695.5 L680.1,694.9 L680.6,694.7 L681.0,694.5 L681.5,694.4 L681.9,694.4 L682.4,695.0 L682.8,694.0 L683.3,694.3 L683.7,694.3 L684.2,693.9 L684.6,694.1 L685.1,693.8 L685.5,694.5 L686.0,694.5 L686.4,693.7 L686.9,694.6 L687.3,693.5 L687.8,693.1 L688.2,692.7 L688.7,693.0 L689.1,691.1 L689.6,690.7 L690.0,689.3 L690.5,689.0 L690.5,688.5 L690.9,689.7 L691.4,690.5 L691.8,692.3 L692.3,692.5 L692.7,693.5 L693.2,693.5 L693.6,693.8 L694.1,694.6 L694.5,693.8 L695.0,693.8 L695.4,693.6 L695.9,693.7 L696.3,692.6 L696.8,693.5 L697.2,692.7 L697.7,692.4 L698.1,693.1 L698.6,692.6 L699.0,693.1 L699.5,693.1 L699.9,692.4 L700.4,691.5 L700.8,691.2 L701.3,691.0 L701.7,689.1 L702.2,688.2 L702.6,686.4 L703.1,683.8 L703.5,683.3 L704.0,681.8 L704.1,682.5 L704.4,682.6 L704.9,683.3 L705.3,684.1 L705.8,686.1 L706.2,687.5 L706.7,689.2 L707.1,690.0 L707.6,690.8 L708.0,690.9 L708.5,690.7 L708.9,691.2 L709.4,691.6 L709.8,690.6 L710.3,690.3 L710.7,689.5 L711.2,690.7 L711.6,689.4 L712.1,690.0 L712.5,689.4 L713.0,689.3 L713.4,689.5 L713.9,690.4 L714.3,690.6 L714.8,690.5 L715.2,690.5 L715.7,691.5 L716.1,691.5 L716.6,691.6 L717.0,691.9 L717.5,691.6 L717.9,692.3 L718.4,692.0 L718.8,692.2 L719.3,691.9 L719.7,692.3 L720.2,692.5 L720.6,691.9 L721.1,692.7 L721.5,692.8 L722.0,693.2 L722.4,693.2 L722.9,692.5 L723.3,693.1 L723.8,692.8 L724.2,692.6 L724.7,692.4 L725.1,692.9 L725.6,692.9 L726.0,692.5 L726.5,692.7 L726.9,692.3 L727.4,692.2 L727.8,692.2 L728.3,692.8 L728.7,692.7 L729.2,692.8 L729.6,692.7 L730.1,692.6 L730.5,692.9 L731.0,691.9 L731.4,692.8 L731.9,692.0 L732.3,692.4 L732.8,692.5 L733.2,692.4 L733.7,692.6 L734.1,692.1 L734.6,693.0 L735.0,692.7 L735.5,692.3 L735.9,692.1 L736.4,691.4 L736.8,690.7 L737.3,690.4 L737.7,691.2 L737.8,690.2 L738.2,691.8 L738.6,691.4 L739.1,691.1 L739.5,691.4 L740.0,691.2 L740.4,692.0 L740.9,692.2 L741.3,692.7 L741.8,691.9 L742.2,692.8 L742.7,692.4 L743.1,692.4 L743.6,692.5 L744.0,692.7 L744.5,693.3 L744.9,693.1 L745.4,692.8 L745.8,692.2 L746.3,692.3 L746.7,692.7 L747.2,692.6 L747.6,692.3 L748.1,693.2 L748.5,693.4 L749.0,692.8 L749.4,692.3 L749.9,692.2 L750.3,691.8 L750.8,691.8 L751.2,692.4 L751.7,692.3 L752.1,692.8 L752.6,693.5 L753.0,692.6 L753.5,692.3 L753.9,692.2 L754.4,692.2 L754.8,692.4 L755.3,691.8 L755.7,691.8 L756.2,690.9 L756.6,690.9 L756.7,691.1 L757.1,691.7 L757.5,691.1 L758.0,692.1 L758.4,691.3 L758.9,692.0 L759.3,691.9 L759.8,692.6 L760.2,691.7 L760.7,691.8 L761.1,692.0 L761.6,692.4 L762.0,692.4 L762.5,691.7 L762.9,691.9 L763.4,691.7 L763.8,692.9 L764.3,692.3 L764.7,692.5 L765.2,691.3 L765.6,692.3 L766.1,692.0 L766.5,692.6 L767.0,691.6 L767.4,692.8 L767.9,692.4 L768.3,692.6 L768.8,691.9 L769.2,693.0 L769.7,692.4 L770.1,692.4 L770.6,692.2 L771.0,692.1 L771.5,692.3 L771.9,692.3 L772.4,692.7 L772.8,692.4 L773.3,692.0 L773.7,692.3 L774.2,692.5 L774.6,692.0 L775.1,692.2 L775.5,692.6 L776.0,692.4 L776.4,692.1 L776.9,692.5 L777.3,692.6 L777.8,692.6 L778.2,692.3 L778.7,692.9 L779.1,691.7 L779.6,692.2 L780.0,692.2 L780.5,691.7 L780.9,691.7 L781.4,691.7 L781.8,692.1 L782.3,692.1 L782.7,692.4 L783.2,692.7 L783.6,692.0 L784.1,692.1 L784.5,692.2 L785.0,691.2 L785.4,691.9 L785.9,691.2 L786.3,691.7 L786.8,691.7 L787.2,692.5 L787.7,691.9 L788.1,692.0 L788.6,692.4 L789.0,692.1 L789.5,691.7 L789.9,692.6 L790.4,692.5 L790.8,692.1 L791.3,691.5 L791.7,691.9 L792.2,691.8 L792.6,692.8 L793.1,692.1 L793.5,692.7 L794.0,692.8 L794.4,692.6 L794.9,692.6 L795.3,692.8 L795.8,692.7 L796.2,691.7 L796.7,692.6 L797.1,691.4 L797.6,692.0 L798.0,692.5 L798.5,691.7 L798.9,692.9 L799.4,693.2 L799.8,692.5 L800.3,691.8 L800.7,692.9 L801.2,691.9 L801.6,691.8 L802.1,691.8 L802.5,692.1 L803.0,692.1 L803.4,693.1 L803.9,691.9 L804.3,691.7 L804.8,691.7 L805.2,692.1 L805.7,693.0 L806.1,692.0 L806.6,692.4 L807.0,692.7 L807.5,692.4 L807.9,692.4 L808.4,692.3 L808.8,692.7 L809.3,692.2 L809.7,693.1 L810.2,692.0 L810.6,693.0 L811.1,693.0 L811.5,692.8 L812.0,692.6 L812.4,693.1 L812.9,692.2 L813.3,692.5 L813.8,692.2 L814.2,692.7 L814.7,692.3 L815.1,692.4 L815.6,692.9 L816.0,692.8 L816.5,692.8 L816.9,693.3 L817.4,692.0 L817.8,692.6 L818.3,692.7 L818.7,693.3 L819.2,692.4 L819.6,692.7 L820.1,692.9 L820.5,692.4 L821.0,692.6 L821.4,692.8 L821.9,692.7 L822.3,693.1 L822.8,693.3 L823.2,692.8 L823.7,693.2 L824.1,693.1 L824.6,693.0 L825.0,692.7 L825.5,693.6 L825.9,692.6 L826.4,693.0 L826.8,693.1 L827.3,691.8 L827.7,692.5 L828.2,692.1 L828.6,692.8 L829.1,693.2 L829.5,692.8 L830.0,693.1 L830.4,693.3 L830.9,692.7 L831.3,692.9 L831.8,692.6 L832.2,693.3 L832.7,693.1 L833.1,693.7 L833.6,693.7 L834.0,692.7 L834.5,693.3 L834.9,693.2 L835.4,693.3 L835.8,693.4 L836.3,693.2 L836.7,693.7 L837.2,693.5 L837.6,693.5 L838.1,693.0 L838.5,693.7 L839.0,692.8 L839.4,693.7 L839.9,693.5 L840.3,693.2 L840.8,693.6 L841.2,694.3 L841.7,693.5 L842.1,693.2 L842.6,693.5 L843.0,693.7 L843.5,694.2 L843.9,693.5 L844.4,694.0 L844.8,693.6 L845.3,694.0 L845.7,693.7 L846.2,693.2 L846.6,693.8 L847.1,693.8 L847.5,693.3 L848.0,692.6 L848.4,693.0 L848.9,693.4 L849.3,693.8 L849.8,693.4 L850.2,693.9 L850.7,693.3 L851.1,693.0 L851.6,693.7 L852.0,693.3 L852.5,694.1 L852.9,694.0 L853.4,693.5 L853.8,693.4 L854.3,693.7 L854.7,694.1 L855.2,693.8 L855.6,693.7 L856.1,694.1 L856.5,693.9 L857.0,693.3 L857.4,693.3 L857.9,692.7 L858.3,693.4 L858.8,693.4 L859.2,693.8 L859.7,693.4 L860.1,693.5 L860.6,693.5 L861.0,693.4 L861.5,693.6 L861.9,693.5 L862.4,694.2 L862.8,693.8 L863.3,694.0 L863.7,693.8 L864.2,693.2 L864.6,692.9 L865.1,693.2 L865.5,693.4 L866.0,693.7 L866.4,693.3 L866.9,694.1 L867.3,693.7 L867.8,694.0 L868.2,693.4 L868.7,692.7 L869.1,694.1 L869.6,694.1 L870.0,694.9 L870.5,694.2 L870.9,694.1 L871.4,694.5 L871.8,692.7 L872.3,693.2 L872.7,692.9 L873.2,694.0 L873.6,693.7 L874.1,694.1 L874.5,693.3 L875.0,693.6 L875.4,693.8 L875.9,693.9 L876.3,693.9 L876.8,694.4 L877.2,693.7 L877.7,693.8 L878.1,693.7 L878.6,694.1 L879.0,693.5 L879.5,693.5 L879.9,693.5 L880.4,693.2 L880.8,693.7 L881.3,693.6 L881.7,693.1 L882.2,693.8 L882.6,694.1 L883.1,694.8 L883.5,694.2 L884.0,694.8 L884.4,694.3 L884.9,694.7 L885.3,693.6 L885.8,693.6 L886.2,693.9 L886.7,694.0 L887.1,694.1 L887.6,694.3 L888.0,693.7 L888.5,694.3 L888.9,694.0 L889.4,695.0 L889.8,694.3 L890.3,694.2 L890.7,695.0 L891.2,693.8 L891.6,695.0 L892.1,694.4 L892.5,694.2 L893.0,694.2 L893.4,694.3 L893.9,694.5 L894.3,694.1 L894.8,694.6 L895.2,694.8 L895.7,694.5 L896.1,695.1 L896.6,694.2 L897.0,694.6 L897.5,694.9 L897.9,694.9 L898.4,695.2 L898.8,695.0 L899.3,694.2 L899.7,695.2 L900.2,694.4 L900.6,695.1 L901.1,694.5 L901.5,695.0 L902.0,693.6 L902.4,694.9 L902.9,694.6 L903.3,695.4 L903.8,695.4 L904.2,695.3 L904.7,694.6 L905.1,694.6 L905.6,694.2 L906.0,694.6 L906.5,694.7 L906.9,694.9 L907.4,695.2 L907.8,694.4 L908.3,694.7 L908.7,694.8 L909.2,694.5 L909.6,693.9 L910.1,694.2 L910.5,694.2 L911.0,694.1 L911.4,694.6 L911.9,694.4 L912.3,694.5 L912.8,694.6 L913.2,694.6 L913.7,694.9 L914.1,694.9 L914.6,694.8 L915.0,694.8 L915.5,695.0 L915.9,694.6 L916.4,695.1 L916.8,695.3 L917.3,694.8 L917.7,695.3 L918.2,695.0 L918.6,694.9 L919.1,695.4 L919.5,694.2 L920.0,695.0 L920.4,694.2 L920.9,694.6 L921.3,693.8 L921.8,694.9 L922.2,695.1 L922.7,694.3 L923.1,695.2 L923.6,694.3 L924.0,694.5 L924.5,694.1 L924.9,694.7 L925.4,694.4 L925.8,694.4 L926.3,694.5 L926.7,694.1 L927.2,694.8 L927.6,694.4 L928.1,695.1 L928.5,694.6 L929.0,694.9 L929.4,694.8 L929.9,695.1 L930.3,695.2 L930.8,694.6 L931.2,694.1 L931.7,694.5 L932.1,694.3 L932.6,694.8 L933.0,694.4 L933.5,694.7 L933.9,694.6 L934.4,694.6 L934.8,694.2 L935.3,694.8 L935.7,694.2 L936.2,693.8 L936.6,694.0 L937.1,694.2 L937.5,694.3 L938.0,694.6 L938.4,694.3 L938.9,694.6 L939.3,694.8 L939.8,694.3 L940.2,694.4 L940.7,695.1 L941.1,694.8 L941.6,695.0 L942.0,694.6 L942.5,694.6 L942.9,694.5 L943.4,694.2 L943.8,694.9 L944.3,694.0 L944.7,694.3 L945.2,694.1 L945.6,695.3 L946.1,694.3 L946.5,695.2 L947.0,694.3 L947.4,695.6 L947.9,695.8 L948.3,694.8 L948.8,695.3 L949.2,694.2 L949.7,694.5 L950.1,695.1 L950.6,694.7 L951.0,694.5 L951.5,694.6 L951.9,694.4 L952.4,694.3 L952.8,694.8 L953.3,693.8 L953.7,694.4 L954.2,694.6 L954.6,695.0 L955.1,694.6 L955.5,694.5 L956.0,693.8 L956.4,695.7 L956.9,694.3 L957.3,695.0 L957.8,694.1 L958.2,694.9 L958.7,694.0 L959.1,694.3 L959.6,694.6 L960.0,694.2 L960.5,695.0 L960.9,694.8 L961.4,695.2 L961.8,695.0 L962.3,694.5 L962.7,694.2 L963.2,694.4 L963.6,695.0 L964.1,694.0 L964.5,695.1 L965.0,694.1 L965.4,694.9 L965.9,694.7 L966.3,694.3 L966.8,694.1 L967.2,694.5 L967.7,694.8 L968.1,694.2 L968.6,694.8 L969.0,694.6 L969.5,694.1 L969.9,693.8 L970.4,694.5 L970.8,694.3 L971.3,694.1 L971.7,694.4 L972.2,695.6 L972.6,695.0 L973.1,695.0 L973.5,694.5 L974.0,694.7 L974.4,695.1 L974.9,694.3 L975.3,694.4 L975.8,694.5 L976.2,694.4 L976.7,694.9 L977.1,694.4 L977.6,694.8 L978.0,694.8 L978.5,694.8 L978.9,694.7 L979.4,694.0 L979.8,694.0 L980.3,693.9 L980.7,694.7 L981.2,695.0 L981.6,695.0 L982.1,695.5 L982.5,694.8 L983.0,695.3 L983.4,694.9 L983.9,695.1 L984.3,694.5 L984.8,694.6 L985.2,694.2 L985.7,694.2 L986.1,693.8 L986.6,695.2 L987.0,695.0 L987.5,696.1 L987.9,694.9 L988.4,695.1 L988.8,694.4 L989.3,695.3 L989.7,694.7 L990.2,695.7 L990.6,695.8 L991.1,694.1 L991.5,694.4 L992.0,694.0 L992.4,694.3 L992.9,694.2 L993.3,694.9 L993.8,695.4 L994.2,695.0 L994.7,695.6 L995.1,695.2 L995.6,695.4 L996.0,695.6 L996.5,694.6 L996.9,695.5 L997.4,694.5 L997.8,694.5 L998.3,695.0 L998.7,694.4 L999.2,694.4 L999.6,695.0 L1000.1,694.6 L1000.5,694.5 L1001.0,694.4 L1001.4,694.4 L1001.9,694.8 L1002.3,694.8 L1002.8,694.7 L1003.2,695.6 L1003.7,695.1 L1004.1,694.4 L1004.6,694.9 L1005.0,694.5 L1005.5,694.7 L1005.9,695.7 L1006.4,695.5 L1006.8,695.1 L1007.3,695.3 L1007.7,694.4 L1008.2,695.1 L1008.6,695.0 L1009.1,694.5 L1009.5,694.2 L1010.0,695.0 L1010.4,694.9 L1010.9,694.8 L1011.3,694.9 L1011.8,695.0 L1012.2,695.3 L1012.7,695.6 L1013.1,694.8 L1013.6,695.4 L1014.0,694.6 L1014.5,694.6 L1014.9,694.7 L1015.4,695.1 L1015.8,695.0 L1016.3,694.9 L1016.7,694.4 L1017.2,695.2 L1017.6,694.6 L1018.1,694.9 L1018.5,694.5 L1019.0,695.4 L1019.4,694.7 L1019.9,694.4 L1020.3,695.1 L1020.8,694.9 L1021.2,695.2 L1021.7,695.1 L1022.1,694.3 L1022.6,694.8 L1023.0,695.8 L1023.5,695.2 L1023.9,695.3 L1024.4,695.4 L1024.8,695.5 L1025.3,695.1 L1025.7,695.3 L1026.2,695.2 L1026.6,695.1 L1027.1,695.0 L1027.5,695.2 L1028.0,694.9 L1028.4,694.5 L1028.9,694.3 L1029.3,694.8 L1029.8,694.8 L1030.2,695.5 L1030.7,694.9 L1031.1,694.9 L1031.6,694.7 L1032.0,695.0 L1032.5,695.1 L1032.9,695.4 L1033.4,694.8 L1033.8,695.1 L1034.3,695.2 L1034.7,694.2 L1035.2,694.9 L1035.6,694.4 L1036.1,694.6 L1036.5,694.6 L1037.0,694.7 L1037.4,694.5 L1037.9,694.9 L1038.3,695.0 L1038.8,694.7 L1039.2,694.5 L1039.7,694.7 L1040.1,695.5 L1040.6,695.1 L1041.0,694.7 L1041.5,694.4 L1041.9,695.0 L1042.4,695.0 L1042.8,695.8 L1043.3,694.4 L1043.7,695.2 L1044.2,695.2 L1044.6,695.4 L1045.1,694.4 L1045.5,695.1 L1046.0,694.9 L1046.4,695.1 L1046.9,695.1 L1047.3,694.6 L1047.8,695.0 L1048.2,694.4 L1048.7,694.2 L1049.1,694.6 L1049.6,694.9 L1050.0,695.6 L1050.5,694.8 L1050.9,695.5 L1051.4,694.5 L1051.8,694.6 L1052.3,694.2 L1052.7,694.8 L1053.2,694.8 L1053.6,695.2 L1054.1,694.7 L1054.5,694.9 L1055.0,694.4 L1055.4,694.8 L1055.9,695.5 L1056.3,694.5 L1056.8,695.0 L1057.2,695.2 L1057.7,695.2 L1058.1,694.8 L1058.6,694.7 L1059.0,694.3 L1059.5,695.2 L1059.9,694.1 L1060.4,694.6 L1060.8,694.2 L1061.3,694.5 L1061.7,694.2 L1062.2,694.7 L1062.6,695.1 L1063.1,694.6 L1063.5,694.8 L1064.0,694.9 L1064.4,694.7 L1064.9,695.5 L1065.3,694.5 L1065.8,694.7 L1066.2,695.2 L1066.7,695.0 L1067.1,694.8 L1067.6,695.3 L1068.0,694.1 L1068.5,695.0 L1068.9,695.4 L1069.4,694.6 L1069.8,696.2 L1070.3,695.2 L1070.7,695.3 L1071.2,695.3 L1071.6,695.1 L1072.1,695.8 L1072.5,694.5 L1073.0,694.7 L1073.4,695.1 L1073.9,695.2 L1074.3,694.6 L1074.8,695.3 L1075.2,694.4 L1075.7,694.7 L1076.1,694.6 L1076.6,694.9 L1077.0,694.9 L1077.5,695.1 L1077.9,695.2 L1078.4,695.2 L1078.8,694.6 L1079.3,694.8 L1079.7,695.5 L1080.2,695.3 L1080.6,695.1 L1081.1,694.4 L1081.5,693.6 L1082.0,694.9 L1082.4,695.7 L1082.9,694.3 L1083.3,695.0 L1083.8,694.9 L1084.2,694.2 L1084.7,695.4 L1085.1,695.0 L1085.6,694.7 L1086.0,695.2 L1086.5,695.0 L1086.9,695.5 L1087.4,695.8 L1087.8,695.1 L1088.3,695.3 L1088.7,695.7 L1089.2,694.5 L1089.6,695.0 L1090.1,694.5 L1090.5,695.2 L1091.0,694.5 L1091.4,695.1" fill="none" stroke="#f20808" stroke-width="2.45" stroke-linejoin="round"/>
<path d="M191.0,745.4 L191.4,745.8 L191.9,745.4 L192.3,745.1 L192.8,744.5 L193.2,745.7 L193.7,745.9 L194.1,745.0 L194.6,746.2 L195.0,745.4 L195.5,746.6 L195.9,745.9 L196.4,745.5 L196.8,746.0 L197.3,745.5 L197.7,745.5 L198.2,745.5 L198.6,745.4 L199.1,745.7 L199.5,745.9 L200.0,745.6 L200.4,746.1 L200.9,744.9 L201.3,745.2 L201.8,745.7 L202.2,745.0 L202.7,746.0 L203.1,745.7 L203.6,745.4 L204.0,745.5 L204.5,745.1 L204.9,744.8 L205.4,745.7 L205.8,745.7 L206.3,745.4 L206.7,745.2 L207.2,744.4 L207.6,744.8 L208.1,745.0 L208.5,745.4 L209.0,745.8 L209.4,745.2 L209.9,745.0 L210.3,745.6 L210.8,745.2 L211.2,744.8 L211.7,745.6 L212.1,744.8 L212.6,745.0 L213.0,744.8 L213.5,745.4 L213.9,745.7 L214.4,745.1 L214.8,745.5 L215.3,745.2 L215.7,746.3 L216.2,746.0 L216.6,745.2 L217.1,745.5 L217.5,745.6 L218.0,745.4 L218.4,745.0 L218.9,745.2 L219.3,745.4 L219.8,745.4 L220.2,744.8 L220.7,745.2 L221.1,744.6 L221.6,744.3 L222.0,745.1 L222.5,745.6 L222.9,745.6 L223.4,745.9 L223.8,746.0 L224.3,745.4 L224.7,744.9 L225.2,745.0 L225.6,744.5 L226.1,745.0 L226.5,745.1 L227.0,745.1 L227.4,745.5 L227.9,744.3 L228.3,745.4 L228.8,744.8 L229.2,745.4 L229.7,745.2 L230.1,744.7 L230.6,745.4 L231.0,744.7 L231.5,745.2 L231.9,744.8 L232.4,744.9 L232.8,745.2 L233.3,745.9 L233.7,745.5 L234.2,745.2 L234.6,745.7 L235.1,745.0 L235.5,744.9 L236.0,744.6 L236.4,745.0 L236.9,744.9 L237.3,744.6 L237.8,744.1 L238.2,744.8 L238.7,744.9 L239.1,744.7 L239.6,744.5 L240.0,744.5 L240.5,744.7 L240.9,745.4 L241.4,745.0 L241.8,744.3 L242.3,745.2 L242.7,744.8 L243.2,745.9 L243.6,744.9 L244.1,745.0 L244.5,745.0 L245.0,745.0 L245.4,744.9 L245.9,744.9 L246.3,744.8 L246.8,744.6 L247.2,744.6 L247.7,744.3 L248.1,744.5 L248.6,744.5 L249.0,744.6 L249.5,744.6 L249.9,744.8 L250.4,745.0 L250.8,744.7 L251.3,744.9 L251.7,744.9 L252.2,744.7 L252.6,744.7 L253.1,744.9 L253.5,744.1 L254.0,744.8 L254.4,744.4 L254.9,743.2 L255.3,744.8 L255.8,744.1 L256.2,745.1 L256.7,744.4 L257.1,744.7 L257.6,744.9 L258.0,744.4 L258.5,744.4 L258.9,744.7 L259.4,745.4 L259.8,745.4 L260.3,745.5 L260.7,745.1 L261.2,745.1 L261.6,745.2 L262.1,745.0 L262.5,744.5 L263.0,745.0 L263.4,744.5 L263.9,744.4 L264.3,744.7 L264.8,744.7 L265.2,745.1 L265.7,744.8 L266.1,744.5 L266.6,744.6 L267.0,744.4 L267.5,744.6 L267.9,745.2 L268.4,744.8 L268.8,744.5 L269.3,744.5 L269.7,744.3 L270.2,744.5 L270.6,744.0 L271.1,744.8 L271.5,744.5 L272.0,745.0 L272.4,745.0 L272.9,744.7 L273.3,744.2 L273.8,744.1 L274.2,744.8 L274.7,744.8 L275.1,744.1 L275.6,744.2 L276.0,745.0 L276.5,744.7 L276.9,745.6 L277.4,744.9 L277.8,745.0 L278.3,744.5 L278.7,744.2 L279.2,743.8 L279.6,743.4 L280.1,744.8 L280.5,744.8 L281.0,744.4 L281.4,745.0 L281.9,744.0 L282.3,745.3 L282.8,744.7 L283.2,745.3 L283.7,744.0 L284.1,745.1 L284.6,744.8 L285.0,744.7 L285.5,744.2 L285.9,744.6 L286.4,744.4 L286.8,744.1 L287.3,743.8 L287.7,743.9 L288.2,744.2 L288.6,745.0 L289.1,745.1 L289.5,745.2 L290.0,744.7 L290.4,743.8 L290.9,744.0 L291.3,743.9 L291.8,744.2 L292.2,744.9 L292.7,744.4 L293.1,744.3 L293.6,744.6 L294.0,744.7 L294.5,744.7 L294.9,744.0 L295.4,744.0 L295.8,744.1 L296.3,744.5 L296.7,744.5 L297.2,744.0 L297.6,745.1 L298.1,744.1 L298.5,744.3 L299.0,744.2 L299.4,743.9 L299.9,744.3 L300.3,744.3 L300.8,744.4 L301.2,744.4 L301.7,744.1 L302.1,743.9 L302.6,744.7 L303.0,744.3 L303.5,744.9 L303.9,744.6 L304.4,745.4 L304.8,744.3 L305.3,743.7 L305.7,744.2 L306.2,744.8 L306.6,745.2 L307.1,745.2 L307.5,744.7 L308.0,744.9 L308.4,743.8 L308.9,744.0 L309.3,743.8 L309.8,744.4 L310.2,744.7 L310.7,744.3 L311.1,744.4 L311.6,744.0 L312.0,744.1 L312.5,744.3 L312.9,744.9 L313.4,744.5 L313.8,744.6 L314.3,744.6 L314.7,744.5 L315.2,744.0 L315.6,744.9 L316.1,744.1 L316.5,744.2 L317.0,744.1 L317.4,744.4 L317.9,744.1 L318.3,744.3 L318.8,744.7 L319.2,743.8 L319.7,743.4 L320.1,744.5 L320.6,744.2 L321.0,744.4 L321.5,744.4 L321.9,743.8 L322.4,744.0 L322.8,743.2 L323.3,743.8 L323.7,743.8 L324.2,743.4 L324.6,743.6 L325.1,743.8 L325.5,744.0 L326.0,743.9 L326.4,744.5 L326.9,744.1 L327.3,744.1 L327.8,743.0 L328.2,743.4 L328.7,743.5 L329.1,743.2 L329.6,743.3 L330.0,742.7 L330.5,742.3 L330.9,742.1 L331.4,741.6 L331.8,741.0 L332.3,740.5 L332.7,740.3 L333.2,739.8 L333.6,739.7 L333.7,739.5 L334.1,739.5 L334.5,739.7 L335.0,741.0 L335.4,741.0 L335.9,741.8 L336.3,741.6 L336.8,741.7 L337.2,742.1 L337.7,742.7 L338.1,742.6 L338.6,743.5 L339.0,743.2 L339.5,743.3 L339.9,744.1 L340.4,743.5 L340.8,743.5 L341.3,744.6 L341.7,743.7 L342.2,743.7 L342.6,743.4 L343.1,743.9 L343.5,743.8 L344.0,742.5 L344.4,743.3 L344.9,743.3 L345.3,743.4 L345.8,742.8 L346.2,743.2 L346.7,743.7 L347.1,743.5 L347.6,742.6 L348.0,742.9 L348.5,742.2 L348.9,742.8 L349.4,741.3 L349.8,742.7 L350.3,742.2 L350.7,742.5 L351.2,741.4 L351.6,741.6 L352.1,741.1 L352.5,741.8 L353.0,741.6 L353.4,742.2 L353.9,741.7 L354.3,740.5 L354.8,741.4 L355.2,741.4 L355.7,741.9 L356.1,741.8 L356.6,741.4 L357.0,741.6 L357.5,742.2 L357.9,741.6 L358.4,742.1 L358.8,741.8 L359.3,742.8 L359.7,742.8 L360.2,742.6 L360.6,742.2 L361.1,742.4 L361.5,742.6 L362.0,742.6 L362.4,742.8 L362.9,742.1 L363.3,742.3 L363.8,742.4 L364.2,743.2 L364.7,742.5 L365.1,743.0 L365.6,743.2 L366.0,742.3 L366.5,742.1 L366.9,742.1 L367.4,743.0 L367.8,743.0 L368.3,742.9 L368.7,742.5 L369.2,742.9 L369.6,742.3 L370.1,743.1 L370.5,743.0 L371.0,743.0 L371.4,743.4 L371.9,742.5 L372.3,742.5 L372.8,743.0 L373.2,743.2 L373.7,742.5 L374.1,742.4 L374.6,742.7 L375.0,743.0 L375.5,742.7 L375.9,743.3 L376.4,743.7 L376.8,743.0 L377.3,742.7 L377.7,743.6 L378.2,742.4 L378.6,743.2 L379.1,743.1 L379.5,742.3 L380.0,743.0 L380.4,743.1 L380.9,742.4 L381.3,741.7 L381.8,742.2 L382.2,743.2 L382.7,742.2 L383.1,742.9 L383.6,741.9 L384.0,742.2 L384.5,742.1 L384.9,742.3 L385.4,742.5 L385.8,742.4 L386.3,742.0 L386.7,742.2 L387.2,742.1 L387.6,742.0 L388.1,741.9 L388.5,741.9 L389.0,742.2 L389.4,742.8 L389.9,742.0 L390.3,741.9 L390.8,741.3 L391.2,741.1 L391.7,741.6 L392.1,740.7 L392.6,740.6 L393.0,740.3 L393.5,739.2 L393.9,739.1 L394.4,738.0 L394.8,737.1 L395.3,735.5 L395.7,734.9 L396.2,733.4 L396.6,733.8 L396.9,733.7 L397.1,733.6 L397.5,734.2 L398.0,734.1 L398.4,735.2 L398.9,735.8 L399.3,737.4 L399.8,737.9 L400.2,739.3 L400.7,739.2 L401.1,740.2 L401.6,740.4 L402.0,740.9 L402.5,741.4 L402.9,741.8 L403.4,741.8 L403.8,740.8 L404.3,741.5 L404.7,740.8 L405.2,741.5 L405.6,741.1 L406.1,741.8 L406.5,741.6 L407.0,741.2 L407.4,740.6 L407.9,740.2 L408.3,740.1 L408.8,740.3 L409.2,740.4 L409.7,740.2 L410.1,739.7 L410.6,738.5 L411.0,738.3 L411.5,738.0 L411.9,737.5 L412.4,737.0 L412.5,736.5 L412.8,737.4 L413.3,736.8 L413.7,736.3 L414.2,737.0 L414.6,736.9 L415.1,736.4 L415.5,736.0 L416.0,734.7 L416.4,734.5 L416.9,732.5 L417.3,730.2 L417.8,729.0 L418.2,726.5 L418.7,726.4 L419.1,725.4 L419.3,725.9 L419.6,726.4 L420.0,727.1 L420.5,729.6 L420.9,730.5 L421.4,732.5 L421.8,733.9 L422.3,735.4 L422.7,736.5 L423.2,738.4 L423.6,739.1 L424.1,740.0 L424.5,739.7 L425.0,740.0 L425.4,740.4 L425.9,740.7 L426.3,740.8 L426.8,740.4 L427.2,741.1 L427.7,741.4 L428.1,741.6 L428.6,741.5 L429.0,741.7 L429.5,742.1 L429.9,742.3 L430.4,741.9 L430.8,741.9 L431.3,741.8 L431.7,742.2 L432.2,742.0 L432.6,742.0 L433.1,742.4 L433.5,741.7 L434.0,741.6 L434.4,741.9 L434.9,742.6 L435.3,742.2 L435.8,741.5 L436.2,742.3 L436.7,742.0 L437.1,742.1 L437.6,741.3 L438.0,741.7 L438.5,741.7 L438.9,742.2 L439.4,741.6 L439.8,741.6 L440.3,741.3 L440.7,742.3 L441.2,741.9 L441.6,742.4 L442.1,742.0 L442.5,742.3 L443.0,741.7 L443.4,742.2 L443.9,741.8 L444.3,741.7 L444.8,742.4 L445.2,741.6 L445.7,742.1 L446.1,742.2 L446.6,742.3 L447.0,742.2 L447.5,742.6 L447.9,742.0 L448.4,742.8 L448.8,742.7 L449.3,742.3 L449.7,742.0 L450.2,741.5 L450.6,741.6 L451.1,741.8 L451.5,742.1 L452.0,742.7 L452.4,741.6 L452.9,742.5 L453.3,742.1 L453.8,742.3 L454.2,742.1 L454.7,741.8 L455.1,742.0 L455.6,742.1 L456.0,742.6 L456.5,742.1 L456.9,742.7 L457.4,742.6 L457.8,742.2 L458.3,742.3 L458.7,742.5 L459.2,741.7 L459.6,741.8 L460.1,742.3 L460.5,742.3 L461.0,741.8 L461.4,741.7 L461.9,742.2 L462.3,742.5 L462.8,741.9 L463.2,741.8 L463.7,742.4 L464.1,742.3 L464.6,741.6 L465.0,741.7 L465.5,741.9 L465.9,742.4 L466.4,742.3 L466.8,742.1 L467.3,741.3 L467.7,743.0 L468.2,741.9 L468.6,742.9 L469.1,742.7 L469.5,742.4 L470.0,742.2 L470.4,741.6 L470.9,741.4 L471.3,741.4 L471.8,741.2 L472.2,741.8 L472.7,741.5 L473.1,742.5 L473.6,742.8 L474.0,741.1 L474.5,741.4 L474.9,742.0 L475.4,742.0 L475.8,741.8 L476.3,741.8 L476.7,742.0 L477.2,741.8 L477.6,742.3 L478.1,742.6 L478.5,742.6 L479.0,742.8 L479.4,742.1 L479.9,742.1 L480.3,741.1 L480.8,741.7 L481.2,741.5 L481.7,742.4 L482.1,742.7 L482.6,741.8 L483.0,741.8 L483.5,741.6 L483.9,741.8 L484.4,741.4 L484.8,742.1 L485.3,741.6 L485.7,742.2 L486.2,741.7 L486.6,741.0 L487.1,740.5 L487.5,740.5 L488.0,739.6 L488.4,738.6 L488.9,738.7 L489.3,738.0 L489.8,738.8 L490.2,737.7 L490.6,737.6 L490.7,736.9 L491.1,738.3 L491.6,738.4 L492.0,738.8 L492.5,739.3 L492.9,740.0 L493.4,740.7 L493.8,741.0 L494.3,741.0 L494.7,741.5 L495.2,740.9 L495.6,741.7 L496.1,742.0 L496.5,742.1 L497.0,742.4 L497.4,742.8 L497.9,742.6 L498.3,742.3 L498.8,743.0 L499.2,743.3 L499.7,743.5 L500.1,743.4 L500.6,743.4 L501.0,742.9 L501.5,741.9 L501.9,742.7 L502.4,742.5 L502.8,743.2 L503.3,743.5 L503.7,743.0 L504.2,743.6 L504.6,742.8 L505.1,743.5 L505.5,742.8 L506.0,743.0 L506.4,742.9 L506.9,743.5 L507.3,744.0 L507.8,743.4 L508.2,743.4 L508.7,743.7 L509.1,743.2 L509.6,743.6 L510.0,743.4 L510.5,743.3 L510.9,743.1 L511.4,744.0 L511.8,743.7 L512.3,743.5 L512.7,744.2 L513.2,743.8 L513.6,743.4 L514.1,743.3 L514.5,743.7 L515.0,743.6 L515.4,743.9 L515.9,743.4 L516.3,743.4 L516.8,743.8 L517.2,744.4 L517.7,744.2 L518.1,745.3 L518.6,745.1 L519.0,744.4 L519.5,744.0 L519.9,744.3 L520.4,744.0 L520.8,744.2 L521.3,744.3 L521.7,744.3 L522.2,743.6 L522.6,744.9 L523.1,743.9 L523.5,744.3 L524.0,744.5 L524.4,744.4 L524.9,744.3 L525.3,744.4 L525.8,743.9 L526.2,744.4 L526.7,744.7 L527.1,744.4 L527.6,744.9 L528.0,745.0 L528.5,744.3 L528.9,744.8 L529.4,744.4 L529.8,744.7 L530.3,744.2 L530.7,743.7 L531.2,744.6 L531.6,744.5 L532.1,744.4 L532.5,743.9 L533.0,744.0 L533.4,744.2 L533.9,744.2 L534.3,743.9 L534.8,744.1 L535.2,744.3 L535.7,743.8 L536.1,744.1 L536.6,743.8 L537.0,744.5 L537.5,744.2 L537.9,744.2 L538.4,744.5 L538.8,744.4 L539.3,744.0 L539.7,744.4 L540.2,743.5 L540.6,743.6 L541.1,744.2 L541.5,744.0 L542.0,744.6 L542.4,744.3 L542.9,744.3 L543.3,744.4 L543.8,743.9 L544.2,743.5 L544.7,744.3 L545.1,743.7 L545.6,744.2 L546.0,743.7 L546.5,743.9 L546.9,743.8 L547.4,743.7 L547.8,743.8 L548.3,744.2 L548.7,744.0 L549.2,744.2 L549.6,743.6 L550.1,743.6 L550.5,743.4 L551.0,743.5 L551.4,743.9 L551.9,744.0 L552.3,744.3 L552.8,744.5 L553.2,744.3 L553.7,744.0 L554.1,743.8 L554.6,744.5 L555.0,744.1 L555.5,743.0 L555.9,744.0 L556.4,744.3 L556.8,743.9 L557.3,744.2 L557.7,743.9 L558.2,744.2 L558.6,744.0 L559.1,744.2 L559.5,744.0 L560.0,744.2 L560.4,743.8 L560.9,744.0 L561.3,743.7 L561.8,743.2 L562.2,743.9 L562.7,743.9 L563.1,743.6 L563.6,744.4 L564.0,743.8 L564.5,744.2 L564.9,743.8 L565.4,744.1 L565.8,744.1 L566.3,744.3 L566.7,743.7 L567.2,743.5 L567.6,744.6 L568.1,744.1 L568.5,744.8 L569.0,743.9 L569.4,743.4 L569.9,744.0 L570.3,744.1 L570.8,744.1 L571.2,743.7 L571.7,743.9 L572.1,743.3 L572.6,743.3 L573.0,743.6 L573.5,744.0 L573.9,743.0 L574.4,743.9 L574.8,743.6 L575.3,743.5 L575.7,743.9 L576.2,743.8 L576.6,744.0 L577.1,744.2 L577.5,744.2 L578.0,744.4 L578.4,744.3 L578.9,743.6 L579.3,743.7 L579.8,742.9 L580.2,743.4 L580.7,743.0 L581.1,743.4 L581.6,743.6 L582.0,744.0 L582.5,743.7 L582.9,744.7 L583.4,743.9 L583.8,743.3 L584.3,744.4 L584.7,743.7 L585.2,743.7 L585.6,744.1 L586.1,743.7 L586.5,744.5 L587.0,744.7 L587.4,744.5 L587.9,744.0 L588.3,743.7 L588.8,744.1 L589.2,744.2 L589.7,744.2 L590.1,744.1 L590.6,744.4 L591.0,743.8 L591.5,743.3 L591.9,743.3 L592.4,743.9 L592.8,744.4 L593.3,743.9 L593.7,743.8 L594.2,743.5 L594.6,744.1 L595.1,743.2 L595.5,743.5 L596.0,744.2 L596.4,743.7 L596.9,743.9 L597.3,744.4 L597.8,744.4 L598.2,744.0 L598.7,744.2 L599.1,742.9 L599.6,743.2 L600.0,743.5 L600.5,743.1 L600.9,743.3 L601.4,743.2 L601.8,743.7 L602.3,743.3 L602.7,744.1 L603.2,743.7 L603.6,744.1 L604.1,743.0 L604.5,742.8 L605.0,743.4 L605.4,743.6 L605.9,743.9 L606.3,744.0 L606.8,743.5 L607.2,744.0 L607.7,743.5 L608.1,743.6 L608.6,744.0 L609.0,743.9 L609.5,743.8 L609.9,743.7 L610.4,744.4 L610.8,743.5 L611.3,743.6 L611.7,743.6 L612.2,743.4 L612.6,744.1 L613.1,744.1 L613.5,743.6 L614.0,742.7 L614.4,742.5 L614.9,743.1 L615.3,742.9 L615.8,743.0 L616.2,743.0 L616.7,742.9 L617.1,743.0 L617.6,743.2 L618.0,743.4 L618.5,743.2 L618.9,743.1 L619.4,742.1 L619.8,742.8 L620.3,743.6 L620.7,743.6 L621.2,743.8 L621.6,742.7 L622.1,742.8 L622.5,742.8 L623.0,743.3 L623.4,742.8 L623.9,742.9 L624.3,742.7 L624.8,742.7 L625.2,742.3 L625.7,742.7 L626.1,741.3 L626.6,742.3 L627.0,742.1 L627.5,742.5 L627.9,742.8 L628.4,742.2 L628.8,742.7 L629.3,742.2 L629.7,742.4 L630.2,742.2 L630.6,742.2 L631.1,742.5 L631.5,741.6 L632.0,741.4 L632.4,741.2 L632.9,741.1 L633.3,741.1 L633.8,742.0 L634.2,741.6 L634.7,742.0 L635.1,741.7 L635.6,742.3 L636.0,741.7 L636.5,741.5 L636.9,742.0 L637.4,740.7 L637.8,740.6 L638.3,740.6 L638.7,740.4 L639.2,740.9 L639.6,740.9 L640.1,741.4 L640.5,740.0 L641.0,741.2 L641.4,741.3 L641.9,740.6 L642.3,740.9 L642.8,741.3 L643.2,740.4 L643.7,740.7 L644.1,740.6 L644.6,740.4 L645.0,740.4 L645.5,740.2 L645.9,740.0 L646.4,740.8 L646.8,740.5 L647.3,740.9 L647.7,740.4 L648.2,740.2 L648.6,740.1 L649.1,740.1 L649.5,740.3 L650.0,740.8 L650.4,741.0 L650.9,741.0 L651.3,740.7 L651.8,741.1 L652.2,741.6 L652.7,741.0 L653.1,741.2 L653.6,741.3 L654.0,741.6 L654.5,740.9 L654.9,741.3 L655.4,741.6 L655.8,741.1 L656.3,741.6 L656.7,741.5 L657.2,741.6 L657.6,741.6 L658.1,741.6 L658.5,741.4 L659.0,741.3 L659.4,742.1 L659.9,742.3 L660.3,742.8 L660.8,742.0 L661.2,742.3 L661.7,742.0 L662.1,741.8 L662.6,742.2 L663.0,742.0 L663.5,742.1 L663.9,741.9 L664.4,741.9 L664.8,742.2 L665.3,742.9 L665.7,742.7 L666.2,742.8 L666.6,742.4 L667.1,742.0 L667.5,742.7 L668.0,742.3 L668.4,742.4 L668.9,742.3 L669.3,743.1 L669.8,743.4 L670.2,743.5 L670.7,743.7 L671.1,742.6 L671.6,742.7 L672.0,742.4 L672.5,743.5 L672.9,742.5 L673.4,743.0 L673.8,743.2 L674.3,742.3 L674.7,743.3 L675.2,743.3 L675.6,743.1 L676.1,742.7 L676.5,743.4 L677.0,743.2 L677.4,743.5 L677.9,742.8 L678.3,742.3 L678.8,742.9 L679.2,743.1 L679.7,742.3 L680.1,742.6 L680.6,742.3 L681.0,743.2 L681.5,742.2 L681.9,743.5 L682.4,742.6 L682.8,743.3 L683.3,742.8 L683.7,742.8 L684.2,742.8 L684.6,743.1 L685.1,742.7 L685.5,743.0 L686.0,742.7 L686.4,743.1 L686.9,742.9 L687.3,743.4 L687.8,742.5 L688.2,743.1 L688.7,743.0 L689.1,742.7 L689.6,742.6 L690.0,743.0 L690.5,743.4 L690.9,743.1 L691.4,743.3 L691.8,742.4 L692.3,743.6 L692.7,743.2 L693.2,742.7 L693.6,742.4 L694.1,742.9 L694.5,742.9 L695.0,742.7 L695.4,742.5 L695.9,742.8 L696.3,742.7 L696.8,742.9 L697.2,742.9 L697.7,742.2 L698.1,742.5 L698.6,741.7 L699.0,742.4 L699.5,741.1 L699.9,741.4 L700.4,741.3 L700.8,741.8 L701.3,741.1 L701.7,741.8 L702.2,741.5 L702.6,741.6 L703.1,741.9 L703.5,741.1 L704.0,741.3 L704.4,742.0 L704.9,741.7 L705.3,741.0 L705.8,741.9 L706.2,741.7 L706.7,742.0 L707.1,742.3 L707.6,741.9 L708.0,742.5 L708.5,742.4 L708.9,741.9 L709.4,741.9 L709.8,742.5 L710.3,742.9 L710.7,742.3 L711.2,743.2 L711.6,743.1 L712.1,743.5 L712.5,743.5 L713.0,742.6 L713.4,743.7 L713.9,742.5 L714.3,742.7 L714.8,742.5 L715.2,742.7 L715.7,742.8 L716.1,742.8 L716.6,742.8 L717.0,742.8 L717.5,742.6 L717.9,743.5 L718.4,743.3 L718.8,743.7 L719.3,743.0 L719.7,743.1 L720.2,743.1 L720.6,743.7 L721.1,743.2 L721.5,743.5 L722.0,743.4 L722.4,743.6 L722.9,742.6 L723.3,743.3 L723.8,742.8 L724.2,743.3 L724.7,743.2 L725.1,743.1 L725.6,743.0 L726.0,743.6 L726.5,743.0 L726.9,743.6 L727.4,743.6 L727.8,743.2 L728.3,743.1 L728.7,742.9 L729.2,742.5 L729.6,743.2 L730.1,743.0 L730.5,744.1 L731.0,743.0 L731.4,743.5 L731.9,743.6 L732.3,744.0 L732.8,743.8 L733.2,743.6 L733.7,743.9 L734.1,743.8 L734.6,743.3 L735.0,743.1 L735.5,742.5 L735.9,742.6 L736.4,742.0 L736.8,742.6 L737.3,742.7 L737.7,743.3 L738.2,742.6 L738.6,743.6 L739.1,743.7 L739.5,743.7 L740.0,743.5 L740.4,743.9 L740.9,743.3 L741.3,744.0 L741.8,742.9 L742.2,743.5 L742.7,743.1 L743.1,744.0 L743.6,743.8 L744.0,744.0 L744.5,743.5 L744.9,743.6 L745.4,743.3 L745.8,742.8 L746.3,743.5 L746.7,743.2 L747.2,743.1 L747.6,742.6 L748.1,743.3 L748.5,743.0 L749.0,742.6 L749.4,742.8 L749.9,743.2 L750.3,743.4 L750.8,743.5 L751.2,743.9 L751.7,743.0 L752.1,742.7 L752.6,742.7 L753.0,742.5 L753.5,743.5 L753.9,743.6 L754.4,744.4 L754.8,743.6 L755.3,743.6 L755.7,743.0 L756.2,743.0 L756.6,743.7 L757.1,743.7 L757.5,743.5 L758.0,743.1 L758.4,743.5 L758.9,743.5 L759.3,743.1 L759.8,743.5 L760.2,742.9 L760.7,742.9 L761.1,743.0 L761.6,743.1 L762.0,743.6 L762.5,743.7 L762.9,744.1 L763.4,743.7 L763.8,742.7 L764.3,743.2 L764.7,743.0 L765.2,743.7 L765.6,743.7 L766.1,743.5 L766.5,742.9 L767.0,743.2 L767.4,743.4 L767.9,743.8 L768.3,744.1 L768.8,743.0 L769.2,743.3 L769.7,742.6 L770.1,742.5 L770.6,743.8 L771.0,743.4 L771.5,743.5 L771.9,743.9 L772.4,743.5 L772.8,743.8 L773.3,743.4 L773.7,743.5 L774.2,743.6 L774.6,743.2 L775.1,742.4 L775.5,743.7 L776.0,743.2 L776.4,744.1 L776.9,744.1 L777.3,744.0 L777.8,743.3 L778.2,742.7 L778.7,743.5 L779.1,743.8 L779.6,743.4 L780.0,743.2 L780.5,743.5 L780.9,744.1 L781.4,743.8 L781.8,743.9 L782.3,743.9 L782.7,743.4 L783.2,743.7 L783.6,743.7 L784.1,743.4 L784.5,743.4 L785.0,744.2 L785.4,744.4 L785.9,744.2 L786.3,743.9 L786.8,744.1 L787.2,743.9 L787.7,743.7 L788.1,743.4 L788.6,743.4 L789.0,744.0 L789.5,743.6 L789.9,744.0 L790.4,743.5 L790.8,743.2 L791.3,743.1 L791.7,743.3 L792.2,743.3 L792.6,743.6 L793.1,744.6 L793.5,744.3 L794.0,744.2 L794.4,743.3 L794.9,743.9 L795.3,743.3 L795.8,743.6 L796.2,743.6 L796.7,743.7 L797.1,743.2 L797.6,744.2 L798.0,743.7 L798.5,744.6 L798.9,743.7 L799.4,744.0 L799.8,743.5 L800.3,743.9 L800.7,743.0 L801.2,743.1 L801.6,743.1 L802.1,743.5 L802.5,744.0 L803.0,743.4 L803.4,744.0 L803.9,743.7 L804.3,743.9 L804.8,743.9 L805.2,743.3 L805.7,742.8 L806.1,742.7 L806.6,743.1 L807.0,743.9 L807.5,743.1 L807.9,743.8 L808.4,743.7 L808.8,744.1 L809.3,743.2 L809.7,743.8 L810.2,743.3 L810.6,743.8 L811.1,743.7 L811.5,743.6 L812.0,744.3 L812.4,743.8 L812.9,744.4 L813.3,744.4 L813.8,744.1 L814.2,744.0 L814.7,743.7 L815.1,743.4 L815.6,743.3 L816.0,743.6 L816.5,743.3 L816.9,743.8 L817.4,743.9 L817.8,743.8 L818.3,742.8 L818.7,743.3 L819.2,743.8 L819.6,743.3 L820.1,743.5 L820.5,742.6 L821.0,743.5 L821.4,743.7 L821.9,743.4 L822.3,743.6 L822.8,743.3 L823.2,743.0 L823.7,743.6 L824.1,742.9 L824.6,743.3 L825.0,743.6 L825.5,744.3 L825.9,743.6 L826.4,744.5 L826.8,743.3 L827.3,743.1 L827.7,743.8 L828.2,743.6 L828.6,743.7 L829.1,744.0 L829.5,743.3 L830.0,744.1 L830.4,743.3 L830.9,744.5 L831.3,743.2 L831.8,744.1 L832.2,744.6 L832.7,743.8 L833.1,743.8 L833.6,744.1 L834.0,743.4 L834.5,744.2 L834.9,742.7 L835.4,743.8 L835.8,743.4 L836.3,743.8 L836.7,744.2 L837.2,743.6 L837.6,744.3 L838.1,743.9 L838.5,744.1 L839.0,742.9 L839.4,743.2 L839.9,743.6 L840.3,743.7 L840.8,744.1 L841.2,743.4 L841.7,743.9 L842.1,744.1 L842.6,744.2 L843.0,744.2 L843.5,743.1 L843.9,744.5 L844.4,743.7 L844.8,744.2 L845.3,743.6 L845.7,743.3 L846.2,744.3 L846.6,743.7 L847.1,743.6 L847.5,743.2 L848.0,743.5 L848.4,744.0 L848.9,743.4 L849.3,743.9 L849.8,743.4 L850.2,743.9 L850.7,744.6 L851.1,743.8 L851.6,744.0 L852.0,743.4 L852.5,743.3 L852.9,743.7 L853.4,743.7 L853.8,743.2 L854.3,742.8 L854.7,743.2 L855.2,744.2 L855.6,743.7 L856.1,743.9 L856.5,744.1 L857.0,743.6 L857.4,743.9 L857.9,743.5 L858.3,743.4 L858.8,743.7 L859.2,743.5 L859.7,743.3 L860.1,743.9 L860.6,743.8 L861.0,743.3 L861.5,743.9 L861.9,743.8 L862.4,743.9 L862.8,744.5 L863.3,744.4 L863.7,744.0 L864.2,743.4 L864.6,744.1 L865.1,744.1 L865.5,744.0 L866.0,743.3 L866.4,743.9 L866.9,743.6 L867.3,744.0 L867.8,743.7 L868.2,744.9 L868.7,744.2 L869.1,743.5 L869.6,744.2 L870.0,743.4 L870.5,744.0 L870.9,743.6 L871.4,744.6 L871.8,743.8 L872.3,744.0 L872.7,744.5 L873.2,743.8 L873.6,744.1 L874.1,743.1 L874.5,743.1 L875.0,743.4 L875.4,743.5 L875.9,743.2 L876.3,743.8 L876.8,743.6 L877.2,744.1 L877.7,743.3 L878.1,743.2 L878.6,743.4 L879.0,743.6 L879.5,744.1 L879.9,744.1 L880.4,743.7 L880.8,744.6 L881.3,743.9 L881.7,744.4 L882.2,743.8 L882.6,744.2 L883.1,744.0 L883.5,743.7 L884.0,744.0 L884.4,744.6 L884.9,744.3 L885.3,743.7 L885.8,744.0 L886.2,744.2 L886.7,744.3 L887.1,743.5 L887.6,744.5 L888.0,743.8 L888.5,744.2 L888.9,744.2 L889.4,743.2 L889.8,743.8 L890.3,743.5 L890.7,744.1 L891.2,743.4 L891.6,744.5 L892.1,743.9 L892.5,744.5 L893.0,744.1 L893.4,744.0 L893.9,743.1 L894.3,744.1 L894.8,744.6 L895.2,744.2 L895.7,744.9 L896.1,744.2 L896.6,744.3 L897.0,744.3 L897.5,744.2 L897.9,744.0 L898.4,743.5 L898.8,743.9 L899.3,743.8 L899.7,743.5 L900.2,743.8 L900.6,743.0 L901.1,743.7 L901.5,744.0 L902.0,744.2 L902.4,743.3 L902.9,743.8 L903.3,743.4 L903.8,743.7 L904.2,743.8 L904.7,743.6 L905.1,743.4 L905.6,743.7 L906.0,744.2 L906.5,744.9 L906.9,744.6 L907.4,744.0 L907.8,744.5 L908.3,743.8 L908.7,743.5 L909.2,743.6 L909.6,743.2 L910.1,743.8 L910.5,744.4 L911.0,743.9 L911.4,744.4 L911.9,744.6 L912.3,744.1 L912.8,743.4 L913.2,743.7 L913.7,743.7 L914.1,744.3 L914.6,743.1 L915.0,743.8 L915.5,743.8 L915.9,743.8 L916.4,744.1 L916.8,743.9 L917.3,744.5 L917.7,744.3 L918.2,744.6 L918.6,743.9 L919.1,744.0 L919.5,743.5 L920.0,744.1 L920.4,743.8 L920.9,744.1 L921.3,743.4 L921.8,744.0 L922.2,743.7 L922.7,744.2 L923.1,743.8 L923.6,744.3 L924.0,744.7 L924.5,743.6 L924.9,743.6 L925.4,743.3 L925.8,744.2 L926.3,743.8 L926.7,744.7 L927.2,744.0 L927.6,744.0 L928.1,744.4 L928.5,744.1 L929.0,744.1 L929.4,743.8 L929.9,744.1 L930.3,743.6 L930.8,744.1 L931.2,744.5 L931.7,744.4 L932.1,744.5 L932.6,744.1 L933.0,744.3 L933.5,743.8 L933.9,744.0 L934.4,743.1 L934.8,743.8 L935.3,743.7 L935.7,744.0 L936.2,743.2 L936.6,743.6 L937.1,744.3 L937.5,743.5 L938.0,744.0 L938.4,743.8 L938.9,744.4 L939.3,744.1 L939.8,744.4 L940.2,743.9 L940.7,744.1 L941.1,744.5 L941.6,744.7 L942.0,745.4 L942.5,745.4 L942.9,744.1 L943.4,744.8 L943.8,743.9 L944.3,744.4 L944.7,744.0 L945.2,744.5 L945.6,743.7 L946.1,743.7 L946.5,743.9 L947.0,743.2 L947.4,743.5 L947.9,744.0 L948.3,743.4 L948.8,743.7 L949.2,743.8 L949.7,744.0 L950.1,744.8 L950.6,743.8 L951.0,744.7 L951.5,743.8 L951.9,744.5 L952.4,743.6 L952.8,743.5 L953.3,744.0 L953.7,744.1 L954.2,744.6 L954.6,744.4 L955.1,744.3 L955.5,744.0 L956.0,744.3 L956.4,744.0 L956.9,744.0 L957.3,744.1 L957.8,743.8 L958.2,744.3 L958.7,744.0 L959.1,744.8 L959.6,744.8 L960.0,744.7 L960.5,744.3 L960.9,744.1 L961.4,744.0 L961.8,743.2 L962.3,743.8 L962.7,743.5 L963.2,744.2 L963.6,744.1 L964.1,744.9 L964.5,745.0 L965.0,744.3 L965.4,744.3 L965.9,744.3 L966.3,743.9 L966.8,744.0 L967.2,744.7 L967.7,744.5 L968.1,744.3 L968.6,743.8 L969.0,744.0 L969.5,743.0 L969.9,744.2 L970.4,744.3 L970.8,744.5 L971.3,744.9 L971.7,744.0 L972.2,744.5 L972.6,745.0 L973.1,744.4 L973.5,744.4 L974.0,743.9 L974.4,745.0 L974.9,744.4 L975.3,744.7 L975.8,743.6 L976.2,743.8 L976.7,743.6 L977.1,744.6 L977.6,744.0 L978.0,744.2 L978.5,744.3 L978.9,743.8 L979.4,744.2 L979.8,744.2 L980.3,744.9 L980.7,744.7 L981.2,744.1 L981.6,743.3 L982.1,744.2 L982.5,744.4 L983.0,744.9 L983.4,744.1 L983.9,744.8 L984.3,744.6 L984.8,744.3 L985.2,744.5 L985.7,744.1 L986.1,744.5 L986.6,744.2 L987.0,745.4 L987.5,744.8 L987.9,744.8 L988.4,744.5 L988.8,744.3 L989.3,744.4 L989.7,744.8 L990.2,743.9 L990.6,744.9 L991.1,745.0 L991.5,744.6 L992.0,744.6 L992.4,744.4 L992.9,744.6 L993.3,744.6 L993.8,743.7 L994.2,743.6 L994.7,744.4 L995.1,744.4 L995.6,744.6 L996.0,745.4 L996.5,744.2 L996.9,744.5 L997.4,744.7 L997.8,743.6 L998.3,744.0 L998.7,744.4 L999.2,744.0 L999.6,744.2 L1000.1,744.0 L1000.5,744.5 L1001.0,744.7 L1001.4,742.9 L1001.9,744.5 L1002.3,743.8 L1002.8,744.0 L1003.2,743.9 L1003.7,744.2 L1004.1,744.1 L1004.6,744.3 L1005.0,743.8 L1005.5,744.1 L1005.9,744.9 L1006.4,744.1 L1006.8,744.3 L1007.3,744.2 L1007.7,744.9 L1008.2,744.4 L1008.6,744.5 L1009.1,744.7 L1009.5,744.2 L1010.0,743.6 L1010.4,744.3 L1010.9,743.5 L1011.3,743.6 L1011.8,743.5 L1012.2,743.9 L1012.7,744.6 L1013.1,744.6 L1013.6,745.3 L1014.0,744.6 L1014.5,744.5 L1014.9,744.2 L1015.4,745.6 L1015.8,744.7 L1016.3,744.1 L1016.7,744.4 L1017.2,743.4 L1017.6,744.4 L1018.1,744.0 L1018.5,744.0 L1019.0,744.6 L1019.4,744.7 L1019.9,744.8 L1020.3,744.2 L1020.8,743.9 L1021.2,744.6 L1021.7,744.4 L1022.1,743.9 L1022.6,744.6 L1023.0,744.1 L1023.5,744.8 L1023.9,744.4 L1024.4,745.1 L1024.8,744.5 L1025.3,744.4 L1025.7,744.0 L1026.2,744.5 L1026.6,744.4 L1027.1,745.0 L1027.5,744.4 L1028.0,744.2 L1028.4,744.9 L1028.9,744.9 L1029.3,744.8 L1029.8,743.7 L1030.2,744.0 L1030.7,744.1 L1031.1,744.3 L1031.6,744.9 L1032.0,744.9 L1032.5,744.1 L1032.9,744.3 L1033.4,744.4 L1033.8,743.8 L1034.3,744.3 L1034.7,743.9 L1035.2,744.6 L1035.6,744.2 L1036.1,744.7 L1036.5,744.5 L1037.0,744.5 L1037.4,744.5 L1037.9,745.1 L1038.3,745.1 L1038.8,744.7 L1039.2,744.4 L1039.7,744.5 L1040.1,744.6 L1040.6,744.3 L1041.0,744.2 L1041.5,744.0 L1041.9,744.1 L1042.4,744.8 L1042.8,744.1 L1043.3,744.9 L1043.7,744.9 L1044.2,744.8 L1044.6,744.5 L1045.1,744.4 L1045.5,743.9 L1046.0,744.8 L1046.4,744.5 L1046.9,744.4 L1047.3,743.8 L1047.8,744.4 L1048.2,744.4 L1048.7,745.0 L1049.1,745.3 L1049.6,744.4 L1050.0,745.1 L1050.5,744.3 L1050.9,744.0 L1051.4,744.3 L1051.8,743.7 L1052.3,743.6 L1052.7,743.7 L1053.2,744.9 L1053.6,744.6 L1054.1,744.3 L1054.5,744.8 L1055.0,744.9 L1055.4,744.7 L1055.9,744.3 L1056.3,744.7 L1056.8,744.6 L1057.2,744.1 L1057.7,744.3 L1058.1,744.2 L1058.6,744.0 L1059.0,744.2 L1059.5,744.9 L1059.9,744.6 L1060.4,744.4 L1060.8,744.8 L1061.3,744.8 L1061.7,744.9 L1062.2,744.9 L1062.6,744.1 L1063.1,744.4 L1063.5,744.3 L1064.0,744.7 L1064.4,744.8 L1064.9,744.7 L1065.3,745.0 L1065.8,744.5 L1066.2,743.8 L1066.7,744.8 L1067.1,744.6 L1067.6,744.5 L1068.0,744.1 L1068.5,744.2 L1068.9,743.9 L1069.4,744.1 L1069.8,744.3 L1070.3,745.0 L1070.7,744.7 L1071.2,744.2 L1071.6,744.5 L1072.1,744.6 L1072.5,744.7 L1073.0,745.1 L1073.4,744.7 L1073.9,745.4 L1074.3,745.1 L1074.8,744.8 L1075.2,744.6 L1075.7,744.5 L1076.1,744.5 L1076.6,744.2 L1077.0,744.4 L1077.5,744.1 L1077.9,744.6 L1078.4,744.2 L1078.8,744.6 L1079.3,744.7 L1079.7,744.7 L1080.2,744.7 L1080.6,744.5 L1081.1,744.4 L1081.5,744.7 L1082.0,744.7 L1082.4,744.3 L1082.9,745.0 L1083.3,744.6 L1083.8,744.8 L1084.2,744.1 L1084.7,744.3 L1085.1,744.4 L1085.6,744.4 L1086.0,745.4 L1086.5,744.6 L1086.9,744.8 L1087.4,744.8 L1087.8,744.3 L1088.3,744.7 L1088.7,744.0 L1089.2,744.1 L1089.6,744.3 L1090.1,744.0 L1090.5,744.1 L1091.0,744.6 L1091.4,744.8" fill="none" stroke="#000000" stroke-width="2.45" stroke-linejoin="round"/>
<path d="M334.60,249.30 L336.10,252.00 L339.19,251.95 L337.60,254.60 L339.19,257.25 L336.10,257.20 L334.60,259.90 L333.10,257.20 L330.01,257.25 L331.60,254.60 L330.01,251.95 L333.10,252.00ZM334.60,229.70 L336.25,231.33 L338.56,231.34 L338.57,233.65 L340.20,235.30 L338.57,236.95 L338.56,239.26 L336.25,239.27 L334.60,240.90 L332.95,239.27 L330.64,239.26 L330.63,236.95 L329.00,235.30 L330.63,233.65 L330.64,231.34 L332.95,231.33ZM346.70,241.70Q348.17,245.43 351.90,246.90Q348.17,248.37 346.70,252.10Q345.23,248.37 341.50,246.90Q345.23,245.43 346.70,241.70ZM346.70,222.70 L348.26,225.86 L351.74,226.36 L349.22,228.82 L349.82,232.29 L346.70,230.65 L343.58,232.29 L344.18,228.82 L341.66,226.36 L345.14,225.86ZM350.80,252.50Q352.14,254.34 354.38,254.50Q356.40,255.50 358.42,254.50Q360.66,254.34 362.00,252.50Q360.16,253.84 360.00,256.08Q359.00,258.10 360.00,260.12Q360.16,262.36 362.00,263.70Q360.66,261.86 358.42,261.70Q356.40,260.70 354.38,261.70Q352.14,261.86 350.80,263.70Q352.64,262.36 352.80,260.12Q353.80,258.10 352.80,256.08Q352.64,253.84 350.80,252.50ZM364.70,241.70Q366.04,243.54 368.28,243.70Q370.30,244.70 372.32,243.70Q374.56,243.54 375.90,241.70Q374.06,243.04 373.90,245.28Q372.90,247.30 373.90,249.32Q374.06,251.56 375.90,252.90Q374.56,251.06 372.32,250.90Q370.30,249.90 368.28,250.90Q366.04,251.06 364.70,252.90Q366.54,251.56 366.70,249.32Q367.70,247.30 366.70,245.28Q366.54,243.04 364.70,241.70ZM384.60,253.30Q385.86,258.17 389.45,261.70Q384.60,259.57 379.75,261.70Q383.34,258.17 384.60,253.30ZM396.50,242.40Q397.97,246.13 401.70,247.60Q397.97,249.07 396.50,252.80Q395.03,249.07 391.30,247.60Q395.03,246.13 396.50,242.40ZM396.50,223.90 L398.06,227.06 L401.54,227.56 L399.02,230.02 L399.62,233.49 L396.50,231.85 L393.38,233.49 L393.98,230.02 L391.46,227.56 L394.94,227.06ZM396.50,204.20 L398.00,206.90 L401.09,206.85 L399.50,209.50 L401.09,212.15 L398.00,212.10 L396.50,214.80 L395.00,212.10 L391.91,212.15 L393.50,209.50 L391.91,206.85 L395.00,206.90ZM396.50,184.50 L398.15,186.13 L400.46,186.14 L400.47,188.45 L402.10,190.10 L400.47,191.75 L400.46,194.06 L398.15,194.07 L396.50,195.70 L394.85,194.07 L392.54,194.06 L392.53,191.75 L390.90,190.10 L392.53,188.45 L392.54,186.14 L394.85,186.13ZM413.80,159.70Q415.14,161.54 417.38,161.70Q419.40,162.70 421.42,161.70Q423.66,161.54 425.00,159.70Q423.16,161.04 423.00,163.28Q422.00,165.30 423.00,167.32Q423.16,169.56 425.00,170.90Q423.66,169.06 421.42,168.90Q419.40,167.90 417.38,168.90Q415.14,169.06 413.80,170.90Q415.64,169.56 415.80,167.32Q416.80,165.30 415.80,163.28Q415.64,161.04 413.80,159.70ZM435.10,254.80Q436.57,258.53 440.30,260.00Q436.57,261.47 435.10,265.20Q433.63,261.47 429.90,260.00Q433.63,258.53 435.10,254.80ZM435.10,235.80 L436.66,238.96 L440.14,239.46 L437.62,241.92 L438.22,245.39 L435.10,243.75 L431.98,245.39 L432.58,241.92 L430.06,239.46 L433.54,238.96ZM455.20,249.90Q456.54,251.74 458.78,251.90Q460.80,252.90 462.82,251.90Q465.06,251.74 466.40,249.90Q464.56,251.24 464.40,253.48Q463.40,255.50 464.40,257.52Q464.56,259.76 466.40,261.10Q465.06,259.26 462.82,259.10Q460.80,258.10 458.78,259.10Q456.54,259.26 455.20,261.10Q457.04,259.76 457.20,257.52Q458.20,255.50 457.20,253.48Q457.04,251.24 455.20,249.90ZM468.40,251.90Q469.74,253.74 471.98,253.90Q474.00,254.90 476.02,253.90Q478.26,253.74 479.60,251.90Q477.76,253.24 477.60,255.48Q476.60,257.50 477.60,259.52Q477.76,261.76 479.60,263.10Q478.26,261.26 476.02,261.10Q474.00,260.10 471.98,261.10Q469.74,261.26 468.40,263.10Q470.24,261.76 470.40,259.52Q471.40,257.50 470.40,255.48Q470.24,253.24 468.40,251.90ZM481.70,249.50Q483.04,251.34 485.28,251.50Q487.30,252.50 489.32,251.50Q491.56,251.34 492.90,249.50Q491.06,250.84 490.90,253.08Q489.90,255.10 490.90,257.12Q491.06,259.36 492.90,260.70Q491.56,258.86 489.32,258.70Q487.30,257.70 485.28,258.70Q483.04,258.86 481.70,260.70Q483.54,259.36 483.70,257.12Q484.70,255.10 483.70,253.08Q483.54,250.84 481.70,249.50ZM502.10,259.90Q503.44,261.74 505.68,261.90Q507.70,262.90 509.72,261.90Q511.96,261.74 513.30,259.90Q511.46,261.24 511.30,263.48Q510.30,265.50 511.30,267.52Q511.46,269.76 513.30,271.10Q511.96,269.26 509.72,269.10Q507.70,268.10 505.68,269.10Q503.44,269.26 502.10,271.10Q503.94,269.76 504.10,267.52Q505.10,265.50 504.10,263.48Q503.94,261.24 502.10,259.90ZM512.90,257.40Q514.24,259.24 516.48,259.40Q518.50,260.40 520.52,259.40Q522.76,259.24 524.10,257.40Q522.26,258.74 522.10,260.98Q521.10,263.00 522.10,265.02Q522.26,267.26 524.10,268.60Q522.76,266.76 520.52,266.60Q518.50,265.60 516.48,266.60Q514.24,266.76 512.90,268.60Q514.74,267.26 514.90,265.02Q515.90,263.00 514.90,260.98Q514.74,258.74 512.90,257.40ZM569.80,257.00Q571.14,258.84 573.38,259.00Q575.40,260.00 577.42,259.00Q579.66,258.84 581.00,257.00Q579.16,258.34 579.00,260.58Q578.00,262.60 579.00,264.62Q579.16,266.86 581.00,268.20Q579.66,266.36 577.42,266.20Q575.40,265.20 573.38,266.20Q571.14,266.36 569.80,268.20Q571.64,266.86 571.80,264.62Q572.80,262.60 571.80,260.58Q571.64,258.34 569.80,257.00ZM631.30,251.60Q632.64,253.44 634.88,253.60Q636.90,254.60 638.92,253.60Q641.16,253.44 642.50,251.60Q640.66,252.94 640.50,255.18Q639.50,257.20 640.50,259.22Q640.66,261.46 642.50,262.80Q641.16,260.96 638.92,260.80Q636.90,259.80 634.88,260.80Q632.64,260.96 631.30,262.80Q633.14,261.46 633.30,259.22Q634.30,257.20 633.30,255.18Q633.14,252.94 631.30,251.60ZM642.60,245.70Q643.94,247.54 646.18,247.70Q648.20,248.70 650.22,247.70Q652.46,247.54 653.80,245.70Q651.96,247.04 651.80,249.28Q650.80,251.30 651.80,253.32Q651.96,255.56 653.80,256.90Q652.46,255.06 650.22,254.90Q648.20,253.90 646.18,254.90Q643.94,255.06 642.60,256.90Q644.44,255.56 644.60,253.32Q645.60,251.30 644.60,249.28Q644.44,247.04 642.60,245.70ZM654.20,251.60Q655.54,253.44 657.78,253.60Q659.80,254.60 661.82,253.60Q664.06,253.44 665.40,251.60Q663.56,252.94 663.40,255.18Q662.40,257.20 663.40,259.22Q663.56,261.46 665.40,262.80Q664.06,260.96 661.82,260.80Q659.80,259.80 657.78,260.80Q655.54,260.96 654.20,262.80Q656.04,261.46 656.20,259.22Q657.20,257.20 656.20,255.18Q656.04,252.94 654.20,251.60ZM680.20,254.20Q681.54,256.04 683.78,256.20Q685.80,257.20 687.82,256.20Q690.06,256.04 691.40,254.20Q689.56,255.54 689.40,257.78Q688.40,259.80 689.40,261.82Q689.56,264.06 691.40,265.40Q690.06,263.56 687.82,263.40Q685.80,262.40 683.78,263.40Q681.54,263.56 680.20,265.40Q682.04,264.06 682.20,261.82Q683.20,259.80 682.20,257.78Q682.04,255.54 680.20,254.20ZM696.90,253.90Q698.24,255.74 700.48,255.90Q702.50,256.90 704.52,255.90Q706.76,255.74 708.10,253.90Q706.26,255.24 706.10,257.48Q705.10,259.50 706.10,261.52Q706.26,263.76 708.10,265.10Q706.76,263.26 704.52,263.10Q702.50,262.10 700.48,263.10Q698.24,263.26 696.90,265.10Q698.74,263.76 698.90,261.52Q699.90,259.50 698.90,257.48Q698.74,255.24 696.90,253.90ZM732.60,253.00Q733.94,254.84 736.18,255.00Q738.20,256.00 740.22,255.00Q742.46,254.84 743.80,253.00Q741.96,254.34 741.80,256.58Q740.80,258.60 741.80,260.62Q741.96,262.86 743.80,264.20Q742.46,262.36 740.22,262.20Q738.20,261.20 736.18,262.20Q733.94,262.36 732.60,264.20Q734.44,262.86 734.60,260.62Q735.60,258.60 734.60,256.58Q734.44,254.34 732.60,253.00ZM751.10,255.30Q752.44,257.14 754.68,257.30Q756.70,258.30 758.72,257.30Q760.96,257.14 762.30,255.30Q760.46,256.64 760.30,258.88Q759.30,260.90 760.30,262.92Q760.46,265.16 762.30,266.50Q760.96,264.66 758.72,264.50Q756.70,263.50 754.68,264.50Q752.44,264.66 751.10,266.50Q752.94,265.16 753.10,262.92Q754.10,260.90 753.10,258.88Q752.94,256.64 751.10,255.30ZM768.80,252.70Q770.14,254.54 772.38,254.70Q774.40,255.70 776.42,254.70Q778.66,254.54 780.00,252.70Q778.16,254.04 778.00,256.28Q777.00,258.30 778.00,260.32Q778.16,262.56 780.00,263.90Q778.66,262.06 776.42,261.90Q774.40,260.90 772.38,261.90Q770.14,262.06 768.80,263.90Q770.64,262.56 770.80,260.32Q771.80,258.30 770.80,256.28Q770.64,254.04 768.80,252.70ZM785.30,257.30Q786.64,259.14 788.88,259.30Q790.90,260.30 792.92,259.30Q795.16,259.14 796.50,257.30Q794.66,258.64 794.50,260.88Q793.50,262.90 794.50,264.92Q794.66,267.16 796.50,268.50Q795.16,266.66 792.92,266.50Q790.90,265.50 788.88,266.50Q786.64,266.66 785.30,268.50Q787.14,267.16 787.30,264.92Q788.30,262.90 787.30,260.88Q787.14,258.64 785.30,257.30ZM828.60,258.20Q829.94,260.04 832.18,260.20Q834.20,261.20 836.22,260.20Q838.46,260.04 839.80,258.20Q837.96,259.54 837.80,261.78Q836.80,263.80 837.80,265.82Q837.96,268.06 839.80,269.40Q838.46,267.56 836.22,267.40Q834.20,266.40 832.18,267.40Q829.94,267.56 828.60,269.40Q830.44,268.06 830.60,265.82Q831.60,263.80 830.60,261.78Q830.44,259.54 828.60,258.20ZM910.90,258.30Q912.24,260.14 914.48,260.30Q916.50,261.30 918.52,260.30Q920.76,260.14 922.10,258.30Q920.26,259.64 920.10,261.88Q919.10,263.90 920.10,265.92Q920.26,268.16 922.10,269.50Q920.76,267.66 918.52,267.50Q916.50,266.50 914.48,267.50Q912.24,267.66 910.90,269.50Q912.74,268.16 912.90,265.92Q913.90,263.90 912.90,261.88Q912.74,259.64 910.90,258.30ZM335.70,657.60 L337.20,660.30 L340.29,660.25 L338.70,662.90 L340.29,665.55 L337.20,665.50 L335.70,668.20 L334.20,665.50 L331.11,665.55 L332.70,662.90 L331.11,660.25 L334.20,660.30ZM335.70,638.80 L337.35,640.43 L339.66,640.44 L339.67,642.75 L341.30,644.40 L339.67,646.05 L339.66,648.36 L337.35,648.37 L335.70,650.00 L334.05,648.37 L331.74,648.36 L331.73,646.05 L330.10,644.40 L331.73,642.75 L331.74,640.44 L334.05,640.43ZM386.60,670.80Q387.86,675.67 391.45,679.20Q386.60,677.07 381.75,679.20Q385.34,675.67 386.60,670.80ZM396.70,626.60Q398.17,630.33 401.90,631.80Q398.17,633.27 396.70,637.00Q395.23,633.27 391.50,631.80Q395.23,630.33 396.70,626.60ZM396.70,607.70 L398.26,610.86 L401.74,611.36 L399.22,613.82 L399.82,617.29 L396.70,615.65 L393.58,617.29 L394.18,613.82 L391.66,611.36 L395.14,610.86ZM396.70,588.00 L398.20,590.70 L401.29,590.65 L399.70,593.30 L401.29,595.95 L398.20,595.90 L396.70,598.60 L395.20,595.90 L392.11,595.95 L393.70,593.30 L392.11,590.65 L395.20,590.70ZM396.50,568.70 L398.15,570.33 L400.46,570.34 L400.47,572.65 L402.10,574.30 L400.47,575.95 L400.46,578.26 L398.15,578.27 L396.50,579.90 L394.85,578.27 L392.54,578.26 L392.53,575.95 L390.90,574.30 L392.53,572.65 L392.54,570.34 L394.85,570.33ZM434.60,662.50Q436.07,666.23 439.80,667.70Q436.07,669.17 434.60,672.90Q433.13,669.17 429.40,667.70Q433.13,666.23 434.60,662.50ZM434.60,644.30 L436.16,647.46 L439.64,647.96 L437.12,650.42 L437.72,653.89 L434.60,652.25 L431.48,653.89 L432.08,650.42 L429.56,647.96 L433.04,647.46ZM466.50,674.20Q467.97,677.93 471.70,679.40Q467.97,680.87 466.50,684.60Q465.03,680.87 461.30,679.40Q465.03,677.93 466.50,674.20ZM466.50,655.60 L468.06,658.76 L471.54,659.26 L469.02,661.72 L469.62,665.19 L466.50,663.55 L463.38,665.19 L463.98,661.72 L461.46,659.26 L464.94,658.76ZM491.40,664.00 L492.90,666.70 L495.99,666.65 L494.40,669.30 L495.99,671.95 L492.90,671.90 L491.40,674.60 L489.90,671.90 L486.81,671.95 L488.40,669.30 L486.81,666.65 L489.90,666.70ZM491.40,644.70 L493.05,646.33 L495.36,646.34 L495.37,648.65 L497.00,650.30 L495.37,651.95 L495.36,654.26 L493.05,654.27 L491.40,655.90 L489.75,654.27 L487.44,654.26 L487.43,651.95 L485.80,650.30 L487.43,648.65 L487.44,646.34 L489.75,646.33ZM542.00,678.60Q543.26,683.47 546.85,687.00Q542.00,684.87 537.15,687.00Q540.74,683.47 542.00,678.60ZM542.00,660.60Q543.47,664.33 547.20,665.80Q543.47,667.27 542.00,671.00Q540.53,667.27 536.80,665.80Q540.53,664.33 542.00,660.60ZM542.00,641.70 L543.56,644.86 L547.04,645.36 L544.52,647.82 L545.12,651.29 L542.00,649.65 L538.88,651.29 L539.48,647.82 L536.96,645.36 L540.44,644.86ZM603.90,674.70 L605.40,677.40 L608.49,677.35 L606.90,680.00 L608.49,682.65 L605.40,682.60 L603.90,685.30 L602.40,682.60 L599.31,682.65 L600.90,680.00 L599.31,677.35 L602.40,677.40ZM603.90,655.40 L605.55,657.03 L607.86,657.04 L607.87,659.35 L609.50,661.00 L607.87,662.65 L607.86,664.96 L605.55,664.97 L603.90,666.60 L602.25,664.97 L599.94,664.96 L599.93,662.65 L598.30,661.00 L599.93,659.35 L599.94,657.04 L602.25,657.03ZM637.90,671.90Q639.37,675.63 643.10,677.10Q639.37,678.57 637.90,682.30Q636.43,678.57 632.70,677.10Q636.43,675.63 637.90,671.90ZM637.90,652.60 L639.46,655.76 L642.94,656.26 L640.42,658.72 L641.02,662.19 L637.90,660.55 L634.78,662.19 L635.38,658.72 L632.86,656.26 L636.34,655.76ZM651.50,669.60Q652.97,673.33 656.70,674.80Q652.97,676.27 651.50,680.00Q650.03,676.27 646.30,674.80Q650.03,673.33 651.50,669.60ZM651.50,650.60 L653.06,653.76 L656.54,654.26 L654.02,656.72 L654.62,660.19 L651.50,658.55 L648.38,660.19 L648.98,656.72 L646.46,654.26 L649.94,653.76ZM690.50,675.20Q691.76,680.07 695.35,683.60Q690.50,681.47 685.65,683.60Q689.24,680.07 690.50,675.20ZM690.50,657.40Q691.97,661.13 695.70,662.60Q691.97,664.07 690.50,667.80Q689.03,664.07 685.30,662.60Q689.03,661.13 690.50,657.40ZM690.50,637.90 L692.06,641.06 L695.54,641.56 L693.02,644.02 L693.62,647.49 L690.50,645.85 L687.38,647.49 L687.98,644.02 L685.46,641.56 L688.94,641.06ZM705.10,667.40Q706.57,671.13 710.30,672.60Q706.57,674.07 705.10,677.80Q703.63,674.07 699.90,672.60Q703.63,671.13 705.10,667.40ZM705.10,648.70 L706.66,651.86 L710.14,652.36 L707.62,654.82 L708.22,658.29 L705.10,656.65 L701.98,658.29 L702.58,654.82 L700.06,652.36 L703.54,651.86ZM863.10,111.12Q866.34,119.63 872.09,126.69Q863.10,123.58 854.11,126.69Q859.86,119.63 863.10,111.12ZM962.60,111.41Q965.45,118.65 972.69,121.50Q965.45,124.35 962.60,131.59Q959.75,124.35 952.51,121.50Q959.75,118.65 962.60,111.41ZM1064.30,111.63 L1067.29,117.69 L1073.98,118.67 L1069.14,123.38 L1070.28,130.04 L1064.30,126.90 L1058.32,130.04 L1059.46,123.38 L1054.62,118.67 L1061.31,117.69ZM865.10,162.78 L867.94,167.89 L873.77,167.79 L870.77,172.80 L873.77,177.81 L867.94,177.71 L865.10,182.82 L862.26,177.71 L856.43,177.81 L859.43,172.80 L856.43,167.79 L862.26,167.89ZM967.90,163.02 L970.86,165.95 L975.03,165.97 L975.05,170.14 L977.98,173.10 L975.05,176.06 L975.03,180.23 L970.86,180.25 L967.90,183.18 L964.94,180.25 L960.77,180.23 L960.75,176.06 L957.82,173.10 L960.75,170.14 L960.77,165.97 L964.94,165.95ZM1045.30,165.10Q1047.20,167.49 1050.36,167.70Q1053.20,167.70 1056.04,167.70Q1059.20,167.49 1061.10,165.10Q1058.71,167.00 1058.50,170.16Q1058.50,173.00 1058.50,175.84Q1058.71,179.00 1061.10,180.90Q1059.20,178.51 1056.04,178.30Q1053.20,178.30 1050.36,178.30Q1047.20,178.51 1045.30,180.90Q1047.69,179.00 1047.90,175.84Q1047.90,173.00 1047.90,170.16Q1047.69,167.00 1045.30,165.10Z" fill="#000"/>
<rect x="189.5" y="98.5" width="902.5" height="666" fill="none" stroke="#000" stroke-width="3" stroke-linejoin="round"/>
<path d="M189.9,765 L189.9,777.3 M246.3,765 L246.3,771.3 M302.7,765 L302.7,777.3 M359.1,765 L359.1,771.3 M415.5,765 L415.5,777.3 M471.9,765 L471.9,771.3 M528.3,765 L528.3,777.3 M584.7,765 L584.7,771.3 M641.1,765 L641.1,777.3 M697.5,765 L697.5,771.3 M753.9,765 L753.9,777.3 M810.3,765 L810.3,771.3 M866.7,765 L866.7,777.3 M923.1,765 L923.1,771.3 M979.5,765 L979.5,777.3 M1035.9,765 L1035.9,771.3 M1092.3,765 L1092.3,777.3" stroke="#000" stroke-width="3" stroke-linecap="round" fill="none"/>
<text class="sans" x="189.9" y="807.8" font-size="28" text-anchor="middle">10</text>
<text class="sans" x="302.7" y="807.8" font-size="28" text-anchor="middle">20</text>
<text class="sans" x="415.5" y="807.8" font-size="28" text-anchor="middle">30</text>
<text class="sans" x="528.3" y="807.8" font-size="28" text-anchor="middle">40</text>
<text class="sans" x="641.1" y="807.8" font-size="28" text-anchor="middle">50</text>
<text class="sans" x="753.9" y="807.8" font-size="28" text-anchor="middle">60</text>
<text class="sans" x="866.7" y="807.8" font-size="28" text-anchor="middle">70</text>
<text class="sans" x="979.5" y="807.8" font-size="28" text-anchor="middle">80</text>
<text class="sans" x="1092.3" y="807.8" font-size="28" text-anchor="middle">90</text>
<text class="serif" x="617.2" y="842.6" font-size="35">2θ(°)</text>
<text class="serif" x="0" y="0" font-size="43.3" transform="translate(168.6 564.4) rotate(-90)">Intensity(cps)</text>
<text class="serif" x="-0.77" y="0" font-size="25.6" transform="translate(964.9 268.9) scale(0.960 1)">E1-1400<tspan font-size="33" dx="0.7" dy="-1">°</tspan><tspan dx="0.9" dy="1">C</tspan></text>
<text class="serif" x="-0.77" y="0" font-size="25.6" transform="translate(949.4 359.8) scale(0.960 1)">ESC-1400<tspan font-size="33" dx="0.7" dy="-1">°</tspan><tspan dx="0.9" dy="1">C</tspan></text>
<text class="serif" x="-0.77" y="0" font-size="25.6" transform="translate(969.5 452.0) scale(0.960 1)">E1-1200<tspan font-size="33" dx="0.7" dy="-1">°</tspan><tspan dx="0.9" dy="1">C</tspan></text>
<text class="serif" x="-0.77" y="0" font-size="25.6" transform="translate(950.3 538.9) scale(0.960 1)">ESC-1200<tspan font-size="33" dx="0.7" dy="-1">°</tspan><tspan dx="0.9" dy="1">C</tspan></text>
<text class="serif" x="-0.77" y="0" font-size="25.6" transform="translate(960.2 689.6) scale(0.960 1)">E1 -1000<tspan font-size="33" dx="0.7" dy="-1">°</tspan><tspan dx="0.9" dy="1">C</tspan></text>
<text class="serif" x="-0.77" y="0" font-size="25.6" transform="translate(948.3 737.6) scale(0.960 1)">ESC-1000<tspan font-size="33" dx="0.7" dy="-1">°</tspan><tspan dx="0.9" dy="1">C</tspan></text>
<text class="serif" x="787.3" y="131.7" font-size="29.3">TiO</text>
<text class="serif" x="834.4" y="143.8" font-size="14.3">2</text>
<text class="serif" x="889.3" y="131.7" font-size="29.3">ZrO</text>
<text class="serif" x="939.0" y="141.5" font-size="14.3">2</text>
<text class="serif" x="993.0" y="131.7" font-size="29.3">HfO</text>
<text class="serif" x="1044.1" y="141.5" font-size="14.3">2</text>
<text class="serif" x="786.6" y="184.0" font-size="28.4">Nb</text>
<text class="serif" x="819.3" y="194.0" font-size="14.3">2</text>
<text class="serif" x="826.0" y="184.0" font-size="28.4">O</text>
<text class="serif" x="845.3" y="194.0" font-size="14.3">5</text>
<text class="serif" x="891.8" y="184.0" font-size="28.4">Ta</text>
<text class="serif" x="919.1" y="194.0" font-size="14.3">2</text>
<text class="serif" x="926.2" y="184.0" font-size="28.4">O</text>
<text class="serif" x="946.4" y="194.0" font-size="14.3">5</text>
<text class="serif" x="993.0" y="184.0" font-size="28.4">MO</text>
</svg>
</body></html>
